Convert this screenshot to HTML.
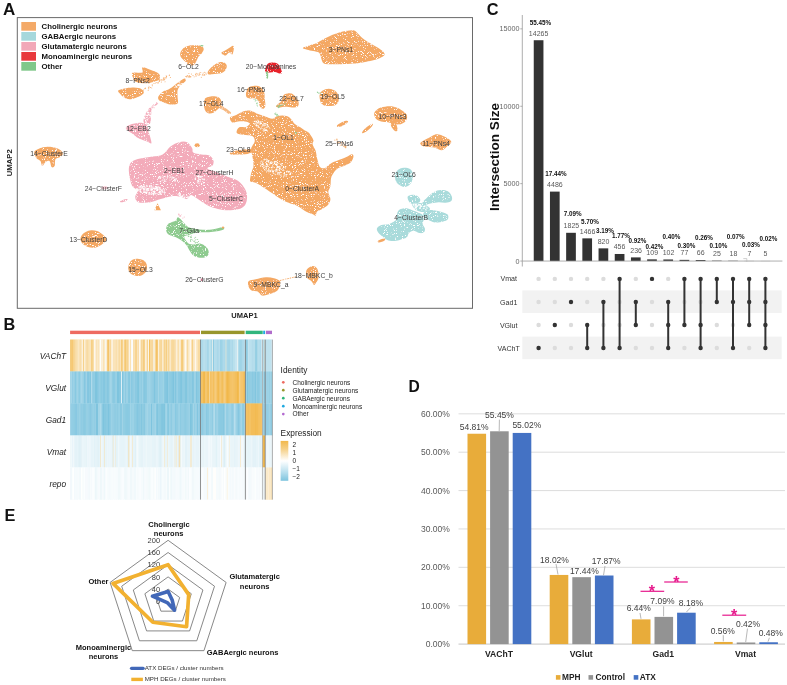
<!DOCTYPE html>
<html><head><meta charset="utf-8"><style>
html,body{margin:0;padding:0;background:#fff;}
body{width:787px;height:685px;overflow:hidden;}
svg{display:block;font-family:"Liberation Sans", sans-serif;}
</style></head><body>
<svg width="787" height="685" viewBox="0 0 787 685">
<rect width="787" height="685" fill="#fff"/>
<defs><filter id="sp" filterUnits="userSpaceOnUse" x="17" y="17" width="456" height="292"><feTurbulence type="fractalNoise" baseFrequency="0.9" numOctaves="2" seed="5" result="n"/><feColorMatrix in="n" type="matrix" values="0 0 0 0 1  0 0 0 0 1  0 0 0 0 1  8 0 0 0 -4.9" result="w"/><feComposite in="w" in2="SourceGraphic" operator="in" result="wi"/><feMerge><feMergeNode in="SourceGraphic"/><feMergeNode in="wi"/></feMerge></filter></defs>
<rect x="17.3" y="17.6" width="455.2" height="290.7" fill="none" stroke="#6a6a6a" stroke-width="1"/>
<g filter="url(#sp)">
<path d="M180.2,53.4C180.5,51.9 181.9,49.6 183.3,48.3C184.7,47.0 186.4,46.2 188.4,45.7C190.4,45.2 193.3,45.1 195.5,45.2C197.7,45.3 200.3,45.5 201.7,46.2C203.1,46.9 203.7,48.1 203.7,49.3C203.7,50.5 202.5,52.2 201.7,53.4C200.8,54.6 199.4,55.3 198.6,56.5C197.8,57.7 197.2,59.3 196.6,60.5C196.0,61.7 195.7,62.8 195.0,63.6C194.3,64.5 193.6,65.4 192.5,65.6C191.4,65.8 189.6,65.3 188.4,64.6C187.2,63.9 186.5,62.8 185.3,61.6C184.1,60.4 182.0,58.9 181.2,57.5C180.3,56.1 179.8,54.9 180.2,53.4Z" fill="#F4A863" fill-opacity="1"/>
<ellipse cx="201.6" cy="45.8" rx="2" ry="0.8" fill="#8ECB8F"/>
<path d="M221.1,52.9C221.8,52.0 225.2,50.5 227.2,49.3C229.1,48.1 231.7,45.8 232.8,45.7C233.9,45.6 233.9,47.3 233.8,48.8C233.7,50.2 233.1,53.8 232.3,54.4C231.5,55.0 230.3,52.2 229.2,52.4C228.1,52.6 226.7,55.1 225.7,55.4C224.7,55.7 223.9,54.8 223.1,54.4C222.3,54.0 220.4,53.8 221.1,52.9Z" fill="#F4A863" fill-opacity="1"/>
<path d="M207.8,71.8C208.2,70.7 209.7,68.9 210.9,67.7C212.1,66.5 213.4,65.5 214.9,64.6C216.4,63.7 218.6,62.4 220.1,62.1C221.6,61.8 223.0,62.0 224.1,62.6C225.2,63.2 226.4,64.4 226.7,65.6C227.0,66.8 226.5,68.5 225.7,69.7C224.9,70.9 223.5,72.1 222.1,72.8C220.7,73.5 218.7,73.5 217.0,73.8C215.3,74.0 213.3,74.2 211.9,74.3C210.5,74.4 209.0,74.7 208.3,74.3C207.6,73.9 207.4,72.9 207.8,71.8Z" fill="#F4A863" fill-opacity="1"/>
<circle cx="194.1" cy="76.8" r="0.5" fill="#F4A863"/>
<circle cx="186.5" cy="76.0" r="0.5" fill="#F4A863"/>
<circle cx="186.9" cy="76.3" r="0.5" fill="#F4A863"/>
<circle cx="196.0" cy="75.2" r="0.5" fill="#F4A863"/>
<circle cx="195.6" cy="74.5" r="0.5" fill="#F4A863"/>
<circle cx="188.9" cy="73.6" r="0.5" fill="#F4A863"/>
<circle cx="196.1" cy="76.5" r="0.5" fill="#F4A863"/>
<circle cx="187.6" cy="75.6" r="0.5" fill="#F4A863"/>
<circle cx="189.9" cy="76.7" r="0.5" fill="#F4A863"/>
<circle cx="204.6" cy="75.1" r="0.5" fill="#F4A863"/>
<circle cx="199.0" cy="75.4" r="0.5" fill="#F4A863"/>
<circle cx="188.1" cy="76.6" r="0.5" fill="#F4A863"/>
<circle cx="200.0" cy="74.6" r="0.5" fill="#F4A863"/>
<circle cx="197.9" cy="74.7" r="0.5" fill="#F4A863"/>
<circle cx="203.2" cy="72.9" r="0.5" fill="#F4A863"/>
<circle cx="196.2" cy="74.1" r="0.5" fill="#F4A863"/>
<circle cx="201.3" cy="77.2" r="0.5" fill="#F4A863"/>
<circle cx="186.8" cy="77.1" r="0.5" fill="#F4A863"/>
<circle cx="189.0" cy="76.0" r="0.5" fill="#F4A863"/>
<circle cx="200.8" cy="72.6" r="0.5" fill="#F4A863"/>
<circle cx="204.5" cy="75.1" r="0.5" fill="#F4A863"/>
<circle cx="197.9" cy="73.8" r="0.5" fill="#F4A863"/>
<circle cx="205.8" cy="73.1" r="0.5" fill="#F4A863"/>
<circle cx="202.3" cy="74.9" r="0.5" fill="#F4A863"/>
<circle cx="202.5" cy="74.1" r="0.5" fill="#F4A863"/>
<circle cx="190.9" cy="76.7" r="0.5" fill="#F4A863"/>
<circle cx="185.8" cy="76.6" r="0.5" fill="#F4A863"/>
<circle cx="190.5" cy="76.8" r="0.5" fill="#F4A863"/>
<circle cx="188.9" cy="77.2" r="0.5" fill="#F4A863"/>
<circle cx="206.3" cy="74.1" r="0.5" fill="#F4A863"/>
<circle cx="199.7" cy="73.1" r="0.5" fill="#F4A863"/>
<circle cx="204.8" cy="74.7" r="0.5" fill="#F4A863"/>
<circle cx="196.1" cy="73.2" r="0.5" fill="#F4A863"/>
<circle cx="189.7" cy="76.8" r="0.5" fill="#F4A863"/>
<circle cx="189.5" cy="75.8" r="0.5" fill="#F4A863"/>
<circle cx="193.0" cy="75.6" r="0.5" fill="#F4A863"/>
<circle cx="191.4" cy="74.0" r="0.5" fill="#F4A863"/>
<circle cx="199.5" cy="73.9" r="0.5" fill="#F4A863"/>
<circle cx="203.3" cy="75.0" r="0.5" fill="#F4A863"/>
<circle cx="204.7" cy="72.2" r="0.5" fill="#F4A863"/>
<path d="M132.5,72.7C134.0,71.8 140.5,73.4 142.2,72.5C143.9,71.6 141.1,67.8 142.5,67.4C143.9,67.0 148.4,69.2 150.9,70.1C153.4,71.0 156.0,71.8 157.5,72.7C159.0,73.7 159.8,74.6 160.0,75.8C160.2,77.0 159.8,78.9 159.0,79.8C158.2,80.7 156.6,80.9 154.9,81.4C153.2,81.9 151.2,82.7 148.8,82.9C146.4,83.2 143.0,83.2 140.6,82.9C138.2,82.6 135.8,81.8 134.5,80.9C133.2,80.1 133.3,79.2 133.0,77.8C132.7,76.4 131.0,73.6 132.5,72.7Z" fill="#F4A863" fill-opacity="1"/>
<path d="M118.2,90.6C118.9,89.7 121.9,89.0 124.3,88.5C126.7,88.0 130.1,87.6 132.5,87.5C134.9,87.4 136.9,87.6 138.6,88.0C140.3,88.4 141.8,89.2 142.7,90.1C143.5,90.9 144.0,92.2 143.7,93.1C143.3,94.0 142.1,94.8 140.6,95.7C139.1,96.6 136.4,97.6 134.5,98.2C132.6,98.8 131.1,99.3 129.4,99.2C127.7,99.1 125.8,98.6 124.3,97.7C122.8,96.8 121.2,95.3 120.2,94.1C119.2,92.9 117.5,91.5 118.2,90.6Z" fill="#F4A863" fill-opacity="1"/>
<circle cx="152.2" cy="84.7" r="0.5" fill="#F4A863"/>
<circle cx="159.4" cy="81.6" r="0.5" fill="#F4A863"/>
<circle cx="149.0" cy="87.7" r="0.5" fill="#F4A863"/>
<circle cx="145.2" cy="88.4" r="0.5" fill="#F4A863"/>
<circle cx="145.3" cy="88.1" r="0.5" fill="#F4A863"/>
<circle cx="164.2" cy="77.9" r="0.5" fill="#F4A863"/>
<circle cx="148.4" cy="87.2" r="0.5" fill="#F4A863"/>
<circle cx="149.0" cy="83.4" r="0.5" fill="#F4A863"/>
<circle cx="154.0" cy="83.5" r="0.5" fill="#F4A863"/>
<circle cx="144.9" cy="88.8" r="0.5" fill="#F4A863"/>
<circle cx="163.9" cy="79.3" r="0.5" fill="#F4A863"/>
<circle cx="165.9" cy="77.4" r="0.5" fill="#F4A863"/>
<circle cx="158.5" cy="82.8" r="0.5" fill="#F4A863"/>
<circle cx="169.1" cy="75.4" r="0.5" fill="#F4A863"/>
<circle cx="148.9" cy="86.6" r="0.5" fill="#F4A863"/>
<circle cx="159.6" cy="79.2" r="0.5" fill="#F4A863"/>
<circle cx="151.7" cy="87.9" r="0.5" fill="#F4A863"/>
<circle cx="169.4" cy="74.9" r="0.5" fill="#F4A863"/>
<circle cx="163.4" cy="78.0" r="0.5" fill="#F4A863"/>
<circle cx="155.7" cy="83.1" r="0.5" fill="#F4A863"/>
<circle cx="143.5" cy="89.9" r="0.5" fill="#F4A863"/>
<circle cx="162.0" cy="80.2" r="0.5" fill="#F4A863"/>
<circle cx="170.4" cy="77.5" r="0.5" fill="#F4A863"/>
<circle cx="152.3" cy="85.8" r="0.5" fill="#F4A863"/>
<circle cx="148.6" cy="88.8" r="0.5" fill="#F4A863"/>
<circle cx="166.5" cy="76.7" r="0.5" fill="#F4A863"/>
<circle cx="159.5" cy="80.5" r="0.5" fill="#F4A863"/>
<circle cx="161.9" cy="79.6" r="0.5" fill="#F4A863"/>
<circle cx="160.8" cy="80.1" r="0.5" fill="#F4A863"/>
<circle cx="161.3" cy="82.0" r="0.5" fill="#F4A863"/>
<circle cx="166.0" cy="78.3" r="0.5" fill="#F4A863"/>
<circle cx="166.5" cy="76.7" r="0.5" fill="#F4A863"/>
<circle cx="148.2" cy="90.3" r="0.5" fill="#F4A863"/>
<circle cx="165.0" cy="81.7" r="0.5" fill="#F4A863"/>
<circle cx="166.7" cy="76.0" r="0.5" fill="#F4A863"/>
<circle cx="156.9" cy="82.6" r="0.5" fill="#F4A863"/>
<circle cx="166.1" cy="75.8" r="0.5" fill="#F4A863"/>
<circle cx="163.4" cy="79.1" r="0.5" fill="#F4A863"/>
<circle cx="163.9" cy="80.3" r="0.5" fill="#F4A863"/>
<circle cx="150.5" cy="87.6" r="0.5" fill="#F4A863"/>
<circle cx="148.7" cy="86.3" r="0.5" fill="#F4A863"/>
<circle cx="164.7" cy="79.5" r="0.5" fill="#F4A863"/>
<circle cx="159.0" cy="81.1" r="0.5" fill="#F4A863"/>
<circle cx="164.0" cy="78.0" r="0.5" fill="#F4A863"/>
<circle cx="157.8" cy="82.9" r="0.5" fill="#F4A863"/>
<path d="M158.4,96.4C159.0,95.1 160.8,93.1 162.5,91.9C164.2,90.7 166.8,90.3 168.7,89.3C170.6,88.3 172.2,87.0 174.0,85.7C175.8,84.4 177.6,82.8 179.4,81.6C181.2,80.4 183.7,78.7 184.7,78.6C185.7,78.5 186.3,79.7 185.6,80.9C184.9,82.1 181.6,84.2 180.3,85.7C179.0,87.2 178.1,88.3 177.6,90.2C177.1,92.1 177.6,95.1 177.6,97.3C177.6,99.5 178.8,102.3 177.6,103.5C176.4,104.7 172.9,104.6 170.5,104.4C168.1,104.2 165.3,103.0 163.4,102.2C161.5,101.5 159.7,100.9 158.9,99.9C158.1,98.9 157.8,97.7 158.4,96.4Z" fill="#F4A863" fill-opacity="1"/>
<circle cx="179.6" cy="82.1" r="0.59" fill="#fff"/>
<circle cx="180.0" cy="83.9" r="0.53" fill="#fff"/>
<circle cx="178.3" cy="85.1" r="0.71" fill="#fff"/>
<circle cx="174.9" cy="87.5" r="0.50" fill="#fff"/>
<circle cx="176.9" cy="87.3" r="0.60" fill="#fff"/>
<circle cx="179.2" cy="85.6" r="0.76" fill="#fff"/>
<circle cx="177.8" cy="85.7" r="0.60" fill="#fff"/>
<circle cx="178.6" cy="85.6" r="0.58" fill="#fff"/>
<circle cx="178.2" cy="84.7" r="0.78" fill="#fff"/>
<circle cx="180.6" cy="85.2" r="0.78" fill="#fff"/>
<circle cx="176.2" cy="86.6" r="0.78" fill="#fff"/>
<circle cx="179.9" cy="81.7" r="0.45" fill="#fff"/>
<path d="M204.7,98.9C205.4,97.5 206.7,97.3 208.3,96.9C209.9,96.5 212.5,96.1 214.4,96.3C216.3,96.5 218.3,96.9 219.5,97.9C220.7,98.9 221.4,101.0 221.6,102.5C221.8,104.0 221.2,105.4 220.5,106.6C219.8,107.8 218.7,108.6 217.5,109.6C216.3,110.6 214.9,112.1 213.4,112.7C211.9,113.3 209.7,113.6 208.3,113.2C206.9,112.8 205.9,111.9 205.2,110.6C204.5,109.3 204.1,107.5 204.0,105.5C203.9,103.5 204.0,100.3 204.7,98.9Z" fill="#F4A863" fill-opacity="1"/>
<path d="M220.0,105.0C221.1,105.1 224.2,107.2 226.0,108.5C227.8,109.8 230.5,111.6 231.0,112.5C231.5,113.4 230.2,114.3 229.0,114.0C227.8,113.7 225.6,111.5 224.0,110.5C222.4,109.5 220.2,108.9 219.5,108.0C218.8,107.1 218.9,104.9 220.0,105.0Z" fill="#F4A863" fill-opacity="0.8"/>
<path d="M125.8,127.8C126.0,126.8 128.0,125.6 129.5,124.9C131.0,124.2 132.8,123.9 134.6,123.5C136.4,123.1 138.8,122.7 140.4,122.7C142.0,122.7 143.0,123.0 144.1,123.5C145.2,124.0 146.3,124.4 147.0,125.7C147.7,127.0 148.0,129.8 148.5,131.5C149.0,133.2 149.4,134.0 149.9,135.9C150.4,137.8 151.8,142.2 151.4,143.2C151.0,144.2 149.0,142.2 147.7,141.7C146.4,141.2 145.0,140.9 143.4,140.3C141.8,139.7 140.0,139.2 138.2,138.1C136.4,137.0 134.1,134.9 132.4,133.7C130.7,132.5 129.1,131.8 128.0,130.8C126.9,129.8 125.5,128.8 125.8,127.8Z" fill="#F3ABBA" fill-opacity="1"/>
<path d="M143.5,120.0C143.7,118.1 145.0,115.0 146.0,113.0C147.0,111.0 148.6,108.7 149.5,108.0C150.4,107.3 151.2,107.7 151.5,109.0C151.8,110.3 151.2,113.6 151.0,116.0C150.8,118.4 151.0,122.1 150.0,123.5C149.0,124.9 146.1,124.8 145.0,124.2C143.9,123.6 143.3,121.9 143.5,120.0Z" fill="#F3ABBA" fill-opacity="1"/>
<circle cx="149.3" cy="109.7" r="0.50" fill="#fff"/>
<circle cx="144.5" cy="117.7" r="0.71" fill="#fff"/>
<circle cx="148.8" cy="118.7" r="0.46" fill="#fff"/>
<circle cx="147.4" cy="115.6" r="0.80" fill="#fff"/>
<circle cx="151.6" cy="111.7" r="0.57" fill="#fff"/>
<circle cx="148.7" cy="113.7" r="0.48" fill="#fff"/>
<circle cx="145.9" cy="118.9" r="0.41" fill="#fff"/>
<circle cx="148.6" cy="115.2" r="0.41" fill="#fff"/>
<circle cx="146.4" cy="117.5" r="0.60" fill="#fff"/>
<circle cx="146.2" cy="111.9" r="0.42" fill="#fff"/>
<circle cx="150.8" cy="113.2" r="0.45" fill="#fff"/>
<circle cx="145.9" cy="121.8" r="0.73" fill="#fff"/>
<circle cx="147.7" cy="110.5" r="0.77" fill="#fff"/>
<circle cx="147.7" cy="119.0" r="0.44" fill="#fff"/>
<circle cx="144.3" cy="117.9" r="0.57" fill="#fff"/>
<circle cx="147.7" cy="120.6" r="0.43" fill="#fff"/>
<circle cx="150.6" cy="116.0" r="0.54" fill="#fff"/>
<circle cx="146.7" cy="122.3" r="0.51" fill="#fff"/>
<circle cx="145.4" cy="115.7" r="0.50" fill="#fff"/>
<circle cx="147.5" cy="112.8" r="0.70" fill="#fff"/>
<circle cx="146.6" cy="115.6" r="0.47" fill="#fff"/>
<circle cx="149.4" cy="117.2" r="0.48" fill="#fff"/>
<circle cx="146.1" cy="122.3" r="0.44" fill="#fff"/>
<circle cx="150.4" cy="115.6" r="0.60" fill="#fff"/>
<circle cx="150.7" cy="115.1" r="0.60" fill="#fff"/>
<circle cx="145.6" cy="120.5" r="0.68" fill="#fff"/>
<circle cx="149.3" cy="114.9" r="0.54" fill="#fff"/>
<circle cx="144.2" cy="118.7" r="0.50" fill="#fff"/>
<circle cx="150.0" cy="113.1" r="0.50" fill="#fff"/>
<circle cx="146.8" cy="115.0" r="0.46" fill="#fff"/>
<circle cx="148.6" cy="112.5" r="0.78" fill="#fff"/>
<circle cx="151.0" cy="117.5" r="0.50" fill="#fff"/>
<circle cx="147.3" cy="115.4" r="0.60" fill="#fff"/>
<circle cx="146.0" cy="115.5" r="0.40" fill="#fff"/>
<circle cx="148.0" cy="109.6" r="0.56" fill="#fff"/>
<circle cx="147.7" cy="111.8" r="0.63" fill="#fff"/>
<circle cx="147.2" cy="119.7" r="0.66" fill="#fff"/>
<circle cx="156.3" cy="104.2" r="0.5" fill="#F3ABBA"/>
<circle cx="153.1" cy="107.0" r="0.5" fill="#F3ABBA"/>
<circle cx="155.6" cy="104.5" r="0.5" fill="#F3ABBA"/>
<circle cx="157.6" cy="103.3" r="0.5" fill="#F3ABBA"/>
<circle cx="156.0" cy="104.2" r="0.5" fill="#F3ABBA"/>
<circle cx="152.7" cy="105.8" r="0.5" fill="#F3ABBA"/>
<circle cx="156.9" cy="103.2" r="0.5" fill="#F3ABBA"/>
<circle cx="156.6" cy="102.5" r="0.5" fill="#F3ABBA"/>
<circle cx="152.3" cy="107.7" r="0.5" fill="#F3ABBA"/>
<circle cx="154.1" cy="107.8" r="0.5" fill="#F3ABBA"/>
<circle cx="153.7" cy="104.8" r="0.5" fill="#F3ABBA"/>
<circle cx="155.4" cy="104.9" r="0.5" fill="#F3ABBA"/>
<circle cx="156.4" cy="103.3" r="0.5" fill="#F3ABBA"/>
<circle cx="154.1" cy="105.5" r="0.5" fill="#F3ABBA"/>
<circle cx="155.9" cy="104.9" r="0.5" fill="#F3ABBA"/>
<circle cx="152.1" cy="106.9" r="0.5" fill="#F3ABBA"/>
<circle cx="156.8" cy="104.4" r="0.5" fill="#F3ABBA"/>
<circle cx="151.9" cy="106.9" r="0.5" fill="#F3ABBA"/>
<path d="M34.3,151.8C34.8,150.2 37.2,149.2 39.4,148.4C41.6,147.6 44.5,146.8 47.5,146.8C50.5,146.8 55.2,147.4 57.7,148.4C60.2,149.4 62.2,151.5 62.7,152.9C63.2,154.3 61.9,155.9 60.7,156.9C59.5,157.9 56.6,157.5 55.6,159.0C54.6,160.5 55.3,164.8 54.6,166.1C53.9,167.4 52.5,167.9 51.6,167.1C50.8,166.2 50.5,161.8 49.5,161.0C48.5,160.2 46.7,161.2 45.5,162.0C44.3,162.8 43.2,166.3 42.4,166.1C41.5,165.9 41.4,162.4 40.4,161.0C39.4,159.6 37.3,159.4 36.3,157.9C35.3,156.4 33.8,153.4 34.3,151.8Z" fill="#F4A863" fill-opacity="1"/>
<path d="M302.8,47.9C303.2,47.2 307.2,46.3 309.5,45.5C311.8,44.7 314.5,44.1 316.7,43.1C318.9,42.1 320.6,40.7 322.8,39.5C325.0,38.3 327.4,37.0 330.0,35.9C332.6,34.8 335.7,33.6 338.5,32.8C341.3,31.9 344.3,31.2 346.9,30.8C349.5,30.4 352.4,29.9 354.2,30.4C356.0,30.8 356.4,32.2 357.8,33.5C359.2,34.8 360.6,36.7 362.6,38.3C364.6,39.9 367.4,41.6 369.8,43.1C372.2,44.6 374.9,45.9 377.1,47.3C379.3,48.7 381.9,50.3 383.1,51.6C384.3,52.9 384.9,54.1 384.3,55.2C383.7,56.3 381.5,57.3 379.5,58.2C377.5,59.1 375.1,59.9 372.3,60.6C369.5,61.3 365.8,61.9 362.6,62.4C359.4,62.9 356.5,63.3 352.9,63.6C349.3,63.9 345.1,64.1 340.9,64.2C336.7,64.3 330.6,64.5 327.6,64.2C324.6,63.9 323.9,63.5 322.8,62.4C321.7,61.3 321.6,59.2 321.0,57.6C320.4,56.0 320.4,53.9 319.1,52.8C317.8,51.7 315.1,51.5 313.1,51.0C311.1,50.5 308.8,50.2 307.1,49.7C305.4,49.2 302.4,48.6 302.8,47.9Z" fill="#F4A863" fill-opacity="1"/>
<path d="M265.0,70.0C265.1,68.8 265.8,66.7 266.5,65.5C267.2,64.3 267.8,63.5 269.0,63.0C270.2,62.5 272.5,62.3 274.0,62.5C275.5,62.7 277.0,63.2 278.0,64.0C279.0,64.8 279.4,65.9 280.0,67.0C280.6,68.1 281.2,69.5 281.5,70.5C281.8,71.5 282.3,72.5 282.0,73.0C281.7,73.5 280.7,73.7 279.5,73.5C278.3,73.3 276.6,72.2 275.0,72.0C273.4,71.8 271.5,72.4 270.0,72.5C268.5,72.6 266.8,72.9 266.0,72.5C265.2,72.1 264.9,71.2 265.0,70.0Z" fill="#E8222B" fill-opacity="1"/>
<path d="M266.0,72.0C266.2,71.0 267.7,71.0 268.0,72.0C268.3,73.0 268.2,77.0 268.0,78.0C267.8,79.0 266.8,79.0 266.5,78.0C266.2,77.0 265.8,73.0 266.0,72.0Z" fill="#8ECB8F" fill-opacity="1"/>
<path d="M246.0,93.3C246.2,91.8 246.8,89.2 248.0,88.0C249.2,86.8 251.3,86.2 253.3,86.0C255.3,85.8 258.2,85.7 260.0,86.7C261.8,87.7 263.2,90.0 264.0,92.0C264.8,94.0 264.5,96.5 264.7,98.7C264.9,100.9 265.6,103.7 265.4,105.4C265.2,107.1 264.2,108.5 263.3,108.7C262.4,108.9 260.8,108.0 260.0,106.7C259.2,105.4 259.3,102.4 258.5,101.0C257.7,99.6 256.4,98.9 255.0,98.5C253.6,98.1 251.4,98.7 250.0,98.5C248.6,98.3 247.4,98.2 246.7,97.3C246.0,96.4 245.8,94.8 246.0,93.3Z" fill="#F4A863" fill-opacity="1"/>
<circle cx="256.7" cy="103.8" r="0.5" fill="#8ECB8F"/>
<circle cx="255.5" cy="99.9" r="0.5" fill="#8ECB8F"/>
<circle cx="257.0" cy="104.9" r="0.5" fill="#8ECB8F"/>
<circle cx="255.5" cy="99.3" r="0.5" fill="#8ECB8F"/>
<circle cx="256.7" cy="102.9" r="0.5" fill="#8ECB8F"/>
<circle cx="255.2" cy="101.0" r="0.5" fill="#8ECB8F"/>
<circle cx="257.3" cy="103.1" r="0.5" fill="#8ECB8F"/>
<circle cx="257.0" cy="100.2" r="0.5" fill="#8ECB8F"/>
<circle cx="254.0" cy="99.4" r="0.5" fill="#8ECB8F"/>
<circle cx="257.5" cy="105.9" r="0.5" fill="#8ECB8F"/>
<path d="M284.0,94.7C285.6,93.4 288.7,92.9 290.7,93.3C292.7,93.7 294.7,95.7 296.0,97.3C297.3,98.9 298.5,101.1 298.7,102.7C298.9,104.3 298.5,105.9 297.4,106.7C296.3,107.5 294.0,107.4 292.0,107.4C290.0,107.4 287.4,106.7 285.4,106.7C283.4,106.7 281.6,107.4 280.0,107.4C278.4,107.4 276.3,107.3 276.0,106.7C275.7,106.1 277.1,104.9 278.0,104.0C278.9,103.1 280.4,102.8 281.4,101.3C282.4,99.8 282.4,96.0 284.0,94.7Z" fill="#F4A863" fill-opacity="1"/>
<circle cx="279.1" cy="106.0" r="0.55" fill="#8ECB8F"/>
<circle cx="282.2" cy="105.3" r="0.55" fill="#8ECB8F"/>
<circle cx="285.5" cy="104.1" r="0.55" fill="#8ECB8F"/>
<circle cx="281.9" cy="104.3" r="0.55" fill="#8ECB8F"/>
<circle cx="279.5" cy="105.6" r="0.55" fill="#8ECB8F"/>
<circle cx="278.0" cy="106.9" r="0.55" fill="#8ECB8F"/>
<circle cx="280.5" cy="105.6" r="0.55" fill="#8ECB8F"/>
<circle cx="279.2" cy="106.9" r="0.55" fill="#8ECB8F"/>
<circle cx="277.0" cy="105.7" r="0.55" fill="#8ECB8F"/>
<circle cx="279.0" cy="106.0" r="0.55" fill="#8ECB8F"/>
<circle cx="284.0" cy="104.0" r="0.55" fill="#8ECB8F"/>
<circle cx="281.1" cy="105.4" r="0.55" fill="#8ECB8F"/>
<circle cx="279.4" cy="105.8" r="0.55" fill="#8ECB8F"/>
<circle cx="278.5" cy="107.6" r="0.55" fill="#8ECB8F"/>
<path d="M320.0,93.3C320.9,91.5 323.4,90.0 325.4,89.3C327.4,88.6 330.0,88.6 332.0,89.3C334.0,90.0 336.3,91.5 337.4,93.3C338.5,95.1 338.9,98.1 338.7,100.0C338.5,101.9 337.6,103.7 336.0,104.7C334.4,105.7 331.6,106.0 329.4,106.0C327.2,106.0 324.3,105.7 322.7,104.7C321.1,103.7 320.4,101.9 320.0,100.0C319.6,98.1 319.1,95.1 320.0,93.3Z" fill="#F4A863" fill-opacity="1"/>
<circle cx="319.2" cy="92.9" r="0.5" fill="#8ECB8F"/>
<circle cx="318.4" cy="93.0" r="0.5" fill="#8ECB8F"/>
<circle cx="320.4" cy="93.0" r="0.5" fill="#8ECB8F"/>
<circle cx="321.5" cy="93.3" r="0.5" fill="#8ECB8F"/>
<circle cx="322.4" cy="94.1" r="0.5" fill="#8ECB8F"/>
<circle cx="317.3" cy="92.1" r="0.5" fill="#8ECB8F"/>
<circle cx="321.6" cy="93.7" r="0.5" fill="#8ECB8F"/>
<circle cx="317.6" cy="92.5" r="0.5" fill="#8ECB8F"/>
<path d="M374.7,112.0C375.7,110.5 378.1,108.5 380.9,107.6C383.7,106.6 388.3,106.0 391.6,106.3C394.9,106.6 398.0,108.0 400.5,109.4C403.0,110.8 405.8,112.8 406.7,114.7C407.6,116.6 407.1,119.3 405.8,120.9C404.5,122.5 401.4,124.2 398.7,124.5C396.0,124.8 392.5,123.2 389.8,122.7C387.1,122.2 384.8,122.2 382.7,121.8C380.6,121.3 378.7,120.9 377.4,120.0C376.1,119.1 375.1,117.8 374.7,116.5C374.2,115.2 373.7,113.5 374.7,112.0Z" fill="#F4A863" fill-opacity="1"/>
<path d="M392.0,122.0C392.8,121.7 395.1,122.7 396.0,124.0C396.9,125.3 397.7,128.8 397.5,130.0C397.3,131.2 396.1,131.7 395.0,131.0C393.9,130.3 391.5,127.5 391.0,126.0C390.5,124.5 391.2,122.3 392.0,122.0Z" fill="#F4A863" fill-opacity="1"/>
<path d="M421.0,142.3C422.3,141.1 426.5,139.1 429.0,137.8C431.5,136.5 433.6,134.6 436.0,134.3C438.4,134.0 440.7,134.8 443.2,136.0C445.7,137.2 450.6,139.6 451.2,141.4C451.8,143.2 448.3,145.2 446.7,146.7C445.1,148.2 443.5,150.2 441.4,150.3C439.3,150.5 437.0,148.2 434.3,147.6C431.6,147.0 427.6,147.1 425.4,146.7C423.2,146.2 421.7,145.6 421.0,144.9C420.3,144.2 419.7,143.5 421.0,142.3Z" fill="#F4A863" fill-opacity="1"/>
<ellipse cx="342.5" cy="123.8" rx="6.2" ry="1.8" fill="#F4A863" transform="rotate(-25 342.5 123.8)"/>
<ellipse cx="367.5" cy="128.5" rx="7" ry="1.6" fill="#F4A863" transform="rotate(-40 367.5 128.5)"/>
<path d="M396.0,172.0C397.2,170.3 399.7,168.5 402.0,168.0C404.3,167.5 408.2,167.8 410.0,169.0C411.8,170.2 412.8,172.7 413.0,175.0C413.2,177.3 412.3,181.0 411.0,183.0C409.7,185.0 407.2,186.8 405.0,187.0C402.8,187.2 399.7,185.5 398.0,184.0C396.3,182.5 395.3,180.0 395.0,178.0C394.7,176.0 394.8,173.7 396.0,172.0Z" fill="#A9DBDB" fill-opacity="1"/>
<path d="M407.7,196.4C408.4,195.2 411.8,194.7 413.5,194.7C415.2,194.7 416.9,195.5 418.0,196.4C419.1,197.3 420.3,198.7 420.3,199.9C420.3,201.2 419.1,203.2 418.0,203.9C416.9,204.7 414.9,204.7 413.5,204.4C412.1,204.1 410.5,203.5 409.5,202.2C408.5,200.9 407.0,197.7 407.7,196.4Z" fill="#A9DBDB" fill-opacity="1"/>
<path d="M429.5,195.3C430.8,194.2 432.1,192.8 434.0,191.9C435.9,191.0 438.6,190.2 440.9,190.1C443.2,190.0 446.0,190.2 447.8,191.3C449.6,192.4 451.2,194.8 451.8,196.4C452.4,198.0 452.2,199.9 451.2,201.0C450.1,202.1 447.6,202.5 445.5,202.7C443.4,202.9 440.9,202.1 438.6,202.2C436.3,202.3 433.7,202.9 431.8,203.3C429.9,203.7 428.5,204.1 427.2,204.4C425.9,204.7 424.6,205.4 423.8,205.0C423.0,204.6 422.2,203.2 422.6,202.2C423.0,201.1 424.9,199.8 426.0,198.7C427.1,197.5 428.2,196.4 429.5,195.3Z" fill="#A9DBDB" fill-opacity="1"/>
<path d="M423.8,212.4C424.8,211.3 427.4,210.5 429.5,210.2C431.6,209.9 434.0,210.3 436.3,210.7C438.6,211.1 441.3,211.7 443.2,212.4C445.1,213.1 447.0,213.5 447.8,214.7C448.6,215.8 448.6,218.2 447.8,219.3C447.0,220.5 445.1,221.0 443.2,221.6C441.3,222.2 438.2,222.7 436.3,222.7C434.4,222.7 433.3,222.2 431.8,221.6C430.3,221.0 428.5,220.1 427.2,219.3C425.9,218.5 424.4,218.2 423.8,217.0C423.2,215.8 422.9,213.5 423.8,212.4Z" fill="#A9DBDB" fill-opacity="1"/>
<path d="M376.9,228.5C377.4,227.2 379.3,225.8 381.4,225.0C383.5,224.2 386.9,224.8 389.4,223.9C391.9,223.0 395.0,221.2 396.3,219.3C397.6,217.4 396.6,214.1 397.4,212.4C398.2,210.7 399.2,209.7 400.9,209.0C402.6,208.3 405.6,208.1 407.7,208.4C409.8,208.7 411.8,210.0 413.5,210.7C415.2,211.4 416.5,211.7 418.0,212.4C419.5,213.1 421.6,213.5 422.6,214.7C423.6,215.8 423.8,217.8 423.8,219.3C423.8,220.8 422.4,222.4 422.6,223.9C422.8,225.4 424.7,227.1 424.9,228.5C425.1,229.9 424.8,231.8 423.8,232.5C422.9,233.2 420.9,233.3 419.2,233.0C417.5,232.7 415.2,230.7 413.5,230.7C411.8,230.7 410.0,231.8 408.9,233.0C407.8,234.2 408.1,236.4 406.6,237.6C405.1,238.8 402.0,239.3 399.7,239.9C397.4,240.5 395.0,241.0 392.9,241.0C390.8,241.0 388.9,240.7 387.2,239.9C385.5,239.2 384.0,237.7 382.6,236.5C381.2,235.3 379.6,234.3 378.6,233.0C377.7,231.7 376.4,229.8 376.9,228.5Z" fill="#A9DBDB" fill-opacity="1"/>
<path d="M412.0,204.0C412.7,202.8 417.7,202.8 420.0,203.0C422.3,203.2 424.3,204.0 426.0,205.0C427.7,206.0 430.3,207.8 430.0,209.0C429.7,210.2 426.3,211.8 424.0,212.0C421.7,212.2 418.0,211.3 416.0,210.0C414.0,208.7 411.3,205.2 412.0,204.0Z" fill="#A9DBDB" fill-opacity="1"/>
<circle cx="419.8" cy="205.8" r="0.52" fill="#fff"/>
<circle cx="416.0" cy="207.4" r="0.52" fill="#fff"/>
<circle cx="421.0" cy="206.4" r="0.47" fill="#fff"/>
<circle cx="415.0" cy="204.0" r="0.76" fill="#fff"/>
<circle cx="420.3" cy="205.1" r="0.76" fill="#fff"/>
<circle cx="427.9" cy="208.0" r="0.46" fill="#fff"/>
<circle cx="418.0" cy="203.7" r="0.50" fill="#fff"/>
<circle cx="416.1" cy="206.8" r="0.75" fill="#fff"/>
<circle cx="424.0" cy="207.1" r="0.57" fill="#fff"/>
<circle cx="420.5" cy="206.2" r="0.54" fill="#fff"/>
<circle cx="413.4" cy="204.2" r="0.79" fill="#fff"/>
<circle cx="414.1" cy="206.0" r="0.65" fill="#fff"/>
<circle cx="426.1" cy="206.1" r="0.51" fill="#fff"/>
<circle cx="416.2" cy="205.6" r="0.58" fill="#fff"/>
<circle cx="426.3" cy="207.9" r="0.63" fill="#fff"/>
<circle cx="416.5" cy="203.6" r="0.46" fill="#fff"/>
<circle cx="420.1" cy="208.3" r="0.78" fill="#fff"/>
<circle cx="423.3" cy="208.6" r="0.71" fill="#fff"/>
<circle cx="419.3" cy="207.2" r="0.42" fill="#fff"/>
<circle cx="424.8" cy="205.9" r="0.77" fill="#fff"/>
<circle cx="422.5" cy="206.1" r="0.45" fill="#fff"/>
<circle cx="415.9" cy="207.2" r="0.68" fill="#fff"/>
<circle cx="420.3" cy="207.6" r="0.56" fill="#fff"/>
<circle cx="415.5" cy="206.9" r="0.40" fill="#fff"/>
<circle cx="416.9" cy="206.2" r="0.78" fill="#fff"/>
<circle cx="421.8" cy="210.0" r="0.59" fill="#fff"/>
<circle cx="416.1" cy="204.5" r="0.78" fill="#fff"/>
<circle cx="423.5" cy="206.2" r="0.41" fill="#fff"/>
<circle cx="419.8" cy="208.2" r="0.57" fill="#fff"/>
<circle cx="416.0" cy="207.5" r="0.77" fill="#fff"/>
<circle cx="417.5" cy="206.0" r="0.67" fill="#fff"/>
<circle cx="414.9" cy="208.2" r="0.70" fill="#fff"/>
<circle cx="420.4" cy="205.0" r="0.79" fill="#fff"/>
<circle cx="416.6" cy="208.7" r="0.49" fill="#fff"/>
<circle cx="415.3" cy="208.0" r="0.52" fill="#fff"/>
<circle cx="427.1" cy="208.2" r="0.47" fill="#fff"/>
<circle cx="415.7" cy="205.7" r="0.67" fill="#fff"/>
<circle cx="418.7" cy="204.7" r="0.79" fill="#fff"/>
<circle cx="413.2" cy="205.0" r="0.76" fill="#fff"/>
<circle cx="425.8" cy="209.7" r="0.80" fill="#fff"/>
<circle cx="427.0" cy="207.0" r="0.47" fill="#fff"/>
<circle cx="412.4" cy="206.8" r="0.55" fill="#fff"/>
<circle cx="418.2" cy="205.5" r="0.47" fill="#fff"/>
<ellipse cx="381.5" cy="240.5" rx="4" ry="1.3" fill="#F4A863" transform="rotate(-20 381.5 240.5)"/>
<path d="M230.0,117.4C230.6,116.2 233.9,115.9 236.2,114.9C238.5,113.9 241.3,111.9 243.6,111.2C245.9,110.5 247.5,110.2 249.8,110.6C252.1,111.0 254.8,112.8 257.3,113.7C259.8,114.6 262.2,115.4 264.7,116.2C267.2,117.0 270.1,118.7 272.2,118.7C274.3,118.7 275.2,116.7 277.1,116.2C279.0,115.7 281.2,115.3 283.3,115.5C285.4,115.7 287.5,116.0 289.5,117.4C291.5,118.9 293.4,122.6 295.2,124.2C297.0,125.8 298.8,126.3 300.3,127.3C301.8,128.3 303.0,129.5 304.4,130.3C305.8,131.2 307.3,131.4 308.5,132.4C309.7,133.4 310.7,135.1 311.5,136.4C312.3,137.8 313.3,139.3 313.5,140.5C313.7,141.7 312.5,142.5 312.5,143.5C312.5,144.5 313.0,145.4 313.5,146.6C314.0,147.8 315.1,149.2 315.6,150.7C316.1,152.2 316.4,154.4 316.6,155.7C316.9,157.0 316.6,156.6 317.1,158.4C317.7,160.2 318.7,165.2 319.9,166.8C321.1,168.4 322.7,168.4 324.1,168.2C325.5,168.0 326.9,166.3 328.3,165.4C329.7,164.5 330.6,163.5 332.5,162.6C334.4,161.7 337.1,160.7 339.4,159.8C341.7,158.9 344.3,157.9 346.4,157.0C348.5,156.1 350.8,154.2 352.0,154.2C353.2,154.2 353.6,155.6 353.4,157.0C353.2,158.4 352.0,161.2 350.6,162.6C349.2,164.0 347.1,164.5 345.0,165.4C342.9,166.3 339.9,167.0 338.0,168.2C336.1,169.4 335.0,170.8 333.9,172.4C332.8,174.0 331.7,175.7 331.1,178.0C330.5,180.3 330.9,184.0 330.4,186.3C329.9,188.6 328.3,189.8 328.3,191.9C328.3,194.0 330.4,196.8 330.4,198.9C330.4,201.0 329.6,202.9 328.3,204.5C327.0,206.1 324.6,207.5 322.7,208.7C320.8,209.9 318.3,210.3 317.1,211.5C315.9,212.7 316.4,215.2 315.7,215.7C315.0,216.2 314.5,215.0 312.9,214.3C311.3,213.6 308.5,212.9 305.9,211.5C303.3,210.1 300.3,207.3 297.5,205.9C294.7,204.5 291.9,204.3 289.1,203.1C286.3,201.9 283.5,200.5 280.7,198.9C277.9,197.3 275.2,195.2 272.4,193.3C269.6,191.4 266.6,189.3 264.0,187.7C261.4,186.1 258.9,184.4 257.0,183.5C255.1,182.6 254.0,182.6 252.8,182.1C251.6,181.6 250.2,182.3 250.0,180.7C249.8,179.1 250.8,174.8 251.4,172.4C252.0,170.0 253.3,168.3 253.5,166.0C253.7,163.7 253.2,161.1 252.8,158.4C252.4,155.7 251.2,151.8 251.1,149.7C251.0,147.6 251.7,147.4 252.3,146.0C252.9,144.6 254.8,142.7 254.8,141.0C254.8,139.3 254.2,137.0 252.3,136.0C250.4,135.0 246.2,135.3 243.6,134.8C241.0,134.3 237.6,134.1 236.8,132.9C236.0,131.7 237.5,128.5 239.0,127.5C240.5,126.5 244.2,127.7 246.0,127.0C247.8,126.3 250.0,124.5 249.8,123.6C249.6,122.7 247.0,121.8 245.0,121.5C243.0,121.2 240.1,121.3 238.0,121.5C235.9,121.7 233.7,123.1 232.4,122.4C231.1,121.7 229.4,118.7 230.0,117.4Z" fill="#F4A863" fill-opacity="1"/>
<circle cx="268.2" cy="171.8" r="0.45" fill="#fff"/>
<circle cx="269.0" cy="170.3" r="0.73" fill="#fff"/>
<circle cx="274.8" cy="161.7" r="0.59" fill="#fff"/>
<circle cx="269.1" cy="171.6" r="0.48" fill="#fff"/>
<circle cx="268.9" cy="171.3" r="0.41" fill="#fff"/>
<circle cx="270.8" cy="170.8" r="0.71" fill="#fff"/>
<circle cx="266.1" cy="168.2" r="0.76" fill="#fff"/>
<circle cx="270.9" cy="163.3" r="0.78" fill="#fff"/>
<circle cx="279.8" cy="166.5" r="0.69" fill="#fff"/>
<circle cx="270.1" cy="163.1" r="0.40" fill="#fff"/>
<circle cx="281.3" cy="176.1" r="0.65" fill="#fff"/>
<circle cx="266.6" cy="164.6" r="0.78" fill="#fff"/>
<circle cx="290.0" cy="171.9" r="0.50" fill="#fff"/>
<circle cx="272.8" cy="167.1" r="0.77" fill="#fff"/>
<circle cx="263.5" cy="168.0" r="0.70" fill="#fff"/>
<circle cx="284.1" cy="175.1" r="0.64" fill="#fff"/>
<circle cx="270.3" cy="163.8" r="0.54" fill="#fff"/>
<circle cx="264.2" cy="167.6" r="0.50" fill="#fff"/>
<circle cx="277.5" cy="166.5" r="0.79" fill="#fff"/>
<circle cx="269.3" cy="160.2" r="0.44" fill="#fff"/>
<circle cx="274.0" cy="170.5" r="0.58" fill="#fff"/>
<circle cx="266.9" cy="163.9" r="0.65" fill="#fff"/>
<circle cx="279.5" cy="173.1" r="0.74" fill="#fff"/>
<circle cx="281.9" cy="165.3" r="0.74" fill="#fff"/>
<circle cx="268.1" cy="166.4" r="0.55" fill="#fff"/>
<circle cx="283.9" cy="167.1" r="0.50" fill="#fff"/>
<circle cx="268.4" cy="160.8" r="0.75" fill="#fff"/>
<circle cx="278.3" cy="166.8" r="0.56" fill="#fff"/>
<circle cx="290.7" cy="173.8" r="0.49" fill="#fff"/>
<circle cx="284.2" cy="173.5" r="0.80" fill="#fff"/>
<circle cx="262.4" cy="163.1" r="0.73" fill="#fff"/>
<circle cx="264.2" cy="159.8" r="0.79" fill="#fff"/>
<circle cx="275.7" cy="174.2" r="0.55" fill="#fff"/>
<circle cx="286.9" cy="171.6" r="0.50" fill="#fff"/>
<circle cx="262.0" cy="164.6" r="0.65" fill="#fff"/>
<circle cx="266.6" cy="163.1" r="0.46" fill="#fff"/>
<circle cx="266.6" cy="161.6" r="0.64" fill="#fff"/>
<circle cx="281.2" cy="166.1" r="0.40" fill="#fff"/>
<circle cx="268.7" cy="168.2" r="0.47" fill="#fff"/>
<circle cx="270.3" cy="162.2" r="0.72" fill="#fff"/>
<circle cx="278.5" cy="163.2" r="0.44" fill="#fff"/>
<circle cx="271.4" cy="167.4" r="0.66" fill="#fff"/>
<circle cx="281.6" cy="169.2" r="0.51" fill="#fff"/>
<circle cx="266.8" cy="171.3" r="0.52" fill="#fff"/>
<circle cx="277.8" cy="167.0" r="0.57" fill="#fff"/>
<circle cx="272.0" cy="162.7" r="0.69" fill="#fff"/>
<circle cx="288.2" cy="171.7" r="0.73" fill="#fff"/>
<circle cx="270.3" cy="171.6" r="0.58" fill="#fff"/>
<circle cx="276.0" cy="170.3" r="0.76" fill="#fff"/>
<circle cx="261.3" cy="164.7" r="0.55" fill="#fff"/>
<circle cx="276.7" cy="163.7" r="0.51" fill="#fff"/>
<circle cx="273.8" cy="173.4" r="0.44" fill="#fff"/>
<circle cx="273.3" cy="171.6" r="0.79" fill="#fff"/>
<circle cx="267.0" cy="159.9" r="0.78" fill="#fff"/>
<circle cx="290.3" cy="173.3" r="0.42" fill="#fff"/>
<circle cx="289.1" cy="171.6" r="0.76" fill="#fff"/>
<circle cx="277.4" cy="173.4" r="0.46" fill="#fff"/>
<circle cx="285.4" cy="167.9" r="0.56" fill="#fff"/>
<circle cx="284.6" cy="176.0" r="0.47" fill="#fff"/>
<circle cx="266.4" cy="163.5" r="0.61" fill="#fff"/>
<circle cx="273.0" cy="162.0" r="0.50" fill="#fff"/>
<circle cx="280.4" cy="175.5" r="0.42" fill="#fff"/>
<circle cx="275.8" cy="171.9" r="0.42" fill="#fff"/>
<circle cx="278.0" cy="169.8" r="0.65" fill="#fff"/>
<circle cx="269.2" cy="164.8" r="0.63" fill="#fff"/>
<circle cx="271.9" cy="169.1" r="0.58" fill="#fff"/>
<circle cx="275.1" cy="161.5" r="0.65" fill="#fff"/>
<circle cx="275.8" cy="164.6" r="0.71" fill="#fff"/>
<circle cx="284.1" cy="170.7" r="0.47" fill="#fff"/>
<circle cx="275.9" cy="162.9" r="0.45" fill="#fff"/>
<circle cx="274.6" cy="162.2" r="0.58" fill="#fff"/>
<circle cx="277.4" cy="162.5" r="0.65" fill="#fff"/>
<circle cx="260.6" cy="166.0" r="0.71" fill="#fff"/>
<circle cx="277.3" cy="162.7" r="0.60" fill="#fff"/>
<circle cx="269.1" cy="172.1" r="0.45" fill="#fff"/>
<circle cx="281.0" cy="174.5" r="0.48" fill="#fff"/>
<circle cx="290.4" cy="173.5" r="0.78" fill="#fff"/>
<circle cx="261.8" cy="161.1" r="0.70" fill="#fff"/>
<circle cx="266.4" cy="169.2" r="0.46" fill="#fff"/>
<circle cx="273.2" cy="173.2" r="0.48" fill="#fff"/>
<circle cx="267.4" cy="165.3" r="0.53" fill="#fff"/>
<circle cx="279.0" cy="174.9" r="0.47" fill="#fff"/>
<circle cx="285.8" cy="166.6" r="0.61" fill="#fff"/>
<circle cx="280.0" cy="167.9" r="0.75" fill="#fff"/>
<circle cx="276.4" cy="169.6" r="0.75" fill="#fff"/>
<circle cx="279.6" cy="168.2" r="0.72" fill="#fff"/>
<circle cx="278.1" cy="167.2" r="0.71" fill="#fff"/>
<circle cx="274.6" cy="163.4" r="0.70" fill="#fff"/>
<circle cx="266.5" cy="166.8" r="0.79" fill="#fff"/>
<circle cx="277.0" cy="171.0" r="0.53" fill="#fff"/>
<circle cx="263.3" cy="165.3" r="0.57" fill="#fff"/>
<circle cx="273.6" cy="173.0" r="0.45" fill="#fff"/>
<circle cx="265.6" cy="166.7" r="0.41" fill="#fff"/>
<circle cx="263.1" cy="161.7" r="0.49" fill="#fff"/>
<circle cx="277.3" cy="170.1" r="0.48" fill="#fff"/>
<circle cx="279.1" cy="169.1" r="0.45" fill="#fff"/>
<circle cx="277.8" cy="174.1" r="0.71" fill="#fff"/>
<circle cx="272.9" cy="164.0" r="0.40" fill="#fff"/>
<circle cx="279.4" cy="170.4" r="0.54" fill="#fff"/>
<circle cx="279.9" cy="169.0" r="0.77" fill="#fff"/>
<circle cx="283.6" cy="167.6" r="0.76" fill="#fff"/>
<circle cx="260.3" cy="163.1" r="0.56" fill="#fff"/>
<circle cx="274.7" cy="174.0" r="0.46" fill="#fff"/>
<circle cx="264.9" cy="165.8" r="0.60" fill="#fff"/>
<circle cx="278.1" cy="173.5" r="0.47" fill="#fff"/>
<circle cx="269.8" cy="163.3" r="0.42" fill="#fff"/>
<circle cx="286.2" cy="176.0" r="0.69" fill="#fff"/>
<circle cx="283.0" cy="170.4" r="0.70" fill="#fff"/>
<circle cx="274.7" cy="164.1" r="0.44" fill="#fff"/>
<circle cx="268.6" cy="169.1" r="0.68" fill="#fff"/>
<circle cx="285.1" cy="174.6" r="0.51" fill="#fff"/>
<circle cx="277.0" cy="167.8" r="0.72" fill="#fff"/>
<circle cx="276.8" cy="165.4" r="0.66" fill="#fff"/>
<circle cx="268.5" cy="162.0" r="0.70" fill="#fff"/>
<circle cx="267.8" cy="170.6" r="0.53" fill="#fff"/>
<circle cx="264.9" cy="169.9" r="0.65" fill="#fff"/>
<circle cx="280.4" cy="172.3" r="0.79" fill="#fff"/>
<circle cx="272.5" cy="171.8" r="0.68" fill="#fff"/>
<circle cx="286.7" cy="171.4" r="0.69" fill="#fff"/>
<circle cx="278.1" cy="166.5" r="0.48" fill="#fff"/>
<circle cx="280.8" cy="164.3" r="0.76" fill="#fff"/>
<circle cx="261.2" cy="121.8" r="0.41" fill="#fff"/>
<circle cx="254.0" cy="123.4" r="0.65" fill="#fff"/>
<circle cx="264.0" cy="129.6" r="0.43" fill="#fff"/>
<circle cx="264.0" cy="125.7" r="0.73" fill="#fff"/>
<circle cx="257.2" cy="120.2" r="0.44" fill="#fff"/>
<circle cx="266.3" cy="129.9" r="0.73" fill="#fff"/>
<circle cx="265.0" cy="125.5" r="0.44" fill="#fff"/>
<circle cx="254.6" cy="124.4" r="0.48" fill="#fff"/>
<circle cx="259.5" cy="123.8" r="0.41" fill="#fff"/>
<circle cx="259.2" cy="122.1" r="0.69" fill="#fff"/>
<circle cx="260.7" cy="123.4" r="0.79" fill="#fff"/>
<circle cx="260.5" cy="128.8" r="0.65" fill="#fff"/>
<circle cx="255.1" cy="121.1" r="0.57" fill="#fff"/>
<circle cx="266.9" cy="127.3" r="0.68" fill="#fff"/>
<circle cx="263.9" cy="124.1" r="0.74" fill="#fff"/>
<circle cx="256.2" cy="125.4" r="0.79" fill="#fff"/>
<circle cx="254.3" cy="121.5" r="0.60" fill="#fff"/>
<circle cx="268.0" cy="126.2" r="0.60" fill="#fff"/>
<circle cx="258.1" cy="127.2" r="0.50" fill="#fff"/>
<circle cx="269.9" cy="128.3" r="0.49" fill="#fff"/>
<circle cx="265.1" cy="127.8" r="0.44" fill="#fff"/>
<circle cx="266.0" cy="124.0" r="0.72" fill="#fff"/>
<circle cx="263.8" cy="130.0" r="0.65" fill="#fff"/>
<circle cx="260.2" cy="123.9" r="0.56" fill="#fff"/>
<circle cx="258.5" cy="121.5" r="0.76" fill="#fff"/>
<circle cx="262.6" cy="125.1" r="0.75" fill="#fff"/>
<circle cx="258.0" cy="123.3" r="0.61" fill="#fff"/>
<circle cx="264.8" cy="130.3" r="0.66" fill="#fff"/>
<circle cx="260.4" cy="123.3" r="0.46" fill="#fff"/>
<circle cx="266.6" cy="130.4" r="0.70" fill="#fff"/>
<circle cx="257.1" cy="122.5" r="0.71" fill="#fff"/>
<circle cx="264.9" cy="123.8" r="0.58" fill="#fff"/>
<circle cx="269.2" cy="127.4" r="0.48" fill="#fff"/>
<circle cx="258.0" cy="125.8" r="0.74" fill="#fff"/>
<circle cx="258.2" cy="120.2" r="0.50" fill="#fff"/>
<circle cx="259.2" cy="124.6" r="0.46" fill="#fff"/>
<circle cx="260.7" cy="122.0" r="0.79" fill="#fff"/>
<circle cx="267.4" cy="125.0" r="0.78" fill="#fff"/>
<circle cx="256.3" cy="121.5" r="0.79" fill="#fff"/>
<circle cx="265.5" cy="130.5" r="0.57" fill="#fff"/>
<circle cx="256.6" cy="124.3" r="0.44" fill="#fff"/>
<circle cx="257.9" cy="122.5" r="0.41" fill="#fff"/>
<circle cx="259.1" cy="127.4" r="0.68" fill="#fff"/>
<circle cx="261.4" cy="127.0" r="0.59" fill="#fff"/>
<circle cx="255.9" cy="123.6" r="0.56" fill="#fff"/>
<circle cx="263.9" cy="131.3" r="0.57" fill="#fff"/>
<circle cx="262.0" cy="128.6" r="0.57" fill="#fff"/>
<circle cx="256.8" cy="125.3" r="0.75" fill="#fff"/>
<circle cx="265.4" cy="130.0" r="0.74" fill="#fff"/>
<circle cx="264.2" cy="128.7" r="0.58" fill="#fff"/>
<circle cx="274.6" cy="113.7" r="0.5" fill="#8ECB8F"/>
<circle cx="275.8" cy="113.0" r="0.5" fill="#8ECB8F"/>
<circle cx="276.8" cy="115.7" r="0.5" fill="#8ECB8F"/>
<circle cx="275.1" cy="113.8" r="0.5" fill="#8ECB8F"/>
<circle cx="277.5" cy="114.8" r="0.5" fill="#8ECB8F"/>
<circle cx="277.1" cy="114.2" r="0.5" fill="#8ECB8F"/>
<circle cx="276.2" cy="114.4" r="0.5" fill="#8ECB8F"/>
<circle cx="277.0" cy="115.8" r="0.5" fill="#8ECB8F"/>
<circle cx="278.3" cy="115.8" r="0.5" fill="#8ECB8F"/>
<circle cx="275.2" cy="114.4" r="0.5" fill="#8ECB8F"/>
<circle cx="295.8" cy="132.2" r="0.5" fill="#8ECB8F"/>
<circle cx="295.4" cy="133.8" r="0.5" fill="#8ECB8F"/>
<circle cx="294.8" cy="131.9" r="0.5" fill="#8ECB8F"/>
<circle cx="299.1" cy="134.7" r="0.5" fill="#8ECB8F"/>
<circle cx="296.2" cy="132.9" r="0.5" fill="#8ECB8F"/>
<circle cx="296.6" cy="132.9" r="0.5" fill="#8ECB8F"/>
<circle cx="295.9" cy="132.3" r="0.5" fill="#8ECB8F"/>
<circle cx="295.5" cy="133.5" r="0.5" fill="#8ECB8F"/>
<path d="M230.0,152.8C230.6,152.2 231.6,151.5 234.9,150.9C238.2,150.3 246.8,149.0 249.8,149.1C252.8,149.2 253.4,150.7 253.0,151.5C252.6,152.3 249.9,153.5 247.3,154.0C244.7,154.5 240.1,154.5 237.4,154.6C234.7,154.7 232.4,154.9 231.2,154.6C230.0,154.3 229.4,153.4 230.0,152.8Z" fill="#F4A863" fill-opacity="1"/>
<circle cx="345.4" cy="146.5" r="0.55" fill="#F4A863"/>
<circle cx="344.0" cy="146.3" r="0.55" fill="#F4A863"/>
<circle cx="336.9" cy="139.6" r="0.55" fill="#F4A863"/>
<circle cx="341.1" cy="145.1" r="0.55" fill="#F4A863"/>
<circle cx="338.8" cy="142.1" r="0.55" fill="#F4A863"/>
<circle cx="343.6" cy="142.8" r="0.55" fill="#F4A863"/>
<circle cx="340.2" cy="145.3" r="0.55" fill="#F4A863"/>
<circle cx="337.1" cy="140.8" r="0.55" fill="#F4A863"/>
<circle cx="345.1" cy="147.3" r="0.55" fill="#F4A863"/>
<circle cx="337.4" cy="142.9" r="0.55" fill="#F4A863"/>
<circle cx="334.9" cy="140.1" r="0.55" fill="#F4A863"/>
<circle cx="337.5" cy="143.8" r="0.55" fill="#F4A863"/>
<circle cx="339.0" cy="142.2" r="0.55" fill="#F4A863"/>
<circle cx="341.5" cy="142.2" r="0.55" fill="#F4A863"/>
<circle cx="336.9" cy="139.0" r="0.55" fill="#F4A863"/>
<circle cx="345.8" cy="147.5" r="0.55" fill="#F4A863"/>
<circle cx="342.8" cy="144.8" r="0.55" fill="#F4A863"/>
<circle cx="345.9" cy="146.0" r="0.55" fill="#F4A863"/>
<circle cx="336.8" cy="142.3" r="0.55" fill="#F4A863"/>
<circle cx="343.9" cy="146.2" r="0.55" fill="#F4A863"/>
<circle cx="346.0" cy="145.7" r="0.55" fill="#F4A863"/>
<circle cx="344.1" cy="145.0" r="0.55" fill="#F4A863"/>
<circle cx="344.7" cy="143.7" r="0.55" fill="#F4A863"/>
<circle cx="345.7" cy="147.8" r="0.55" fill="#F4A863"/>
<circle cx="341.3" cy="142.9" r="0.55" fill="#F4A863"/>
<path d="M129.1,166.6C129.6,164.6 130.3,162.8 132.2,161.5C134.1,160.2 136.9,159.3 140.3,158.5C143.7,157.7 148.8,157.1 152.5,156.4C156.2,155.7 159.6,156.1 162.7,154.4C165.8,152.7 168.1,148.3 170.8,146.3C173.5,144.3 176.3,142.9 179.0,142.2C181.7,141.5 184.9,141.2 187.1,142.2C189.3,143.2 191.2,146.6 192.2,148.3C193.2,150.0 191.7,151.4 193.2,152.4C194.7,153.4 198.6,153.9 201.3,154.4C204.0,154.9 207.4,154.4 209.4,155.4C211.4,156.4 213.0,158.8 213.5,160.5C214.0,162.2 213.5,164.2 212.5,165.6C211.5,166.9 206.6,167.4 207.4,168.6C208.2,169.8 214.2,171.3 217.6,172.7C221.0,174.1 224.3,175.5 227.7,176.8C231.1,178.2 235.0,178.8 237.9,180.8C240.8,182.8 243.5,186.3 245.0,189.0C246.5,191.7 247.1,194.4 247.1,197.1C247.1,199.8 246.5,203.2 245.0,205.2C243.5,207.2 241.1,208.5 237.9,209.3C234.7,210.2 229.4,210.5 225.7,210.3C222.0,210.1 218.6,209.2 215.5,208.3C212.4,207.5 210.1,206.6 207.4,205.2C204.7,203.8 202.0,201.8 199.3,200.1C196.6,198.4 193.2,195.3 191.2,195.1C189.2,194.9 188.8,198.8 187.1,199.1C185.4,199.4 183.4,197.6 181.0,197.1C178.6,196.6 176.3,195.8 172.9,196.1C169.5,196.4 164.4,198.1 160.7,199.1C157.0,200.1 154.2,201.7 150.5,202.2C146.8,202.7 140.9,203.0 138.3,202.2C135.8,201.3 135.4,199.0 135.2,197.1C135.0,195.2 137.8,192.9 137.3,191.0C136.8,189.1 133.4,187.8 132.2,185.9C131.0,184.0 130.7,181.8 130.2,179.8C129.7,177.8 129.3,175.9 129.1,173.7C128.9,171.5 128.6,168.6 129.1,166.6Z" fill="#F3ABBA" fill-opacity="1"/>
<ellipse cx="197.2" cy="145.2" rx="2.6" ry="2" fill="#F4A863" transform="rotate(0 197.2 145.2)"/>
<circle cx="162.4" cy="191.5" r="0.51" fill="#fff"/>
<circle cx="143.3" cy="186.1" r="0.60" fill="#fff"/>
<circle cx="137.8" cy="188.6" r="0.46" fill="#fff"/>
<circle cx="150.7" cy="190.0" r="0.62" fill="#fff"/>
<circle cx="161.2" cy="190.6" r="0.63" fill="#fff"/>
<circle cx="155.7" cy="193.5" r="0.55" fill="#fff"/>
<circle cx="148.2" cy="193.9" r="0.43" fill="#fff"/>
<circle cx="155.0" cy="191.6" r="0.41" fill="#fff"/>
<circle cx="154.1" cy="191.9" r="0.77" fill="#fff"/>
<circle cx="151.3" cy="189.9" r="0.76" fill="#fff"/>
<circle cx="154.9" cy="188.9" r="0.74" fill="#fff"/>
<circle cx="147.0" cy="189.4" r="0.61" fill="#fff"/>
<circle cx="159.3" cy="188.1" r="0.57" fill="#fff"/>
<circle cx="148.6" cy="190.3" r="0.73" fill="#fff"/>
<circle cx="144.6" cy="192.4" r="0.56" fill="#fff"/>
<circle cx="151.3" cy="188.0" r="0.60" fill="#fff"/>
<circle cx="165.1" cy="192.6" r="0.72" fill="#fff"/>
<circle cx="146.1" cy="187.9" r="0.52" fill="#fff"/>
<circle cx="153.5" cy="191.4" r="0.71" fill="#fff"/>
<circle cx="162.5" cy="191.4" r="0.42" fill="#fff"/>
<circle cx="154.1" cy="191.7" r="0.72" fill="#fff"/>
<circle cx="163.2" cy="192.1" r="0.65" fill="#fff"/>
<circle cx="154.6" cy="192.1" r="0.64" fill="#fff"/>
<circle cx="156.6" cy="187.9" r="0.67" fill="#fff"/>
<circle cx="149.5" cy="192.2" r="0.44" fill="#fff"/>
<circle cx="158.9" cy="194.4" r="0.66" fill="#fff"/>
<circle cx="146.8" cy="192.5" r="0.71" fill="#fff"/>
<circle cx="153.0" cy="188.0" r="0.52" fill="#fff"/>
<circle cx="148.8" cy="188.2" r="0.57" fill="#fff"/>
<circle cx="154.9" cy="194.3" r="0.42" fill="#fff"/>
<circle cx="153.4" cy="186.0" r="0.45" fill="#fff"/>
<circle cx="160.2" cy="191.5" r="0.77" fill="#fff"/>
<circle cx="149.8" cy="185.5" r="0.55" fill="#fff"/>
<circle cx="153.4" cy="194.2" r="0.79" fill="#fff"/>
<circle cx="150.3" cy="189.2" r="0.44" fill="#fff"/>
<circle cx="155.5" cy="187.8" r="0.46" fill="#fff"/>
<circle cx="156.8" cy="187.1" r="0.79" fill="#fff"/>
<circle cx="157.8" cy="188.3" r="0.69" fill="#fff"/>
<circle cx="159.0" cy="192.6" r="0.74" fill="#fff"/>
<circle cx="158.2" cy="186.9" r="0.65" fill="#fff"/>
<circle cx="157.3" cy="190.2" r="0.77" fill="#fff"/>
<circle cx="145.2" cy="191.6" r="0.47" fill="#fff"/>
<circle cx="161.8" cy="190.8" r="0.42" fill="#fff"/>
<circle cx="147.0" cy="190.3" r="0.58" fill="#fff"/>
<circle cx="156.6" cy="187.3" r="0.72" fill="#fff"/>
<circle cx="146.8" cy="190.9" r="0.65" fill="#fff"/>
<circle cx="148.6" cy="188.8" r="0.71" fill="#fff"/>
<circle cx="153.2" cy="188.3" r="0.42" fill="#fff"/>
<circle cx="160.9" cy="189.4" r="0.64" fill="#fff"/>
<circle cx="154.2" cy="188.5" r="0.57" fill="#fff"/>
<circle cx="162.7" cy="189.9" r="0.67" fill="#fff"/>
<circle cx="153.7" cy="193.8" r="0.72" fill="#fff"/>
<circle cx="144.0" cy="188.7" r="0.63" fill="#fff"/>
<circle cx="160.1" cy="194.3" r="0.42" fill="#fff"/>
<circle cx="160.7" cy="193.7" r="0.75" fill="#fff"/>
<circle cx="153.3" cy="188.2" r="0.74" fill="#fff"/>
<circle cx="160.0" cy="192.5" r="0.77" fill="#fff"/>
<circle cx="146.7" cy="185.9" r="0.62" fill="#fff"/>
<circle cx="160.1" cy="188.1" r="0.70" fill="#fff"/>
<circle cx="154.1" cy="191.9" r="0.59" fill="#fff"/>
<circle cx="142.4" cy="187.0" r="0.70" fill="#fff"/>
<circle cx="159.7" cy="190.4" r="0.44" fill="#fff"/>
<circle cx="159.9" cy="193.2" r="0.49" fill="#fff"/>
<circle cx="153.1" cy="193.8" r="0.75" fill="#fff"/>
<circle cx="151.7" cy="189.8" r="0.64" fill="#fff"/>
<circle cx="142.0" cy="186.4" r="0.47" fill="#fff"/>
<circle cx="157.1" cy="189.3" r="0.63" fill="#fff"/>
<circle cx="148.1" cy="189.9" r="0.46" fill="#fff"/>
<circle cx="147.5" cy="186.1" r="0.65" fill="#fff"/>
<circle cx="159.9" cy="187.7" r="0.64" fill="#fff"/>
<circle cx="146.4" cy="189.8" r="0.41" fill="#fff"/>
<circle cx="162.0" cy="190.8" r="0.63" fill="#fff"/>
<circle cx="143.7" cy="191.9" r="0.57" fill="#fff"/>
<circle cx="142.3" cy="186.4" r="0.43" fill="#fff"/>
<circle cx="137.5" cy="189.3" r="0.75" fill="#fff"/>
<circle cx="149.4" cy="193.9" r="0.76" fill="#fff"/>
<circle cx="137.9" cy="189.7" r="0.56" fill="#fff"/>
<circle cx="143.7" cy="189.9" r="0.66" fill="#fff"/>
<circle cx="164.5" cy="192.7" r="0.56" fill="#fff"/>
<circle cx="149.7" cy="186.8" r="0.79" fill="#fff"/>
<circle cx="146.3" cy="193.2" r="0.76" fill="#fff"/>
<circle cx="159.4" cy="192.6" r="0.66" fill="#fff"/>
<circle cx="140.2" cy="191.4" r="0.78" fill="#fff"/>
<circle cx="156.4" cy="188.7" r="0.64" fill="#fff"/>
<circle cx="159.0" cy="187.1" r="0.53" fill="#fff"/>
<circle cx="144.0" cy="186.0" r="0.59" fill="#fff"/>
<circle cx="141.3" cy="186.8" r="0.46" fill="#fff"/>
<circle cx="157.7" cy="187.8" r="0.41" fill="#fff"/>
<circle cx="149.7" cy="186.2" r="0.77" fill="#fff"/>
<circle cx="161.1" cy="192.0" r="0.58" fill="#fff"/>
<circle cx="146.0" cy="192.5" r="0.59" fill="#fff"/>
<circle cx="155.1" cy="187.1" r="0.49" fill="#fff"/>
<circle cx="137.6" cy="190.8" r="0.62" fill="#fff"/>
<circle cx="144.1" cy="188.6" r="0.46" fill="#fff"/>
<circle cx="143.9" cy="192.4" r="0.53" fill="#fff"/>
<circle cx="141.1" cy="189.1" r="0.53" fill="#fff"/>
<circle cx="162.7" cy="192.5" r="0.48" fill="#fff"/>
<circle cx="150.5" cy="188.0" r="0.50" fill="#fff"/>
<circle cx="142.2" cy="188.0" r="0.80" fill="#fff"/>
<circle cx="139.1" cy="187.1" r="0.76" fill="#fff"/>
<circle cx="137.6" cy="190.9" r="0.52" fill="#fff"/>
<circle cx="160.3" cy="189.4" r="0.46" fill="#fff"/>
<circle cx="152.0" cy="187.3" r="0.57" fill="#fff"/>
<circle cx="163.5" cy="188.6" r="0.63" fill="#fff"/>
<circle cx="140.4" cy="186.2" r="0.71" fill="#fff"/>
<circle cx="157.6" cy="187.8" r="0.43" fill="#fff"/>
<circle cx="138.6" cy="189.9" r="0.60" fill="#fff"/>
<circle cx="144.5" cy="186.8" r="0.64" fill="#fff"/>
<circle cx="157.0" cy="193.3" r="0.63" fill="#fff"/>
<circle cx="158.0" cy="189.8" r="0.69" fill="#fff"/>
<circle cx="145.8" cy="192.6" r="0.75" fill="#fff"/>
<circle cx="151.2" cy="185.6" r="0.76" fill="#fff"/>
<circle cx="150.0" cy="193.3" r="0.51" fill="#fff"/>
<circle cx="141.4" cy="192.2" r="0.55" fill="#fff"/>
<circle cx="141.0" cy="188.0" r="0.64" fill="#fff"/>
<circle cx="136.2" cy="188.9" r="0.58" fill="#fff"/>
<circle cx="151.8" cy="186.6" r="0.69" fill="#fff"/>
<circle cx="160.2" cy="194.1" r="0.53" fill="#fff"/>
<circle cx="157.4" cy="189.5" r="0.70" fill="#fff"/>
<circle cx="164.6" cy="191.1" r="0.61" fill="#fff"/>
<circle cx="151.9" cy="190.4" r="0.41" fill="#fff"/>
<circle cx="143.3" cy="192.2" r="0.41" fill="#fff"/>
<circle cx="138.8" cy="190.7" r="0.48" fill="#fff"/>
<circle cx="136.5" cy="189.6" r="0.63" fill="#fff"/>
<circle cx="151.5" cy="191.9" r="0.44" fill="#fff"/>
<circle cx="161.9" cy="192.9" r="0.42" fill="#fff"/>
<circle cx="139.7" cy="189.0" r="0.60" fill="#fff"/>
<circle cx="144.7" cy="186.0" r="0.56" fill="#fff"/>
<circle cx="140.1" cy="189.9" r="0.74" fill="#fff"/>
<circle cx="140.4" cy="189.7" r="0.70" fill="#fff"/>
<circle cx="140.7" cy="192.0" r="0.78" fill="#fff"/>
<circle cx="147.7" cy="189.0" r="0.74" fill="#fff"/>
<circle cx="151.8" cy="189.1" r="0.78" fill="#fff"/>
<circle cx="159.4" cy="189.3" r="0.50" fill="#fff"/>
<circle cx="146.1" cy="189.0" r="0.79" fill="#fff"/>
<circle cx="160.1" cy="193.9" r="0.42" fill="#fff"/>
<circle cx="151.2" cy="194.2" r="0.77" fill="#fff"/>
<circle cx="143.6" cy="188.6" r="0.65" fill="#fff"/>
<circle cx="146.9" cy="189.9" r="0.43" fill="#fff"/>
<circle cx="149.0" cy="189.9" r="0.41" fill="#fff"/>
<circle cx="154.7" cy="193.1" r="0.75" fill="#fff"/>
<circle cx="155.4" cy="188.3" r="0.67" fill="#fff"/>
<circle cx="144.2" cy="189.8" r="0.77" fill="#fff"/>
<circle cx="154.8" cy="188.1" r="0.61" fill="#fff"/>
<circle cx="148.7" cy="193.9" r="0.52" fill="#fff"/>
<circle cx="145.1" cy="190.8" r="0.45" fill="#fff"/>
<circle cx="153.5" cy="194.3" r="0.61" fill="#fff"/>
<circle cx="144.1" cy="189.1" r="0.61" fill="#fff"/>
<circle cx="140.1" cy="187.2" r="0.56" fill="#fff"/>
<circle cx="144.9" cy="187.1" r="0.44" fill="#fff"/>
<circle cx="152.1" cy="193.2" r="0.64" fill="#fff"/>
<circle cx="153.0" cy="191.5" r="0.48" fill="#fff"/>
<circle cx="157.3" cy="190.2" r="0.62" fill="#fff"/>
<circle cx="154.4" cy="190.0" r="0.52" fill="#fff"/>
<circle cx="143.5" cy="186.8" r="0.60" fill="#fff"/>
<circle cx="147.4" cy="190.5" r="0.40" fill="#fff"/>
<circle cx="146.3" cy="192.9" r="0.50" fill="#fff"/>
<circle cx="152.7" cy="190.1" r="0.51" fill="#fff"/>
<circle cx="159.4" cy="187.7" r="0.43" fill="#fff"/>
<circle cx="188.9" cy="198.9" r="0.42" fill="#fff"/>
<circle cx="182.7" cy="196.0" r="0.69" fill="#fff"/>
<circle cx="179.7" cy="193.3" r="0.78" fill="#fff"/>
<circle cx="187.8" cy="196.7" r="0.53" fill="#fff"/>
<circle cx="181.7" cy="197.0" r="0.65" fill="#fff"/>
<circle cx="187.7" cy="200.7" r="0.61" fill="#fff"/>
<circle cx="186.5" cy="199.6" r="0.70" fill="#fff"/>
<circle cx="183.0" cy="198.3" r="0.68" fill="#fff"/>
<circle cx="187.2" cy="199.0" r="0.60" fill="#fff"/>
<circle cx="189.7" cy="200.1" r="0.57" fill="#fff"/>
<circle cx="186.7" cy="200.6" r="0.64" fill="#fff"/>
<circle cx="182.6" cy="196.0" r="0.58" fill="#fff"/>
<circle cx="187.3" cy="197.3" r="0.56" fill="#fff"/>
<circle cx="185.0" cy="196.7" r="0.53" fill="#fff"/>
<circle cx="186.8" cy="200.5" r="0.60" fill="#fff"/>
<circle cx="184.0" cy="195.1" r="0.52" fill="#fff"/>
<circle cx="179.3" cy="195.3" r="0.63" fill="#fff"/>
<circle cx="181.0" cy="197.7" r="0.74" fill="#fff"/>
<circle cx="182.1" cy="198.6" r="0.40" fill="#fff"/>
<circle cx="178.1" cy="194.7" r="0.60" fill="#fff"/>
<circle cx="183.3" cy="199.8" r="0.61" fill="#fff"/>
<circle cx="183.8" cy="198.0" r="0.56" fill="#fff"/>
<circle cx="182.0" cy="196.6" r="0.54" fill="#fff"/>
<circle cx="189.3" cy="200.5" r="0.61" fill="#fff"/>
<circle cx="179.2" cy="194.0" r="0.56" fill="#fff"/>
<circle cx="184.6" cy="197.7" r="0.75" fill="#fff"/>
<circle cx="189.9" cy="199.7" r="0.58" fill="#fff"/>
<circle cx="181.9" cy="196.2" r="0.73" fill="#fff"/>
<circle cx="180.3" cy="194.1" r="0.79" fill="#fff"/>
<circle cx="188.1" cy="199.0" r="0.44" fill="#fff"/>
<circle cx="188.6" cy="200.3" r="0.73" fill="#fff"/>
<circle cx="183.8" cy="194.8" r="0.52" fill="#fff"/>
<circle cx="184.1" cy="197.1" r="0.48" fill="#fff"/>
<circle cx="179.7" cy="195.8" r="0.64" fill="#fff"/>
<circle cx="186.8" cy="195.5" r="0.56" fill="#fff"/>
<circle cx="188.1" cy="197.7" r="0.68" fill="#fff"/>
<circle cx="188.1" cy="199.5" r="0.67" fill="#fff"/>
<circle cx="180.2" cy="195.2" r="0.62" fill="#fff"/>
<circle cx="180.7" cy="196.4" r="0.61" fill="#fff"/>
<circle cx="183.8" cy="194.6" r="0.46" fill="#fff"/>
<circle cx="188.2" cy="196.5" r="0.44" fill="#fff"/>
<circle cx="179.8" cy="195.2" r="0.73" fill="#fff"/>
<circle cx="184.7" cy="199.2" r="0.42" fill="#fff"/>
<circle cx="162.1" cy="180.5" r="0.54" fill="#fff"/>
<circle cx="158.7" cy="177.4" r="0.44" fill="#fff"/>
<circle cx="174.9" cy="179.6" r="0.54" fill="#fff"/>
<circle cx="164.9" cy="178.2" r="0.42" fill="#fff"/>
<circle cx="174.6" cy="179.6" r="0.78" fill="#fff"/>
<circle cx="164.7" cy="179.8" r="0.50" fill="#fff"/>
<circle cx="173.8" cy="177.7" r="0.76" fill="#fff"/>
<circle cx="172.9" cy="177.6" r="0.64" fill="#fff"/>
<circle cx="176.1" cy="179.0" r="0.78" fill="#fff"/>
<circle cx="160.3" cy="178.2" r="0.69" fill="#fff"/>
<circle cx="159.9" cy="177.7" r="0.75" fill="#fff"/>
<circle cx="165.7" cy="181.0" r="0.50" fill="#fff"/>
<circle cx="158.8" cy="178.0" r="0.47" fill="#fff"/>
<circle cx="167.4" cy="176.3" r="0.61" fill="#fff"/>
<circle cx="163.5" cy="178.3" r="0.43" fill="#fff"/>
<circle cx="157.7" cy="181.3" r="0.54" fill="#fff"/>
<circle cx="160.4" cy="176.8" r="0.51" fill="#fff"/>
<circle cx="169.6" cy="177.9" r="0.46" fill="#fff"/>
<circle cx="170.5" cy="176.1" r="0.51" fill="#fff"/>
<circle cx="164.8" cy="181.4" r="0.72" fill="#fff"/>
<circle cx="158.5" cy="178.0" r="0.69" fill="#fff"/>
<circle cx="163.3" cy="182.2" r="0.48" fill="#fff"/>
<circle cx="175.9" cy="179.0" r="0.49" fill="#fff"/>
<circle cx="165.0" cy="176.4" r="0.68" fill="#fff"/>
<circle cx="160.7" cy="181.8" r="0.64" fill="#fff"/>
<circle cx="163.1" cy="177.2" r="0.64" fill="#fff"/>
<circle cx="159.7" cy="181.6" r="0.45" fill="#fff"/>
<circle cx="166.3" cy="179.3" r="0.51" fill="#fff"/>
<circle cx="172.0" cy="178.2" r="0.66" fill="#fff"/>
<circle cx="167.5" cy="177.7" r="0.56" fill="#fff"/>
<circle cx="173.7" cy="177.7" r="0.67" fill="#fff"/>
<circle cx="157.4" cy="179.4" r="0.54" fill="#fff"/>
<circle cx="166.0" cy="177.6" r="0.43" fill="#fff"/>
<circle cx="161.8" cy="177.1" r="0.45" fill="#fff"/>
<circle cx="170.8" cy="177.5" r="0.56" fill="#fff"/>
<circle cx="175.0" cy="180.9" r="0.75" fill="#fff"/>
<circle cx="170.0" cy="180.1" r="0.54" fill="#fff"/>
<circle cx="164.1" cy="180.1" r="0.68" fill="#fff"/>
<circle cx="160.5" cy="181.4" r="0.54" fill="#fff"/>
<circle cx="168.8" cy="176.8" r="0.45" fill="#fff"/>
<circle cx="175.1" cy="180.6" r="0.69" fill="#fff"/>
<circle cx="158.6" cy="176.9" r="0.52" fill="#fff"/>
<circle cx="200.2" cy="176.4" r="0.52" fill="#fff"/>
<circle cx="202.8" cy="179.0" r="0.74" fill="#fff"/>
<circle cx="200.1" cy="181.8" r="0.50" fill="#fff"/>
<circle cx="198.6" cy="180.7" r="0.54" fill="#fff"/>
<circle cx="204.1" cy="180.6" r="0.42" fill="#fff"/>
<circle cx="203.9" cy="183.1" r="0.42" fill="#fff"/>
<circle cx="198.3" cy="175.9" r="0.72" fill="#fff"/>
<circle cx="204.5" cy="179.2" r="0.68" fill="#fff"/>
<circle cx="197.8" cy="180.8" r="0.73" fill="#fff"/>
<circle cx="198.8" cy="176.0" r="0.78" fill="#fff"/>
<circle cx="197.6" cy="182.1" r="0.68" fill="#fff"/>
<circle cx="201.7" cy="183.7" r="0.65" fill="#fff"/>
<circle cx="201.0" cy="177.0" r="0.68" fill="#fff"/>
<circle cx="199.1" cy="179.6" r="0.77" fill="#fff"/>
<circle cx="194.6" cy="179.0" r="0.42" fill="#fff"/>
<circle cx="201.4" cy="183.3" r="0.50" fill="#fff"/>
<circle cx="198.9" cy="183.2" r="0.66" fill="#fff"/>
<circle cx="201.4" cy="178.8" r="0.42" fill="#fff"/>
<circle cx="198.6" cy="178.5" r="0.48" fill="#fff"/>
<circle cx="199.0" cy="176.5" r="0.68" fill="#fff"/>
<circle cx="203.0" cy="179.6" r="0.50" fill="#fff"/>
<circle cx="200.4" cy="179.8" r="0.77" fill="#fff"/>
<circle cx="198.9" cy="177.7" r="0.75" fill="#fff"/>
<circle cx="195.4" cy="177.9" r="0.53" fill="#fff"/>
<circle cx="203.7" cy="182.5" r="0.70" fill="#fff"/>
<circle cx="195.4" cy="178.7" r="0.64" fill="#fff"/>
<circle cx="198.6" cy="181.3" r="0.73" fill="#fff"/>
<circle cx="196.1" cy="176.0" r="0.54" fill="#fff"/>
<circle cx="198.4" cy="176.6" r="0.68" fill="#fff"/>
<circle cx="200.7" cy="177.3" r="0.53" fill="#fff"/>
<path d="M120.0,201.5C120.4,201.0 122.7,199.9 124.0,199.5C125.3,199.1 127.3,198.8 127.6,199.0C127.9,199.2 127.0,200.4 126.0,201.0C125.0,201.6 122.5,202.2 121.5,202.3C120.5,202.4 119.6,202.0 120.0,201.5Z" fill="#F3ABBA" fill-opacity="1"/>
<path d="M157.5,203.2 L160.9,210.3 L154.4,210.3Z" fill="#F4A863"/>
<path d="M101.5,187.5C101.8,187.1 103.5,186.4 104.5,186.3C105.5,186.2 107.2,186.8 107.5,187.2C107.8,187.6 106.8,188.7 106.0,189.0C105.2,189.3 103.2,189.2 102.5,189.0C101.8,188.8 101.2,187.9 101.5,187.5Z" fill="#F3ABBA" fill-opacity="0.7"/>
<path d="M80.5,238.0C80.8,236.3 82.4,234.2 84.0,233.0C85.6,231.8 87.8,230.8 90.0,230.5C92.2,230.2 95.0,230.4 97.0,231.0C99.0,231.6 100.4,232.7 102.0,234.0C103.6,235.3 106.3,237.4 106.5,239.0C106.7,240.6 104.8,242.1 103.0,243.5C101.2,244.9 98.5,246.9 96.0,247.5C93.5,248.1 90.3,247.8 88.0,247.0C85.7,246.2 83.2,244.5 82.0,243.0C80.8,241.5 80.2,239.7 80.5,238.0Z" fill="#F4A863" fill-opacity="1"/>
<path d="M129.0,264.0C129.8,262.2 131.3,260.3 133.0,259.5C134.7,258.7 137.0,258.7 139.0,259.0C141.0,259.3 143.7,260.2 145.0,261.5C146.3,262.8 147.0,265.1 147.0,267.0C147.0,268.9 146.3,271.5 145.0,273.0C143.7,274.5 141.2,275.8 139.0,276.0C136.8,276.2 133.8,275.5 132.0,274.5C130.2,273.5 129.0,271.8 128.5,270.0C128.0,268.2 128.2,265.8 129.0,264.0Z" fill="#F4A863" fill-opacity="1"/>
<path d="M166.2,228.5C166.3,227.0 167.1,225.1 168.0,224.0C168.9,222.9 170.3,222.8 171.6,222.2C172.9,221.6 175.0,221.3 176.0,220.5C177.0,219.7 176.9,217.4 177.8,217.3C178.7,217.2 180.1,218.7 181.4,220.0C182.7,221.3 184.5,223.6 185.8,224.9C187.1,226.2 187.8,226.9 189.4,227.6C191.0,228.3 193.4,228.5 195.6,228.9C197.8,229.3 200.3,229.7 202.7,229.8C205.1,230.0 207.4,230.0 209.8,229.8C212.2,229.6 214.6,229.1 216.9,228.6C219.2,228.1 222.5,227.0 223.6,227.1C224.7,227.2 224.7,228.7 223.6,229.4C222.5,230.1 219.3,230.8 216.9,231.3C214.5,231.8 211.6,232.0 208.9,232.2C206.2,232.3 203.1,232.1 200.9,232.2C198.7,232.3 197.5,232.5 195.6,232.9C193.7,233.3 191.3,234.1 189.4,234.7C187.5,235.3 184.8,235.8 184.0,236.5C183.2,237.2 184.2,237.9 184.9,239.1C185.7,240.3 187.0,242.7 188.5,243.6C190.0,244.5 191.9,244.5 193.8,244.5C195.7,244.5 198.1,243.3 200.0,243.6C201.9,243.9 204.0,245.1 205.4,246.3C206.8,247.5 208.1,249.2 208.5,250.7C208.9,252.2 208.7,254.1 208.0,255.2C207.3,256.3 206.1,257.0 204.5,257.4C202.9,257.8 200.2,257.7 198.3,257.4C196.5,257.1 194.8,256.6 193.4,255.6C192.1,254.6 191.3,253.3 190.2,251.6C189.1,249.9 188.0,247.2 186.7,245.4C185.4,243.6 183.8,242.2 182.2,240.9C180.6,239.6 178.8,238.7 176.9,237.8C175.0,236.9 172.3,236.4 170.7,235.6C169.1,234.8 167.8,234.1 167.1,232.9C166.3,231.7 166.0,230.0 166.2,228.5Z" fill="#8ECB8F" fill-opacity="1"/>
<circle cx="191.0" cy="239.4" r="0.5" fill="#8ECB8F"/>
<circle cx="191.5" cy="235.9" r="0.5" fill="#8ECB8F"/>
<circle cx="197.1" cy="242.2" r="0.5" fill="#8ECB8F"/>
<circle cx="197.1" cy="242.6" r="0.5" fill="#8ECB8F"/>
<circle cx="191.0" cy="239.3" r="0.5" fill="#8ECB8F"/>
<circle cx="195.9" cy="239.5" r="0.5" fill="#8ECB8F"/>
<circle cx="191.3" cy="237.6" r="0.5" fill="#8ECB8F"/>
<circle cx="193.8" cy="241.3" r="0.5" fill="#8ECB8F"/>
<circle cx="190.2" cy="236.6" r="0.5" fill="#8ECB8F"/>
<circle cx="195.8" cy="242.6" r="0.5" fill="#8ECB8F"/>
<circle cx="195.6" cy="237.3" r="0.5" fill="#8ECB8F"/>
<circle cx="188.6" cy="233.6" r="0.5" fill="#8ECB8F"/>
<circle cx="194.5" cy="241.8" r="0.5" fill="#8ECB8F"/>
<circle cx="195.3" cy="242.9" r="0.5" fill="#8ECB8F"/>
<circle cx="190.7" cy="241.5" r="0.5" fill="#8ECB8F"/>
<circle cx="190.7" cy="237.4" r="0.5" fill="#8ECB8F"/>
<circle cx="194.5" cy="237.9" r="0.5" fill="#8ECB8F"/>
<circle cx="198.5" cy="241.6" r="0.5" fill="#8ECB8F"/>
<circle cx="192.7" cy="240.1" r="0.5" fill="#8ECB8F"/>
<circle cx="195.0" cy="240.8" r="0.5" fill="#8ECB8F"/>
<circle cx="184.2" cy="237.7" r="0.5" fill="#8ECB8F"/>
<circle cx="188.6" cy="236.1" r="0.5" fill="#8ECB8F"/>
<circle cx="188.3" cy="236.4" r="0.5" fill="#8ECB8F"/>
<circle cx="197.7" cy="239.6" r="0.5" fill="#8ECB8F"/>
<circle cx="190.6" cy="240.6" r="0.5" fill="#8ECB8F"/>
<ellipse cx="223" cy="227.5" rx="1.2" ry="1" fill="#F4A863" transform="rotate(0 223 227.5)"/>
<circle cx="179.4" cy="215.9" r="0.5" fill="#F3ABBA"/>
<circle cx="178.9" cy="213.9" r="0.5" fill="#F3ABBA"/>
<circle cx="182.8" cy="218.1" r="0.5" fill="#F3ABBA"/>
<circle cx="179.0" cy="214.9" r="0.5" fill="#F3ABBA"/>
<circle cx="178.8" cy="214.3" r="0.5" fill="#F3ABBA"/>
<circle cx="181.5" cy="215.0" r="0.5" fill="#F3ABBA"/>
<circle cx="184.2" cy="217.0" r="0.5" fill="#F3ABBA"/>
<circle cx="180.8" cy="215.8" r="0.5" fill="#F3ABBA"/>
<circle cx="180.5" cy="216.0" r="0.5" fill="#F3ABBA"/>
<circle cx="181.3" cy="215.6" r="0.5" fill="#F3ABBA"/>
<ellipse cx="202" cy="279.5" rx="1.2" ry="1.6" fill="#D86A8A" transform="rotate(0 202 279.5)"/>
<path d="M248.6,281.3C249.8,280.1 252.8,280.0 255.7,279.3C258.6,278.6 262.8,277.5 265.9,277.3C268.9,277.1 271.6,277.6 274.0,278.3C276.4,279.0 279.2,279.8 280.1,281.3C281.0,282.8 279.8,285.7 279.1,287.4C278.4,289.1 277.9,290.3 276.0,291.5C274.1,292.7 270.3,293.8 267.9,294.5C265.5,295.2 263.5,296.0 261.8,295.5C260.1,295.0 259.4,292.3 257.7,291.5C256.0,290.7 253.1,291.4 251.6,290.5C250.1,289.6 249.1,287.9 248.6,286.4C248.1,284.9 247.4,282.5 248.6,281.3Z" fill="#F4A863" fill-opacity="1"/>
<line x1="280" y1="280.5" x2="297" y2="276.5" stroke="#F4A863" stroke-width="1" stroke-dasharray="1.5 1"/>
<path d="M307.2,268.9C308.3,267.6 311.2,265.9 312.9,265.9C314.6,265.9 316.4,267.1 317.4,268.9C318.3,270.7 318.8,274.6 318.6,276.9C318.4,279.2 317.1,281.3 316.3,282.6C315.5,283.9 314.8,285.1 314.0,284.9C313.2,284.7 312.8,282.6 311.7,281.5C310.6,280.4 308.1,279.4 307.2,278.1C306.2,276.8 306.0,275.0 306.0,273.5C306.0,272.0 306.1,270.2 307.2,268.9Z" fill="#F4A863" fill-opacity="1"/>
</g>
<text x="188.5" y="68.8" font-size="6.8" font-weight="normal" font-style="normal" text-anchor="middle" fill="#3f3f3f" >6−OL2</text>
<text x="137.6" y="83.1" font-size="6.8" font-weight="normal" font-style="normal" text-anchor="middle" fill="#3f3f3f" >8−PNs2</text>
<text x="211.3" y="105.8" font-size="6.8" font-weight="normal" font-style="normal" text-anchor="middle" fill="#3f3f3f" >17−OL4</text>
<text x="138.5" y="131.4" font-size="6.8" font-weight="normal" font-style="normal" text-anchor="middle" fill="#3f3f3f" >12−EB2</text>
<text x="49.0" y="155.7" font-size="6.8" font-weight="normal" font-style="normal" text-anchor="middle" fill="#3f3f3f" >14−ClusterE</text>
<text x="103.3" y="190.8" font-size="6.8" font-weight="normal" font-style="normal" text-anchor="middle" fill="#3f3f3f" >24−ClusterF</text>
<text x="174.3" y="173.1" font-size="6.8" font-weight="normal" font-style="normal" text-anchor="middle" fill="#3f3f3f" >2−EB1</text>
<text x="214.5" y="175.1" font-size="6.8" font-weight="normal" font-style="normal" text-anchor="middle" fill="#3f3f3f" >27−ClusterH</text>
<text x="226.2" y="200.5" font-size="6.8" font-weight="normal" font-style="normal" text-anchor="middle" fill="#3f3f3f" >5−ClusterC</text>
<text x="238.4" y="151.7" font-size="6.8" font-weight="normal" font-style="normal" text-anchor="middle" fill="#3f3f3f" >23−OL8</text>
<text x="283.5" y="140.4" font-size="6.8" font-weight="normal" font-style="normal" text-anchor="middle" fill="#3f3f3f" >1−OL1</text>
<text x="302.1" y="190.7" font-size="6.8" font-weight="normal" font-style="normal" text-anchor="middle" fill="#3f3f3f" >0−ClusterA</text>
<text x="339.3" y="146.3" font-size="6.8" font-weight="normal" font-style="normal" text-anchor="middle" fill="#3f3f3f" >25−PNs6</text>
<text x="251.2" y="92.4" font-size="6.8" font-weight="normal" font-style="normal" text-anchor="middle" fill="#3f3f3f" >16−PNs5</text>
<text x="291.5" y="100.9" font-size="6.8" font-weight="normal" font-style="normal" text-anchor="middle" fill="#3f3f3f" >22−OL7</text>
<text x="332.7" y="98.8" font-size="6.8" font-weight="normal" font-style="normal" text-anchor="middle" fill="#3f3f3f" >19−OL5</text>
<text x="271.0" y="68.8" font-size="6.8" font-weight="normal" font-style="normal" text-anchor="middle" fill="#3f3f3f" >20−Monoamines</text>
<text x="340.9" y="51.6" font-size="6.8" font-weight="normal" font-style="normal" text-anchor="middle" fill="#3f3f3f" >3−PNs1</text>
<text x="392.5" y="118.5" font-size="6.8" font-weight="normal" font-style="normal" text-anchor="middle" fill="#3f3f3f" >10−PNs3</text>
<text x="436.0" y="146.4" font-size="6.8" font-weight="normal" font-style="normal" text-anchor="middle" fill="#3f3f3f" >11−PNs4</text>
<text x="403.6" y="176.7" font-size="6.8" font-weight="normal" font-style="normal" text-anchor="middle" fill="#3f3f3f" >21−OL6</text>
<text x="411.2" y="220.3" font-size="6.8" font-weight="normal" font-style="normal" text-anchor="middle" fill="#3f3f3f" >4−ClusterB</text>
<text x="88.4" y="241.6" font-size="6.8" font-weight="normal" font-style="normal" text-anchor="middle" fill="#3f3f3f" >13−ClusterD</text>
<text x="140.5" y="271.9" font-size="6.8" font-weight="normal" font-style="normal" text-anchor="middle" fill="#3f3f3f" >15−OL3</text>
<text x="189.2" y="232.9" font-size="6.8" font-weight="normal" font-style="normal" text-anchor="middle" fill="#3f3f3f" >7−Glia</text>
<text x="204.4" y="281.7" font-size="6.8" font-weight="normal" font-style="normal" text-anchor="middle" fill="#3f3f3f" >26−ClusterG</text>
<text x="271.0" y="287.4" font-size="6.8" font-weight="normal" font-style="normal" text-anchor="middle" fill="#3f3f3f" >9−MBKC_a</text>
<text x="313.5" y="277.7" font-size="6.8" font-weight="normal" font-style="normal" text-anchor="middle" fill="#3f3f3f" >18−MBKC_b</text>
<rect x="21.3" y="22" width="14.7" height="8.7" fill="#F4AA68"/>
<text x="41.5" y="29.2" font-size="7.8" font-weight="bold" font-style="normal" text-anchor="start" fill="#111" >Cholinergic neurons</text>
<rect x="21.3" y="32" width="14.7" height="8.7" fill="#A6D8DC"/>
<text x="41.5" y="39.2" font-size="7.8" font-weight="bold" font-style="normal" text-anchor="start" fill="#111" >GABAergic neurons</text>
<rect x="21.3" y="42" width="14.7" height="8.7" fill="#F2A8B8"/>
<text x="41.5" y="49.2" font-size="7.8" font-weight="bold" font-style="normal" text-anchor="start" fill="#111" >Glutamatergic neurons</text>
<rect x="21.3" y="52" width="14.7" height="8.7" fill="#E8383C"/>
<text x="41.5" y="59.2" font-size="7.8" font-weight="bold" font-style="normal" text-anchor="start" fill="#111" >Monoaminergic neurons</text>
<rect x="21.3" y="62" width="14.7" height="8.7" fill="#80C88A"/>
<text x="41.5" y="69.2" font-size="7.8" font-weight="bold" font-style="normal" text-anchor="start" fill="#111" >Other</text>
<text x="244.5" y="318.2" font-size="7.5" font-weight="bold" font-style="normal" text-anchor="middle" fill="#222" >UMAP1</text>
<text x="0" y="0" font-size="7.7" font-weight="bold" text-anchor="middle" fill="#222" transform="translate(11.7 162.8) rotate(-90)">UMAP2</text>
<text x="2.9" y="14.7" font-size="17" font-weight="bold" font-style="normal" text-anchor="start" fill="#111" >A</text>
<text x="3.4" y="330.4" font-size="16.3" font-weight="bold" font-style="normal" text-anchor="start" fill="#111" >B</text>
<text x="486.8" y="14.6" font-size="16.3" font-weight="bold" font-style="normal" text-anchor="start" fill="#111" >C</text>
<text x="408.6" y="391.5" font-size="15.6" font-weight="bold" font-style="normal" text-anchor="start" fill="#111" >D</text>
<text x="4.4" y="520.8" font-size="16.3" font-weight="bold" font-style="normal" text-anchor="start" fill="#111" >E</text>
<rect x="70.10" y="339.60" width="130.40" height="32.00" fill="#f9e1b2"/>
<rect x="70.10" y="339.60" width="2.00" height="32.00" fill="#f5ca78"/>
<rect x="72.10" y="339.60" width="1.50" height="32.00" fill="#f5c66e"/>
<rect x="73.60" y="339.60" width="2.00" height="32.00" fill="#f7d696"/>
<rect x="75.60" y="339.60" width="2.00" height="32.00" fill="#f9dfad"/>
<rect x="77.60" y="339.60" width="2.00" height="32.00" fill="#fbe8c4"/>
<rect x="79.60" y="339.60" width="2.00" height="32.00" fill="#f9deac"/>
<rect x="81.60" y="339.60" width="1.50" height="32.00" fill="#fcf1dc"/>
<rect x="83.10" y="339.60" width="1.20" height="32.00" fill="#f6d088"/>
<rect x="84.30" y="339.60" width="1.00" height="32.00" fill="#fef7ec"/>
<rect x="85.30" y="339.60" width="1.20" height="32.00" fill="#fae5bd"/>
<rect x="86.50" y="339.60" width="1.00" height="32.00" fill="#f8d89d"/>
<rect x="87.50" y="339.60" width="0.80" height="32.00" fill="#f8d9a0"/>
<rect x="88.30" y="339.60" width="1.50" height="32.00" fill="#f9e1b3"/>
<rect x="89.80" y="339.60" width="1.00" height="32.00" fill="#fcedd2"/>
<rect x="90.80" y="339.60" width="2.00" height="32.00" fill="#f6cf85"/>
<rect x="92.80" y="339.60" width="1.00" height="32.00" fill="#f7d593"/>
<rect x="93.80" y="339.60" width="2.00" height="32.00" fill="#fef7ec"/>
<rect x="95.80" y="339.60" width="0.80" height="32.00" fill="#f9dfaf"/>
<rect x="96.60" y="339.60" width="1.50" height="32.00" fill="#fbe9c6"/>
<rect x="98.10" y="339.60" width="1.50" height="32.00" fill="#fae5bc"/>
<rect x="99.60" y="339.60" width="1.50" height="32.00" fill="#fcfefe"/>
<rect x="101.10" y="339.60" width="2.00" height="32.00" fill="#fcefd6"/>
<rect x="103.10" y="339.60" width="0.60" height="32.00" fill="#f9deab"/>
<rect x="103.70" y="339.60" width="1.50" height="32.00" fill="#fbeac9"/>
<rect x="105.20" y="339.60" width="1.50" height="32.00" fill="#f8fcfd"/>
<rect x="106.70" y="339.60" width="0.60" height="32.00" fill="#fae2b6"/>
<rect x="107.30" y="339.60" width="2.00" height="32.00" fill="#f4c46b"/>
<rect x="109.30" y="339.60" width="0.60" height="32.00" fill="#fae2b7"/>
<rect x="109.90" y="339.60" width="1.20" height="32.00" fill="#f8d89d"/>
<rect x="111.10" y="339.60" width="0.80" height="32.00" fill="#fcf0da"/>
<rect x="111.90" y="339.60" width="0.80" height="32.00" fill="#fffdfa"/>
<rect x="112.70" y="339.60" width="0.80" height="32.00" fill="#fcedd0"/>
<rect x="113.50" y="339.60" width="1.00" height="32.00" fill="#f9e0b0"/>
<rect x="114.50" y="339.60" width="0.80" height="32.00" fill="#fbe7c2"/>
<rect x="115.30" y="339.60" width="0.60" height="32.00" fill="#fae3b8"/>
<rect x="115.90" y="339.60" width="1.50" height="32.00" fill="#f9dfad"/>
<rect x="117.40" y="339.60" width="0.80" height="32.00" fill="#fbeac9"/>
<rect x="118.20" y="339.60" width="0.80" height="32.00" fill="#f9dfad"/>
<rect x="119.00" y="339.60" width="1.20" height="32.00" fill="#f8daa2"/>
<rect x="120.20" y="339.60" width="0.80" height="32.00" fill="#fae5bd"/>
<rect x="121.00" y="339.60" width="1.50" height="32.00" fill="#f6cb7c"/>
<rect x="122.50" y="339.60" width="1.00" height="32.00" fill="#f6ce83"/>
<rect x="123.50" y="339.60" width="0.80" height="32.00" fill="#fef8ec"/>
<rect x="124.30" y="339.60" width="2.00" height="32.00" fill="#f5c872"/>
<rect x="126.30" y="339.60" width="2.00" height="32.00" fill="#f7d390"/>
<rect x="128.30" y="339.60" width="0.80" height="32.00" fill="#f9e0b0"/>
<rect x="129.10" y="339.60" width="1.00" height="32.00" fill="#fdf6e9"/>
<rect x="130.10" y="339.60" width="1.00" height="32.00" fill="#fae3b7"/>
<rect x="131.10" y="339.60" width="2.00" height="32.00" fill="#fbfdfe"/>
<rect x="133.10" y="339.60" width="1.00" height="32.00" fill="#f9dfad"/>
<rect x="134.10" y="339.60" width="0.60" height="32.00" fill="#fbebcb"/>
<rect x="134.70" y="339.60" width="1.50" height="32.00" fill="#f7d493"/>
<rect x="136.20" y="339.60" width="0.60" height="32.00" fill="#f5cb7a"/>
<rect x="136.80" y="339.60" width="0.80" height="32.00" fill="#f8d99d"/>
<rect x="137.60" y="339.60" width="1.00" height="32.00" fill="#fdf1dd"/>
<rect x="138.60" y="339.60" width="0.60" height="32.00" fill="#f6cb7c"/>
<rect x="139.20" y="339.60" width="1.50" height="32.00" fill="#fffefd"/>
<rect x="140.70" y="339.60" width="1.20" height="32.00" fill="#f7d595"/>
<rect x="141.90" y="339.60" width="0.60" height="32.00" fill="#f7d593"/>
<rect x="142.50" y="339.60" width="0.80" height="32.00" fill="#f8dba3"/>
<rect x="143.30" y="339.60" width="1.50" height="32.00" fill="#f4c56d"/>
<rect x="144.80" y="339.60" width="2.00" height="32.00" fill="#fcf0d9"/>
<rect x="146.80" y="339.60" width="1.20" height="32.00" fill="#f7d594"/>
<rect x="148.00" y="339.60" width="1.00" height="32.00" fill="#fdf5e6"/>
<rect x="149.00" y="339.60" width="1.50" height="32.00" fill="#f4c366"/>
<rect x="150.50" y="339.60" width="1.00" height="32.00" fill="#fae1b4"/>
<rect x="151.50" y="339.60" width="1.20" height="32.00" fill="#f7d189"/>
<rect x="152.70" y="339.60" width="0.80" height="32.00" fill="#f9dfaf"/>
<rect x="153.50" y="339.60" width="1.20" height="32.00" fill="#f4fafc"/>
<rect x="154.70" y="339.60" width="0.60" height="32.00" fill="#fae1b4"/>
<rect x="155.30" y="339.60" width="0.60" height="32.00" fill="#f7d390"/>
<rect x="155.90" y="339.60" width="2.00" height="32.00" fill="#f4c367"/>
<rect x="157.90" y="339.60" width="1.50" height="32.00" fill="#fcf1da"/>
<rect x="159.40" y="339.60" width="0.80" height="32.00" fill="#f7d493"/>
<rect x="160.20" y="339.60" width="2.00" height="32.00" fill="#f8d799"/>
<rect x="162.20" y="339.60" width="1.50" height="32.00" fill="#fcefd8"/>
<rect x="163.70" y="339.60" width="1.50" height="32.00" fill="#f7d38f"/>
<rect x="165.20" y="339.60" width="0.80" height="32.00" fill="#f8daa0"/>
<rect x="166.00" y="339.60" width="1.00" height="32.00" fill="#f6ce83"/>
<rect x="167.00" y="339.60" width="0.60" height="32.00" fill="#fcefd8"/>
<rect x="167.60" y="339.60" width="0.80" height="32.00" fill="#f8d99e"/>
<rect x="168.40" y="339.60" width="1.20" height="32.00" fill="#f7d28d"/>
<rect x="169.60" y="339.60" width="1.00" height="32.00" fill="#fcf0da"/>
<rect x="170.60" y="339.60" width="1.00" height="32.00" fill="#fbe9c7"/>
<rect x="171.60" y="339.60" width="1.00" height="32.00" fill="#f5c977"/>
<rect x="172.60" y="339.60" width="1.00" height="32.00" fill="#f9e0b0"/>
<rect x="173.60" y="339.60" width="0.80" height="32.00" fill="#f6cd81"/>
<rect x="174.40" y="339.60" width="1.50" height="32.00" fill="#f9deac"/>
<rect x="175.90" y="339.60" width="0.60" height="32.00" fill="#fdf4e4"/>
<rect x="176.50" y="339.60" width="0.80" height="32.00" fill="#fdf6e8"/>
<rect x="177.30" y="339.60" width="1.00" height="32.00" fill="#fae6bf"/>
<rect x="178.30" y="339.60" width="1.00" height="32.00" fill="#f9dda8"/>
<rect x="179.30" y="339.60" width="1.00" height="32.00" fill="#fdf5e5"/>
<rect x="180.30" y="339.60" width="0.80" height="32.00" fill="#fbeaca"/>
<rect x="181.10" y="339.60" width="2.00" height="32.00" fill="#f5cb7a"/>
<rect x="183.10" y="339.60" width="0.60" height="32.00" fill="#f9dca6"/>
<rect x="183.70" y="339.60" width="0.80" height="32.00" fill="#f9dda9"/>
<rect x="184.50" y="339.60" width="2.00" height="32.00" fill="#fefaf1"/>
<rect x="186.50" y="339.60" width="0.60" height="32.00" fill="#fbeaca"/>
<rect x="187.10" y="339.60" width="0.80" height="32.00" fill="#f7d697"/>
<rect x="187.90" y="339.60" width="0.80" height="32.00" fill="#fbe7c3"/>
<rect x="188.70" y="339.60" width="1.00" height="32.00" fill="#fcefd5"/>
<rect x="189.70" y="339.60" width="2.00" height="32.00" fill="#fef7ec"/>
<rect x="191.70" y="339.60" width="0.80" height="32.00" fill="#f5c670"/>
<rect x="192.50" y="339.60" width="1.00" height="32.00" fill="#f6cd81"/>
<rect x="193.50" y="339.60" width="1.00" height="32.00" fill="#fdf5e6"/>
<rect x="194.50" y="339.60" width="0.60" height="32.00" fill="#fbe8c6"/>
<rect x="195.10" y="339.60" width="1.20" height="32.00" fill="#fefaf3"/>
<rect x="196.30" y="339.60" width="1.50" height="32.00" fill="#fbeac9"/>
<rect x="197.80" y="339.60" width="0.80" height="32.00" fill="#f8d79a"/>
<rect x="198.60" y="339.60" width="1.00" height="32.00" fill="#f8daa1"/>
<rect x="199.60" y="339.60" width="0.90" height="32.00" fill="#f8d79a"/>
<rect x="200.50" y="339.60" width="44.90" height="32.00" fill="#aedaea"/>
<rect x="200.50" y="339.60" width="1.20" height="32.00" fill="#a1d4e7"/>
<rect x="201.70" y="339.60" width="0.80" height="32.00" fill="#b7deed"/>
<rect x="202.50" y="339.60" width="0.80" height="32.00" fill="#aad8e9"/>
<rect x="203.30" y="339.60" width="1.50" height="32.00" fill="#bce0ee"/>
<rect x="204.80" y="339.60" width="1.00" height="32.00" fill="#b8deed"/>
<rect x="205.80" y="339.60" width="1.50" height="32.00" fill="#b3dcec"/>
<rect x="207.30" y="339.60" width="1.50" height="32.00" fill="#a3d5e8"/>
<rect x="208.80" y="339.60" width="2.00" height="32.00" fill="#bde1ee"/>
<rect x="210.80" y="339.60" width="0.60" height="32.00" fill="#b6deec"/>
<rect x="211.40" y="339.60" width="1.00" height="32.00" fill="#a2d5e7"/>
<rect x="212.40" y="339.60" width="0.60" height="32.00" fill="#fef8ed"/>
<rect x="213.00" y="339.60" width="1.20" height="32.00" fill="#8ecbe2"/>
<rect x="214.20" y="339.60" width="1.50" height="32.00" fill="#b9dfed"/>
<rect x="215.70" y="339.60" width="0.80" height="32.00" fill="#afdaea"/>
<rect x="216.50" y="339.60" width="0.60" height="32.00" fill="#b4ddec"/>
<rect x="217.10" y="339.60" width="1.50" height="32.00" fill="#aad8e9"/>
<rect x="218.60" y="339.60" width="1.50" height="32.00" fill="#b6ddec"/>
<rect x="220.10" y="339.60" width="0.60" height="32.00" fill="#97cfe4"/>
<rect x="220.70" y="339.60" width="1.00" height="32.00" fill="#92cde3"/>
<rect x="221.70" y="339.60" width="0.60" height="32.00" fill="#a5d6e8"/>
<rect x="222.30" y="339.60" width="1.00" height="32.00" fill="#a1d4e7"/>
<rect x="223.30" y="339.60" width="1.20" height="32.00" fill="#b0dbeb"/>
<rect x="224.50" y="339.60" width="1.20" height="32.00" fill="#a8d7e9"/>
<rect x="225.70" y="339.60" width="0.80" height="32.00" fill="#fcecd0"/>
<rect x="226.50" y="339.60" width="1.50" height="32.00" fill="#a6d6e8"/>
<rect x="228.00" y="339.60" width="2.00" height="32.00" fill="#a3d5e7"/>
<rect x="230.00" y="339.60" width="1.00" height="32.00" fill="#b0dbeb"/>
<rect x="231.00" y="339.60" width="1.50" height="32.00" fill="#b1dbeb"/>
<rect x="232.50" y="339.60" width="0.60" height="32.00" fill="#a5d6e8"/>
<rect x="233.10" y="339.60" width="2.00" height="32.00" fill="#bae0ed"/>
<rect x="235.10" y="339.60" width="1.50" height="32.00" fill="#c8e6f1"/>
<rect x="236.60" y="339.60" width="0.80" height="32.00" fill="#d4ebf4"/>
<rect x="237.40" y="339.60" width="1.00" height="32.00" fill="#fefcf7"/>
<rect x="238.40" y="339.60" width="1.00" height="32.00" fill="#a3d5e7"/>
<rect x="239.40" y="339.60" width="1.50" height="32.00" fill="#9ed3e6"/>
<rect x="240.90" y="339.60" width="1.50" height="32.00" fill="#a2d4e7"/>
<rect x="242.40" y="339.60" width="1.50" height="32.00" fill="#acd9ea"/>
<rect x="243.90" y="339.60" width="1.50" height="32.00" fill="#bee1ee"/>
<rect x="245.40" y="339.60" width="17.20" height="32.00" fill="#b8dfed"/>
<rect x="245.40" y="339.60" width="2.00" height="32.00" fill="#8fcce2"/>
<rect x="247.40" y="339.60" width="0.80" height="32.00" fill="#94cee4"/>
<rect x="248.20" y="339.60" width="0.60" height="32.00" fill="#d2ebf4"/>
<rect x="248.80" y="339.60" width="1.50" height="32.00" fill="#bce0ee"/>
<rect x="250.30" y="339.60" width="1.50" height="32.00" fill="#bce0ee"/>
<rect x="251.80" y="339.60" width="0.80" height="32.00" fill="#aedaea"/>
<rect x="252.60" y="339.60" width="1.50" height="32.00" fill="#b5ddec"/>
<rect x="254.10" y="339.60" width="1.00" height="32.00" fill="#b5ddec"/>
<rect x="255.10" y="339.60" width="2.00" height="32.00" fill="#95cfe4"/>
<rect x="257.10" y="339.60" width="0.80" height="32.00" fill="#a9d8e9"/>
<rect x="257.90" y="339.60" width="2.00" height="32.00" fill="#b5ddec"/>
<rect x="259.90" y="339.60" width="0.80" height="32.00" fill="#9ad1e5"/>
<rect x="260.70" y="339.60" width="0.80" height="32.00" fill="#c4e4f0"/>
<rect x="261.50" y="339.60" width="1.10" height="32.00" fill="#d6ecf4"/>
<rect x="262.60" y="339.60" width="2.60" height="32.00" fill="#c5e4f0"/>
<rect x="262.60" y="339.60" width="1.20" height="32.00" fill="#afdaeb"/>
<rect x="263.80" y="339.60" width="1.00" height="32.00" fill="#c6e5f0"/>
<rect x="264.80" y="339.60" width="0.40" height="32.00" fill="#f8d99e"/>
<rect x="265.20" y="339.60" width="7.20" height="32.00" fill="#c5e4f0"/>
<rect x="265.20" y="339.60" width="0.60" height="32.00" fill="#b8dfed"/>
<rect x="265.80" y="339.60" width="0.80" height="32.00" fill="#b6ddec"/>
<rect x="266.60" y="339.60" width="1.20" height="32.00" fill="#bee1ee"/>
<rect x="267.80" y="339.60" width="2.00" height="32.00" fill="#bde1ee"/>
<rect x="269.80" y="339.60" width="1.00" height="32.00" fill="#bde1ee"/>
<rect x="270.80" y="339.60" width="0.60" height="32.00" fill="#c4e4f0"/>
<rect x="271.40" y="339.60" width="0.80" height="32.00" fill="#d6ecf5"/>
<rect x="272.20" y="339.60" width="0.20" height="32.00" fill="#cde8f2"/>
<rect x="70.10" y="371.60" width="130.40" height="32.00" fill="#91cde3"/>
<rect x="70.10" y="371.60" width="2.00" height="32.00" fill="#a6d6e8"/>
<rect x="72.10" y="371.60" width="1.20" height="32.00" fill="#95cee4"/>
<rect x="73.30" y="371.60" width="1.00" height="32.00" fill="#a2d4e7"/>
<rect x="74.30" y="371.60" width="0.80" height="32.00" fill="#96cfe4"/>
<rect x="75.10" y="371.60" width="1.20" height="32.00" fill="#88c9e1"/>
<rect x="76.30" y="371.60" width="0.80" height="32.00" fill="#9cd2e6"/>
<rect x="77.10" y="371.60" width="1.20" height="32.00" fill="#a2d4e7"/>
<rect x="78.30" y="371.60" width="0.60" height="32.00" fill="#98d0e5"/>
<rect x="78.90" y="371.60" width="1.00" height="32.00" fill="#8bcae1"/>
<rect x="79.90" y="371.60" width="1.20" height="32.00" fill="#9cd2e6"/>
<rect x="81.10" y="371.60" width="1.00" height="32.00" fill="#a9d8e9"/>
<rect x="82.10" y="371.60" width="0.60" height="32.00" fill="#a2d4e7"/>
<rect x="82.70" y="371.60" width="1.00" height="32.00" fill="#a9d7e9"/>
<rect x="83.70" y="371.60" width="2.00" height="32.00" fill="#85c7e0"/>
<rect x="85.70" y="371.60" width="1.20" height="32.00" fill="#a3d5e7"/>
<rect x="86.90" y="371.60" width="1.00" height="32.00" fill="#85c7e0"/>
<rect x="87.90" y="371.60" width="1.00" height="32.00" fill="#82c6df"/>
<rect x="88.90" y="371.60" width="0.60" height="32.00" fill="#8ac9e1"/>
<rect x="89.50" y="371.60" width="0.60" height="32.00" fill="#8dcbe2"/>
<rect x="90.10" y="371.60" width="1.50" height="32.00" fill="#83c6df"/>
<rect x="91.60" y="371.60" width="0.60" height="32.00" fill="#eaf5fa"/>
<rect x="92.20" y="371.60" width="0.60" height="32.00" fill="#91cde3"/>
<rect x="92.80" y="371.60" width="0.80" height="32.00" fill="#90cce3"/>
<rect x="93.60" y="371.60" width="1.50" height="32.00" fill="#91cde3"/>
<rect x="95.10" y="371.60" width="2.00" height="32.00" fill="#7ec4de"/>
<rect x="97.10" y="371.60" width="1.20" height="32.00" fill="#86c8e0"/>
<rect x="98.30" y="371.60" width="0.60" height="32.00" fill="#8ccae2"/>
<rect x="98.90" y="371.60" width="0.80" height="32.00" fill="#99d0e5"/>
<rect x="99.70" y="371.60" width="1.00" height="32.00" fill="#91cde3"/>
<rect x="100.70" y="371.60" width="0.60" height="32.00" fill="#8fcce2"/>
<rect x="101.30" y="371.60" width="0.60" height="32.00" fill="#84c7df"/>
<rect x="101.90" y="371.60" width="0.60" height="32.00" fill="#9ad1e5"/>
<rect x="102.50" y="371.60" width="0.60" height="32.00" fill="#88c9e1"/>
<rect x="103.10" y="371.60" width="2.00" height="32.00" fill="#84c7e0"/>
<rect x="105.10" y="371.60" width="2.00" height="32.00" fill="#8fcce2"/>
<rect x="107.10" y="371.60" width="1.20" height="32.00" fill="#85c7e0"/>
<rect x="108.30" y="371.60" width="0.80" height="32.00" fill="#88c8e0"/>
<rect x="109.10" y="371.60" width="0.80" height="32.00" fill="#9ad1e5"/>
<rect x="109.90" y="371.60" width="2.00" height="32.00" fill="#a3d5e7"/>
<rect x="111.90" y="371.60" width="1.00" height="32.00" fill="#92cde3"/>
<rect x="112.90" y="371.60" width="2.00" height="32.00" fill="#8acae1"/>
<rect x="114.90" y="371.60" width="0.60" height="32.00" fill="#98d0e5"/>
<rect x="115.50" y="371.60" width="1.50" height="32.00" fill="#97d0e4"/>
<rect x="117.00" y="371.60" width="2.00" height="32.00" fill="#7ec4de"/>
<rect x="119.00" y="371.60" width="2.00" height="32.00" fill="#87c8e0"/>
<rect x="121.00" y="371.60" width="1.00" height="32.00" fill="#def0f7"/>
<rect x="122.00" y="371.60" width="1.00" height="32.00" fill="#7ec4de"/>
<rect x="123.00" y="371.60" width="1.20" height="32.00" fill="#93cee3"/>
<rect x="124.20" y="371.60" width="1.20" height="32.00" fill="#a3d5e8"/>
<rect x="125.40" y="371.60" width="0.60" height="32.00" fill="#85c7e0"/>
<rect x="126.00" y="371.60" width="2.00" height="32.00" fill="#9bd1e5"/>
<rect x="128.00" y="371.60" width="0.60" height="32.00" fill="#86c8e0"/>
<rect x="128.60" y="371.60" width="1.50" height="32.00" fill="#86c8e0"/>
<rect x="130.10" y="371.60" width="1.00" height="32.00" fill="#9ed2e6"/>
<rect x="131.10" y="371.60" width="1.50" height="32.00" fill="#89c9e1"/>
<rect x="132.60" y="371.60" width="1.50" height="32.00" fill="#93cde3"/>
<rect x="134.10" y="371.60" width="1.50" height="32.00" fill="#98d0e5"/>
<rect x="135.60" y="371.60" width="0.80" height="32.00" fill="#7ec4de"/>
<rect x="136.40" y="371.60" width="0.80" height="32.00" fill="#8dcbe2"/>
<rect x="137.20" y="371.60" width="2.00" height="32.00" fill="#7fc5de"/>
<rect x="139.20" y="371.60" width="2.00" height="32.00" fill="#96cfe4"/>
<rect x="141.20" y="371.60" width="0.60" height="32.00" fill="#8ccae2"/>
<rect x="141.80" y="371.60" width="1.20" height="32.00" fill="#9cd2e6"/>
<rect x="143.00" y="371.60" width="0.80" height="32.00" fill="#8ecbe2"/>
<rect x="143.80" y="371.60" width="2.00" height="32.00" fill="#85c7e0"/>
<rect x="145.80" y="371.60" width="1.50" height="32.00" fill="#8bcae1"/>
<rect x="147.30" y="371.60" width="1.00" height="32.00" fill="#a3d5e8"/>
<rect x="148.30" y="371.60" width="2.00" height="32.00" fill="#9fd3e7"/>
<rect x="150.30" y="371.60" width="0.80" height="32.00" fill="#9dd2e6"/>
<rect x="151.10" y="371.60" width="0.80" height="32.00" fill="#98d0e5"/>
<rect x="151.90" y="371.60" width="2.00" height="32.00" fill="#92cde3"/>
<rect x="153.90" y="371.60" width="1.00" height="32.00" fill="#7ec4de"/>
<rect x="154.90" y="371.60" width="1.50" height="32.00" fill="#8ecbe2"/>
<rect x="156.40" y="371.60" width="1.50" height="32.00" fill="#90cce3"/>
<rect x="157.90" y="371.60" width="1.50" height="32.00" fill="#a3d5e7"/>
<rect x="159.40" y="371.60" width="1.00" height="32.00" fill="#91cde3"/>
<rect x="160.40" y="371.60" width="1.50" height="32.00" fill="#9bd1e6"/>
<rect x="161.90" y="371.60" width="0.60" height="32.00" fill="#95cfe4"/>
<rect x="162.50" y="371.60" width="1.50" height="32.00" fill="#9ed3e6"/>
<rect x="164.00" y="371.60" width="0.60" height="32.00" fill="#8fcce2"/>
<rect x="164.60" y="371.60" width="1.00" height="32.00" fill="#85c7e0"/>
<rect x="165.60" y="371.60" width="1.20" height="32.00" fill="#83c6df"/>
<rect x="166.80" y="371.60" width="1.20" height="32.00" fill="#7ec4de"/>
<rect x="168.00" y="371.60" width="0.80" height="32.00" fill="#99d0e5"/>
<rect x="168.80" y="371.60" width="2.00" height="32.00" fill="#8ecbe2"/>
<rect x="170.80" y="371.60" width="0.60" height="32.00" fill="#8ccae1"/>
<rect x="171.40" y="371.60" width="1.20" height="32.00" fill="#87c8e0"/>
<rect x="172.60" y="371.60" width="1.50" height="32.00" fill="#7ec4de"/>
<rect x="174.10" y="371.60" width="0.60" height="32.00" fill="#a1d4e7"/>
<rect x="174.70" y="371.60" width="1.50" height="32.00" fill="#83c6df"/>
<rect x="176.20" y="371.60" width="1.20" height="32.00" fill="#95cee4"/>
<rect x="177.40" y="371.60" width="0.80" height="32.00" fill="#9cd2e6"/>
<rect x="178.20" y="371.60" width="1.50" height="32.00" fill="#89c9e1"/>
<rect x="179.70" y="371.60" width="0.60" height="32.00" fill="#87c8e0"/>
<rect x="180.30" y="371.60" width="0.60" height="32.00" fill="#7fc4de"/>
<rect x="180.90" y="371.60" width="1.00" height="32.00" fill="#7ec4de"/>
<rect x="181.90" y="371.60" width="0.60" height="32.00" fill="#8ac9e1"/>
<rect x="182.50" y="371.60" width="0.60" height="32.00" fill="#8fcce2"/>
<rect x="183.10" y="371.60" width="0.80" height="32.00" fill="#90cce3"/>
<rect x="183.90" y="371.60" width="0.60" height="32.00" fill="#95cfe4"/>
<rect x="184.50" y="371.60" width="0.60" height="32.00" fill="#8ac9e1"/>
<rect x="185.10" y="371.60" width="2.00" height="32.00" fill="#82c6df"/>
<rect x="187.10" y="371.60" width="0.60" height="32.00" fill="#9ad1e5"/>
<rect x="187.70" y="371.60" width="0.80" height="32.00" fill="#8ecbe2"/>
<rect x="188.50" y="371.60" width="0.80" height="32.00" fill="#99d0e5"/>
<rect x="189.30" y="371.60" width="1.00" height="32.00" fill="#8ccae2"/>
<rect x="190.30" y="371.60" width="2.00" height="32.00" fill="#91cde3"/>
<rect x="192.30" y="371.60" width="1.50" height="32.00" fill="#7ec4de"/>
<rect x="193.80" y="371.60" width="1.00" height="32.00" fill="#a2d4e7"/>
<rect x="194.80" y="371.60" width="1.20" height="32.00" fill="#9ad1e5"/>
<rect x="196.00" y="371.60" width="0.80" height="32.00" fill="#7ec4de"/>
<rect x="196.80" y="371.60" width="0.80" height="32.00" fill="#85c7e0"/>
<rect x="197.60" y="371.60" width="1.20" height="32.00" fill="#8ecce2"/>
<rect x="198.80" y="371.60" width="0.80" height="32.00" fill="#82c6df"/>
<rect x="199.60" y="371.60" width="0.90" height="32.00" fill="#a3d5e7"/>
<rect x="200.50" y="371.60" width="44.90" height="32.00" fill="#f4c162"/>
<rect x="200.50" y="371.60" width="0.60" height="32.00" fill="#f4c162"/>
<rect x="201.10" y="371.60" width="1.50" height="32.00" fill="#f4c264"/>
<rect x="202.60" y="371.60" width="0.60" height="32.00" fill="#f4c367"/>
<rect x="203.20" y="371.60" width="2.00" height="32.00" fill="#f2b84b"/>
<rect x="205.20" y="371.60" width="1.50" height="32.00" fill="#f5c873"/>
<rect x="206.70" y="371.60" width="0.80" height="32.00" fill="#f5c770"/>
<rect x="207.50" y="371.60" width="0.60" height="32.00" fill="#f2b94f"/>
<rect x="208.10" y="371.60" width="0.80" height="32.00" fill="#f2b84b"/>
<rect x="208.90" y="371.60" width="1.00" height="32.00" fill="#f9dca6"/>
<rect x="209.90" y="371.60" width="1.50" height="32.00" fill="#f4c163"/>
<rect x="211.40" y="371.60" width="2.00" height="32.00" fill="#f5c66f"/>
<rect x="213.40" y="371.60" width="1.00" height="32.00" fill="#f3bd59"/>
<rect x="214.40" y="371.60" width="2.00" height="32.00" fill="#f6cb7c"/>
<rect x="216.40" y="371.60" width="0.60" height="32.00" fill="#f5c770"/>
<rect x="217.00" y="371.60" width="0.60" height="32.00" fill="#f3c05e"/>
<rect x="217.60" y="371.60" width="2.00" height="32.00" fill="#f2ba50"/>
<rect x="219.60" y="371.60" width="1.20" height="32.00" fill="#f6cd80"/>
<rect x="220.80" y="371.60" width="0.60" height="32.00" fill="#f3bd57"/>
<rect x="221.40" y="371.60" width="1.20" height="32.00" fill="#f4c367"/>
<rect x="222.60" y="371.60" width="0.80" height="32.00" fill="#f2b84b"/>
<rect x="223.40" y="371.60" width="2.00" height="32.00" fill="#f6cc7e"/>
<rect x="225.40" y="371.60" width="1.00" height="32.00" fill="#f5c975"/>
<rect x="226.40" y="371.60" width="2.00" height="32.00" fill="#f2b84b"/>
<rect x="228.40" y="371.60" width="1.20" height="32.00" fill="#f2b94e"/>
<rect x="229.60" y="371.60" width="1.00" height="32.00" fill="#f4c265"/>
<rect x="230.60" y="371.60" width="1.50" height="32.00" fill="#f4c367"/>
<rect x="232.10" y="371.60" width="0.80" height="32.00" fill="#f5c670"/>
<rect x="232.90" y="371.60" width="2.00" height="32.00" fill="#f4c367"/>
<rect x="234.90" y="371.60" width="2.00" height="32.00" fill="#f3bf5e"/>
<rect x="236.90" y="371.60" width="2.00" height="32.00" fill="#f2b84b"/>
<rect x="238.90" y="371.60" width="0.60" height="32.00" fill="#f7d18c"/>
<rect x="239.50" y="371.60" width="0.80" height="32.00" fill="#f7d390"/>
<rect x="240.30" y="371.60" width="1.00" height="32.00" fill="#f5ca78"/>
<rect x="241.30" y="371.60" width="0.80" height="32.00" fill="#f5c772"/>
<rect x="242.10" y="371.60" width="0.80" height="32.00" fill="#f5c772"/>
<rect x="242.90" y="371.60" width="0.60" height="32.00" fill="#f4c46b"/>
<rect x="243.50" y="371.60" width="1.00" height="32.00" fill="#f3bf5d"/>
<rect x="244.50" y="371.60" width="0.80" height="32.00" fill="#f3bc55"/>
<rect x="245.30" y="371.60" width="0.10" height="32.00" fill="#f5c975"/>
<rect x="245.40" y="371.60" width="17.20" height="32.00" fill="#95cee4"/>
<rect x="245.40" y="371.60" width="0.60" height="32.00" fill="#96cfe4"/>
<rect x="246.00" y="371.60" width="1.00" height="32.00" fill="#9cd2e6"/>
<rect x="247.00" y="371.60" width="1.20" height="32.00" fill="#81c6df"/>
<rect x="248.20" y="371.60" width="0.60" height="32.00" fill="#94cee4"/>
<rect x="248.80" y="371.60" width="0.80" height="32.00" fill="#8ecbe2"/>
<rect x="249.60" y="371.60" width="1.50" height="32.00" fill="#92cde3"/>
<rect x="251.10" y="371.60" width="0.60" height="32.00" fill="#97cfe4"/>
<rect x="251.70" y="371.60" width="1.50" height="32.00" fill="#89c9e1"/>
<rect x="253.20" y="371.60" width="2.00" height="32.00" fill="#8ecbe2"/>
<rect x="255.20" y="371.60" width="0.80" height="32.00" fill="#7fc5de"/>
<rect x="256.00" y="371.60" width="0.60" height="32.00" fill="#a1d4e7"/>
<rect x="256.60" y="371.60" width="1.00" height="32.00" fill="#92cde3"/>
<rect x="257.60" y="371.60" width="1.00" height="32.00" fill="#80c5de"/>
<rect x="258.60" y="371.60" width="0.80" height="32.00" fill="#92cde3"/>
<rect x="259.40" y="371.60" width="0.60" height="32.00" fill="#90cce3"/>
<rect x="260.00" y="371.60" width="2.00" height="32.00" fill="#9fd3e6"/>
<rect x="262.00" y="371.60" width="0.60" height="32.00" fill="#8acae1"/>
<rect x="262.60" y="371.60" width="2.60" height="32.00" fill="#98d0e5"/>
<rect x="262.60" y="371.60" width="1.00" height="32.00" fill="#aedaea"/>
<rect x="263.60" y="371.60" width="0.60" height="32.00" fill="#a7d7e8"/>
<rect x="264.20" y="371.60" width="0.80" height="32.00" fill="#88c8e1"/>
<rect x="265.00" y="371.60" width="0.20" height="32.00" fill="#98d0e5"/>
<rect x="265.20" y="371.60" width="7.20" height="32.00" fill="#9ed3e6"/>
<rect x="265.20" y="371.60" width="1.00" height="32.00" fill="#97cfe4"/>
<rect x="266.20" y="371.60" width="1.50" height="32.00" fill="#a0d3e7"/>
<rect x="267.70" y="371.60" width="0.60" height="32.00" fill="#92cde3"/>
<rect x="268.30" y="371.60" width="0.80" height="32.00" fill="#9ed3e6"/>
<rect x="269.10" y="371.60" width="1.00" height="32.00" fill="#97cfe4"/>
<rect x="270.10" y="371.60" width="0.80" height="32.00" fill="#a3d5e8"/>
<rect x="270.90" y="371.60" width="0.80" height="32.00" fill="#9cd2e6"/>
<rect x="271.70" y="371.60" width="0.70" height="32.00" fill="#8ecce2"/>
<rect x="70.10" y="403.60" width="130.40" height="32.00" fill="#91cde3"/>
<rect x="70.10" y="403.60" width="0.60" height="32.00" fill="#b0dbeb"/>
<rect x="70.70" y="403.60" width="2.00" height="32.00" fill="#94cee4"/>
<rect x="72.70" y="403.60" width="2.00" height="32.00" fill="#91cde3"/>
<rect x="74.70" y="403.60" width="1.00" height="32.00" fill="#8ccae2"/>
<rect x="75.70" y="403.60" width="1.20" height="32.00" fill="#85c7e0"/>
<rect x="76.90" y="403.60" width="0.60" height="32.00" fill="#9bd1e5"/>
<rect x="77.50" y="403.60" width="1.50" height="32.00" fill="#93cee3"/>
<rect x="79.00" y="403.60" width="1.50" height="32.00" fill="#9bd1e5"/>
<rect x="80.50" y="403.60" width="0.60" height="32.00" fill="#94cee4"/>
<rect x="81.10" y="403.60" width="0.60" height="32.00" fill="#8dcbe2"/>
<rect x="81.70" y="403.60" width="1.50" height="32.00" fill="#92cde3"/>
<rect x="83.20" y="403.60" width="0.60" height="32.00" fill="#89c9e1"/>
<rect x="83.80" y="403.60" width="1.20" height="32.00" fill="#8acae1"/>
<rect x="85.00" y="403.60" width="1.20" height="32.00" fill="#8dcbe2"/>
<rect x="86.20" y="403.60" width="0.60" height="32.00" fill="#9ad1e5"/>
<rect x="86.80" y="403.60" width="2.00" height="32.00" fill="#96cfe4"/>
<rect x="88.80" y="403.60" width="1.00" height="32.00" fill="#92cde3"/>
<rect x="89.80" y="403.60" width="2.00" height="32.00" fill="#89c9e1"/>
<rect x="91.80" y="403.60" width="0.60" height="32.00" fill="#a8d7e9"/>
<rect x="92.40" y="403.60" width="1.20" height="32.00" fill="#91cde3"/>
<rect x="93.60" y="403.60" width="1.00" height="32.00" fill="#a3d5e8"/>
<rect x="94.60" y="403.60" width="0.80" height="32.00" fill="#86c7e0"/>
<rect x="95.40" y="403.60" width="0.60" height="32.00" fill="#9ed3e6"/>
<rect x="96.00" y="403.60" width="2.00" height="32.00" fill="#7fc4de"/>
<rect x="98.00" y="403.60" width="1.50" height="32.00" fill="#a3d5e7"/>
<rect x="99.50" y="403.60" width="2.00" height="32.00" fill="#aedaea"/>
<rect x="101.50" y="403.60" width="1.00" height="32.00" fill="#a0d3e7"/>
<rect x="102.50" y="403.60" width="2.00" height="32.00" fill="#7ec4de"/>
<rect x="104.50" y="403.60" width="2.00" height="32.00" fill="#86c8e0"/>
<rect x="106.50" y="403.60" width="1.50" height="32.00" fill="#8ac9e1"/>
<rect x="108.00" y="403.60" width="1.50" height="32.00" fill="#7ec4de"/>
<rect x="109.50" y="403.60" width="1.00" height="32.00" fill="#8bcae1"/>
<rect x="110.50" y="403.60" width="0.80" height="32.00" fill="#92cde3"/>
<rect x="111.30" y="403.60" width="1.20" height="32.00" fill="#a2d5e7"/>
<rect x="112.50" y="403.60" width="2.00" height="32.00" fill="#95cee4"/>
<rect x="114.50" y="403.60" width="1.20" height="32.00" fill="#8fcce2"/>
<rect x="115.70" y="403.60" width="2.00" height="32.00" fill="#93cee3"/>
<rect x="117.70" y="403.60" width="0.60" height="32.00" fill="#86c8e0"/>
<rect x="118.30" y="403.60" width="2.00" height="32.00" fill="#97d0e5"/>
<rect x="120.30" y="403.60" width="1.20" height="32.00" fill="#87c8e0"/>
<rect x="121.50" y="403.60" width="0.60" height="32.00" fill="#8ccae2"/>
<rect x="122.10" y="403.60" width="1.20" height="32.00" fill="#a2d4e7"/>
<rect x="123.30" y="403.60" width="1.50" height="32.00" fill="#8fcce2"/>
<rect x="124.80" y="403.60" width="0.60" height="32.00" fill="#98d0e5"/>
<rect x="125.40" y="403.60" width="1.20" height="32.00" fill="#89c9e1"/>
<rect x="126.60" y="403.60" width="1.00" height="32.00" fill="#8acae1"/>
<rect x="127.60" y="403.60" width="1.20" height="32.00" fill="#84c7e0"/>
<rect x="128.80" y="403.60" width="0.80" height="32.00" fill="#9ad1e5"/>
<rect x="129.60" y="403.60" width="0.60" height="32.00" fill="#7ec4de"/>
<rect x="130.20" y="403.60" width="1.00" height="32.00" fill="#a5d6e8"/>
<rect x="131.20" y="403.60" width="1.00" height="32.00" fill="#97d0e4"/>
<rect x="132.20" y="403.60" width="1.20" height="32.00" fill="#9cd2e6"/>
<rect x="133.40" y="403.60" width="1.00" height="32.00" fill="#a0d4e7"/>
<rect x="134.40" y="403.60" width="0.80" height="32.00" fill="#8dcbe2"/>
<rect x="135.20" y="403.60" width="0.80" height="32.00" fill="#90cce3"/>
<rect x="136.00" y="403.60" width="0.60" height="32.00" fill="#92cde3"/>
<rect x="136.60" y="403.60" width="1.20" height="32.00" fill="#80c5df"/>
<rect x="137.80" y="403.60" width="2.00" height="32.00" fill="#8ac9e1"/>
<rect x="139.80" y="403.60" width="1.50" height="32.00" fill="#8fcce2"/>
<rect x="141.30" y="403.60" width="0.80" height="32.00" fill="#7ec4de"/>
<rect x="142.10" y="403.60" width="1.00" height="32.00" fill="#8fcce2"/>
<rect x="143.10" y="403.60" width="1.20" height="32.00" fill="#8dcbe2"/>
<rect x="144.30" y="403.60" width="1.00" height="32.00" fill="#85c7e0"/>
<rect x="145.30" y="403.60" width="1.20" height="32.00" fill="#a0d3e7"/>
<rect x="146.50" y="403.60" width="2.00" height="32.00" fill="#a3d5e7"/>
<rect x="148.50" y="403.60" width="2.00" height="32.00" fill="#98d0e5"/>
<rect x="150.50" y="403.60" width="0.60" height="32.00" fill="#a4d6e8"/>
<rect x="151.10" y="403.60" width="1.20" height="32.00" fill="#7ec4de"/>
<rect x="152.30" y="403.60" width="1.50" height="32.00" fill="#a2d4e7"/>
<rect x="153.80" y="403.60" width="0.60" height="32.00" fill="#84c7e0"/>
<rect x="154.40" y="403.60" width="1.20" height="32.00" fill="#a6d6e8"/>
<rect x="155.60" y="403.60" width="0.80" height="32.00" fill="#aad8e9"/>
<rect x="156.40" y="403.60" width="1.50" height="32.00" fill="#7ec4de"/>
<rect x="157.90" y="403.60" width="1.50" height="32.00" fill="#8fcce2"/>
<rect x="159.40" y="403.60" width="1.00" height="32.00" fill="#8bcae1"/>
<rect x="160.40" y="403.60" width="0.60" height="32.00" fill="#8acae1"/>
<rect x="161.00" y="403.60" width="1.20" height="32.00" fill="#83c7df"/>
<rect x="162.20" y="403.60" width="1.20" height="32.00" fill="#7fc4de"/>
<rect x="163.40" y="403.60" width="2.00" height="32.00" fill="#80c5de"/>
<rect x="165.40" y="403.60" width="1.50" height="32.00" fill="#a7d7e8"/>
<rect x="166.90" y="403.60" width="0.60" height="32.00" fill="#95cee4"/>
<rect x="167.50" y="403.60" width="1.50" height="32.00" fill="#86c8e0"/>
<rect x="169.00" y="403.60" width="0.60" height="32.00" fill="#9cd2e6"/>
<rect x="169.60" y="403.60" width="1.00" height="32.00" fill="#a3d5e8"/>
<rect x="170.60" y="403.60" width="1.50" height="32.00" fill="#8ecbe2"/>
<rect x="172.10" y="403.60" width="2.00" height="32.00" fill="#9dd2e6"/>
<rect x="174.10" y="403.60" width="1.00" height="32.00" fill="#9dd2e6"/>
<rect x="175.10" y="403.60" width="1.20" height="32.00" fill="#88c9e1"/>
<rect x="176.30" y="403.60" width="2.00" height="32.00" fill="#91cce3"/>
<rect x="178.30" y="403.60" width="1.20" height="32.00" fill="#9ed3e6"/>
<rect x="179.50" y="403.60" width="0.80" height="32.00" fill="#a1d4e7"/>
<rect x="180.30" y="403.60" width="1.20" height="32.00" fill="#89c9e1"/>
<rect x="181.50" y="403.60" width="1.00" height="32.00" fill="#9bd1e6"/>
<rect x="182.50" y="403.60" width="2.00" height="32.00" fill="#94cee4"/>
<rect x="184.50" y="403.60" width="2.00" height="32.00" fill="#8dcbe2"/>
<rect x="186.50" y="403.60" width="2.00" height="32.00" fill="#94cee4"/>
<rect x="188.50" y="403.60" width="1.50" height="32.00" fill="#9bd1e5"/>
<rect x="190.00" y="403.60" width="1.20" height="32.00" fill="#7ec4de"/>
<rect x="191.20" y="403.60" width="0.60" height="32.00" fill="#7ec4de"/>
<rect x="191.80" y="403.60" width="1.50" height="32.00" fill="#8dcbe2"/>
<rect x="193.30" y="403.60" width="1.00" height="32.00" fill="#acd9ea"/>
<rect x="194.30" y="403.60" width="0.60" height="32.00" fill="#8ecbe2"/>
<rect x="194.90" y="403.60" width="2.00" height="32.00" fill="#9dd2e6"/>
<rect x="196.90" y="403.60" width="1.00" height="32.00" fill="#7ec4de"/>
<rect x="197.90" y="403.60" width="0.80" height="32.00" fill="#a3d5e8"/>
<rect x="198.70" y="403.60" width="1.20" height="32.00" fill="#8ecbe2"/>
<rect x="199.90" y="403.60" width="0.60" height="32.00" fill="#98d0e5"/>
<rect x="200.50" y="403.60" width="44.90" height="32.00" fill="#95cee4"/>
<rect x="200.50" y="403.60" width="1.00" height="32.00" fill="#8ac9e1"/>
<rect x="201.50" y="403.60" width="0.80" height="32.00" fill="#93cee3"/>
<rect x="202.30" y="403.60" width="1.20" height="32.00" fill="#8ecbe2"/>
<rect x="203.50" y="403.60" width="1.00" height="32.00" fill="#9cd2e6"/>
<rect x="204.50" y="403.60" width="1.20" height="32.00" fill="#9dd2e6"/>
<rect x="205.70" y="403.60" width="0.60" height="32.00" fill="#a0d4e7"/>
<rect x="206.30" y="403.60" width="1.20" height="32.00" fill="#85c7e0"/>
<rect x="207.50" y="403.60" width="2.00" height="32.00" fill="#91cde3"/>
<rect x="209.50" y="403.60" width="0.80" height="32.00" fill="#addaea"/>
<rect x="210.30" y="403.60" width="2.00" height="32.00" fill="#9ad1e5"/>
<rect x="212.30" y="403.60" width="1.00" height="32.00" fill="#8dcbe2"/>
<rect x="213.30" y="403.60" width="2.00" height="32.00" fill="#b2dceb"/>
<rect x="215.30" y="403.60" width="1.00" height="32.00" fill="#8fcce2"/>
<rect x="216.30" y="403.60" width="2.00" height="32.00" fill="#9ed2e6"/>
<rect x="218.30" y="403.60" width="2.00" height="32.00" fill="#8ccae1"/>
<rect x="220.30" y="403.60" width="1.50" height="32.00" fill="#88c9e1"/>
<rect x="221.80" y="403.60" width="0.80" height="32.00" fill="#8bcae1"/>
<rect x="222.60" y="403.60" width="1.00" height="32.00" fill="#85c7e0"/>
<rect x="223.60" y="403.60" width="1.00" height="32.00" fill="#7ec4de"/>
<rect x="224.60" y="403.60" width="1.50" height="32.00" fill="#abd8e9"/>
<rect x="226.10" y="403.60" width="0.60" height="32.00" fill="#9fd3e7"/>
<rect x="226.70" y="403.60" width="0.80" height="32.00" fill="#86c8e0"/>
<rect x="227.50" y="403.60" width="1.50" height="32.00" fill="#9ad1e5"/>
<rect x="229.00" y="403.60" width="0.60" height="32.00" fill="#acd9ea"/>
<rect x="229.60" y="403.60" width="0.80" height="32.00" fill="#9bd1e5"/>
<rect x="230.40" y="403.60" width="1.00" height="32.00" fill="#a4d5e8"/>
<rect x="231.40" y="403.60" width="1.50" height="32.00" fill="#91cde3"/>
<rect x="232.90" y="403.60" width="0.80" height="32.00" fill="#8ecbe2"/>
<rect x="233.70" y="403.60" width="2.00" height="32.00" fill="#b7deed"/>
<rect x="235.70" y="403.60" width="0.80" height="32.00" fill="#a4d5e8"/>
<rect x="236.50" y="403.60" width="0.60" height="32.00" fill="#97d0e4"/>
<rect x="237.10" y="403.60" width="1.00" height="32.00" fill="#92cde3"/>
<rect x="238.10" y="403.60" width="1.50" height="32.00" fill="#84c7df"/>
<rect x="239.60" y="403.60" width="1.20" height="32.00" fill="#98d0e5"/>
<rect x="240.80" y="403.60" width="1.00" height="32.00" fill="#aedaea"/>
<rect x="241.80" y="403.60" width="1.00" height="32.00" fill="#8fcce2"/>
<rect x="242.80" y="403.60" width="1.50" height="32.00" fill="#8ccbe2"/>
<rect x="244.30" y="403.60" width="1.10" height="32.00" fill="#afdaea"/>
<rect x="245.40" y="403.60" width="17.20" height="32.00" fill="#f3bf5d"/>
<rect x="245.40" y="403.60" width="0.80" height="32.00" fill="#f4c264"/>
<rect x="246.20" y="403.60" width="1.00" height="32.00" fill="#f4c264"/>
<rect x="247.20" y="403.60" width="0.80" height="32.00" fill="#f4c163"/>
<rect x="248.00" y="403.60" width="1.00" height="32.00" fill="#f3bf5d"/>
<rect x="249.00" y="403.60" width="1.50" height="32.00" fill="#f4c264"/>
<rect x="250.50" y="403.60" width="0.60" height="32.00" fill="#f4c368"/>
<rect x="251.10" y="403.60" width="2.00" height="32.00" fill="#f3bd59"/>
<rect x="253.10" y="403.60" width="2.00" height="32.00" fill="#f3bd58"/>
<rect x="255.10" y="403.60" width="1.50" height="32.00" fill="#f2ba50"/>
<rect x="256.60" y="403.60" width="2.00" height="32.00" fill="#f3bc55"/>
<rect x="258.60" y="403.60" width="0.60" height="32.00" fill="#f4c46a"/>
<rect x="259.20" y="403.60" width="2.00" height="32.00" fill="#f4c162"/>
<rect x="261.20" y="403.60" width="0.60" height="32.00" fill="#f5ca79"/>
<rect x="261.80" y="403.60" width="0.80" height="32.00" fill="#f3bf5c"/>
<rect x="262.60" y="403.60" width="2.60" height="32.00" fill="#98d0e5"/>
<rect x="262.60" y="403.60" width="2.00" height="32.00" fill="#9ad1e5"/>
<rect x="264.60" y="403.60" width="0.60" height="32.00" fill="#98d0e5"/>
<rect x="265.20" y="403.60" width="7.20" height="32.00" fill="#9ed3e6"/>
<rect x="265.20" y="403.60" width="1.50" height="32.00" fill="#8ecbe2"/>
<rect x="266.70" y="403.60" width="1.00" height="32.00" fill="#93cde3"/>
<rect x="267.70" y="403.60" width="1.00" height="32.00" fill="#92cde3"/>
<rect x="268.70" y="403.60" width="1.00" height="32.00" fill="#9dd2e6"/>
<rect x="269.70" y="403.60" width="0.80" height="32.00" fill="#a2d4e7"/>
<rect x="270.50" y="403.60" width="1.90" height="32.00" fill="#8dcbe2"/>
<rect x="70.10" y="435.60" width="130.40" height="32.00" fill="#e8f5f9"/>
<rect x="70.10" y="435.60" width="2.00" height="32.00" fill="#f1f9fb"/>
<rect x="72.10" y="435.60" width="0.60" height="32.00" fill="#e3f2f8"/>
<rect x="72.70" y="435.60" width="1.20" height="32.00" fill="#f1f9fb"/>
<rect x="73.90" y="435.60" width="0.60" height="32.00" fill="#f0f8fb"/>
<rect x="74.50" y="435.60" width="0.80" height="32.00" fill="#e4f2f8"/>
<rect x="75.30" y="435.60" width="1.50" height="32.00" fill="#e3f2f8"/>
<rect x="76.80" y="435.60" width="1.00" height="32.00" fill="#e6f4f9"/>
<rect x="77.80" y="435.60" width="0.80" height="32.00" fill="#e5f3f8"/>
<rect x="78.60" y="435.60" width="1.20" height="32.00" fill="#dceff6"/>
<rect x="79.80" y="435.60" width="2.00" height="32.00" fill="#e1f1f7"/>
<rect x="81.80" y="435.60" width="0.80" height="32.00" fill="#eff8fb"/>
<rect x="82.60" y="435.60" width="0.60" height="32.00" fill="#eaf5fa"/>
<rect x="83.20" y="435.60" width="0.60" height="32.00" fill="#eff8fb"/>
<rect x="83.80" y="435.60" width="0.60" height="32.00" fill="#e7f4f9"/>
<rect x="84.40" y="435.60" width="1.50" height="32.00" fill="#e9f5f9"/>
<rect x="85.90" y="435.60" width="1.00" height="32.00" fill="#e5f3f8"/>
<rect x="86.90" y="435.60" width="2.00" height="32.00" fill="#eef7fb"/>
<rect x="88.90" y="435.60" width="0.60" height="32.00" fill="#e9f5f9"/>
<rect x="89.50" y="435.60" width="0.60" height="32.00" fill="#f4fafc"/>
<rect x="90.10" y="435.60" width="0.80" height="32.00" fill="#eef7fb"/>
<rect x="90.90" y="435.60" width="2.00" height="32.00" fill="#e7f4f9"/>
<rect x="92.90" y="435.60" width="1.20" height="32.00" fill="#e9f5f9"/>
<rect x="94.10" y="435.60" width="1.20" height="32.00" fill="#e2f2f8"/>
<rect x="95.30" y="435.60" width="2.00" height="32.00" fill="#e5f3f8"/>
<rect x="97.30" y="435.60" width="2.00" height="32.00" fill="#e1f1f7"/>
<rect x="99.30" y="435.60" width="1.20" height="32.00" fill="#e6f4f9"/>
<rect x="100.50" y="435.60" width="0.60" height="32.00" fill="#f9deaa"/>
<rect x="101.10" y="435.60" width="0.60" height="32.00" fill="#f8fcfd"/>
<rect x="101.70" y="435.60" width="2.00" height="32.00" fill="#ecf6fa"/>
<rect x="103.70" y="435.60" width="0.60" height="32.00" fill="#e2f2f8"/>
<rect x="104.30" y="435.60" width="0.60" height="32.00" fill="#f9e1b3"/>
<rect x="104.90" y="435.60" width="0.80" height="32.00" fill="#e9f5f9"/>
<rect x="105.70" y="435.60" width="1.50" height="32.00" fill="#e7f4f9"/>
<rect x="107.20" y="435.60" width="1.00" height="32.00" fill="#eef7fb"/>
<rect x="108.20" y="435.60" width="0.60" height="32.00" fill="#eaf5fa"/>
<rect x="108.80" y="435.60" width="2.00" height="32.00" fill="#ebf6fa"/>
<rect x="110.80" y="435.60" width="1.50" height="32.00" fill="#eaf5fa"/>
<rect x="112.30" y="435.60" width="0.60" height="32.00" fill="#dceff6"/>
<rect x="112.90" y="435.60" width="0.60" height="32.00" fill="#f7d594"/>
<rect x="113.50" y="435.60" width="1.50" height="32.00" fill="#eaf5fa"/>
<rect x="115.00" y="435.60" width="0.60" height="32.00" fill="#fae6c0"/>
<rect x="115.60" y="435.60" width="2.00" height="32.00" fill="#e4f3f8"/>
<rect x="117.60" y="435.60" width="0.60" height="32.00" fill="#e7f4f9"/>
<rect x="118.20" y="435.60" width="0.80" height="32.00" fill="#f2f9fc"/>
<rect x="119.00" y="435.60" width="1.20" height="32.00" fill="#eaf5fa"/>
<rect x="120.20" y="435.60" width="2.00" height="32.00" fill="#e6f4f9"/>
<rect x="122.20" y="435.60" width="0.60" height="32.00" fill="#e6f3f8"/>
<rect x="122.80" y="435.60" width="0.60" height="32.00" fill="#e4f3f8"/>
<rect x="123.40" y="435.60" width="2.00" height="32.00" fill="#e7f4f9"/>
<rect x="125.40" y="435.60" width="0.60" height="32.00" fill="#ecf6fa"/>
<rect x="126.00" y="435.60" width="1.00" height="32.00" fill="#ebf6fa"/>
<rect x="127.00" y="435.60" width="1.50" height="32.00" fill="#e4f3f8"/>
<rect x="128.50" y="435.60" width="1.00" height="32.00" fill="#f8d799"/>
<rect x="129.50" y="435.60" width="0.80" height="32.00" fill="#eef7fb"/>
<rect x="130.30" y="435.60" width="1.20" height="32.00" fill="#f4fafc"/>
<rect x="131.50" y="435.60" width="0.80" height="32.00" fill="#e7f4f9"/>
<rect x="132.30" y="435.60" width="0.60" height="32.00" fill="#fae2b5"/>
<rect x="132.90" y="435.60" width="2.00" height="32.00" fill="#e7f4f9"/>
<rect x="134.90" y="435.60" width="1.20" height="32.00" fill="#e1f1f7"/>
<rect x="136.10" y="435.60" width="0.60" height="32.00" fill="#eef7fb"/>
<rect x="136.70" y="435.60" width="2.00" height="32.00" fill="#f4fafc"/>
<rect x="138.70" y="435.60" width="1.00" height="32.00" fill="#e9f5f9"/>
<rect x="139.70" y="435.60" width="0.80" height="32.00" fill="#e7f4f9"/>
<rect x="140.50" y="435.60" width="2.00" height="32.00" fill="#e5f3f8"/>
<rect x="142.50" y="435.60" width="1.00" height="32.00" fill="#e4f2f8"/>
<rect x="143.50" y="435.60" width="0.80" height="32.00" fill="#eff8fb"/>
<rect x="144.30" y="435.60" width="1.50" height="32.00" fill="#e9f5f9"/>
<rect x="145.80" y="435.60" width="1.00" height="32.00" fill="#f1f9fb"/>
<rect x="146.80" y="435.60" width="1.00" height="32.00" fill="#e9f5f9"/>
<rect x="147.80" y="435.60" width="1.50" height="32.00" fill="#e9f5f9"/>
<rect x="149.30" y="435.60" width="1.20" height="32.00" fill="#eaf5fa"/>
<rect x="150.50" y="435.60" width="1.00" height="32.00" fill="#ebf6fa"/>
<rect x="151.50" y="435.60" width="0.80" height="32.00" fill="#e9f5f9"/>
<rect x="152.30" y="435.60" width="2.00" height="32.00" fill="#e6f4f9"/>
<rect x="154.30" y="435.60" width="1.50" height="32.00" fill="#e5f3f8"/>
<rect x="155.80" y="435.60" width="2.00" height="32.00" fill="#ebf6fa"/>
<rect x="157.80" y="435.60" width="0.60" height="32.00" fill="#eaf6fa"/>
<rect x="158.40" y="435.60" width="1.20" height="32.00" fill="#e5f3f8"/>
<rect x="159.60" y="435.60" width="1.20" height="32.00" fill="#d9eef5"/>
<rect x="160.80" y="435.60" width="0.80" height="32.00" fill="#e5f3f8"/>
<rect x="161.60" y="435.60" width="0.80" height="32.00" fill="#e0f1f7"/>
<rect x="162.40" y="435.60" width="0.60" height="32.00" fill="#f1f9fb"/>
<rect x="163.00" y="435.60" width="1.50" height="32.00" fill="#eef7fb"/>
<rect x="164.50" y="435.60" width="0.60" height="32.00" fill="#fae3b8"/>
<rect x="165.10" y="435.60" width="2.00" height="32.00" fill="#e7f4f9"/>
<rect x="167.10" y="435.60" width="0.60" height="32.00" fill="#fae2b4"/>
<rect x="167.70" y="435.60" width="2.00" height="32.00" fill="#ebf6fa"/>
<rect x="169.70" y="435.60" width="1.50" height="32.00" fill="#e7f4f9"/>
<rect x="171.20" y="435.60" width="0.80" height="32.00" fill="#e5f3f8"/>
<rect x="172.00" y="435.60" width="1.00" height="32.00" fill="#e7f4f9"/>
<rect x="173.00" y="435.60" width="1.20" height="32.00" fill="#edf7fb"/>
<rect x="174.20" y="435.60" width="0.60" height="32.00" fill="#ecf6fa"/>
<rect x="174.80" y="435.60" width="0.60" height="32.00" fill="#f9dda8"/>
<rect x="175.40" y="435.60" width="1.00" height="32.00" fill="#e5f3f8"/>
<rect x="176.40" y="435.60" width="0.60" height="32.00" fill="#fbe9c7"/>
<rect x="177.00" y="435.60" width="0.80" height="32.00" fill="#eaf5fa"/>
<rect x="177.80" y="435.60" width="1.00" height="32.00" fill="#e1f1f7"/>
<rect x="178.80" y="435.60" width="0.80" height="32.00" fill="#f9ddaa"/>
<rect x="179.60" y="435.60" width="0.80" height="32.00" fill="#f8daa1"/>
<rect x="180.40" y="435.60" width="0.60" height="32.00" fill="#e7f4f9"/>
<rect x="181.00" y="435.60" width="1.00" height="32.00" fill="#f4fafc"/>
<rect x="182.00" y="435.60" width="2.00" height="32.00" fill="#ebf6fa"/>
<rect x="184.00" y="435.60" width="1.00" height="32.00" fill="#edf7fa"/>
<rect x="185.00" y="435.60" width="1.50" height="32.00" fill="#e3f2f8"/>
<rect x="186.50" y="435.60" width="0.80" height="32.00" fill="#dff1f7"/>
<rect x="187.30" y="435.60" width="1.20" height="32.00" fill="#eaf5fa"/>
<rect x="188.50" y="435.60" width="0.80" height="32.00" fill="#e8f4f9"/>
<rect x="189.30" y="435.60" width="1.00" height="32.00" fill="#e9f5f9"/>
<rect x="190.30" y="435.60" width="0.60" height="32.00" fill="#fae6c0"/>
<rect x="190.90" y="435.60" width="0.80" height="32.00" fill="#fae2b6"/>
<rect x="191.70" y="435.60" width="1.50" height="32.00" fill="#e9f5f9"/>
<rect x="193.20" y="435.60" width="0.60" height="32.00" fill="#e4f2f8"/>
<rect x="193.80" y="435.60" width="0.80" height="32.00" fill="#ecf6fa"/>
<rect x="194.60" y="435.60" width="0.60" height="32.00" fill="#eaf5fa"/>
<rect x="195.20" y="435.60" width="1.20" height="32.00" fill="#eaf5fa"/>
<rect x="196.40" y="435.60" width="1.00" height="32.00" fill="#e7f4f9"/>
<rect x="197.40" y="435.60" width="2.00" height="32.00" fill="#e8f4f9"/>
<rect x="199.40" y="435.60" width="1.10" height="32.00" fill="#f1f9fc"/>
<rect x="200.50" y="435.60" width="44.90" height="32.00" fill="#ecf6fa"/>
<rect x="200.50" y="435.60" width="0.60" height="32.00" fill="#e2f2f8"/>
<rect x="201.10" y="435.60" width="1.20" height="32.00" fill="#e8f4f9"/>
<rect x="202.30" y="435.60" width="1.00" height="32.00" fill="#ebf6fa"/>
<rect x="203.30" y="435.60" width="0.60" height="32.00" fill="#e6f4f9"/>
<rect x="203.90" y="435.60" width="2.00" height="32.00" fill="#ecf7fa"/>
<rect x="205.90" y="435.60" width="1.20" height="32.00" fill="#eaf5fa"/>
<rect x="207.10" y="435.60" width="1.00" height="32.00" fill="#eaf5fa"/>
<rect x="208.10" y="435.60" width="2.00" height="32.00" fill="#f2f9fc"/>
<rect x="210.10" y="435.60" width="0.60" height="32.00" fill="#ebf6fa"/>
<rect x="210.70" y="435.60" width="1.50" height="32.00" fill="#f2f9fc"/>
<rect x="212.20" y="435.60" width="0.60" height="32.00" fill="#e7f4f9"/>
<rect x="212.80" y="435.60" width="0.80" height="32.00" fill="#edf7fa"/>
<rect x="213.60" y="435.60" width="1.00" height="32.00" fill="#e4f3f8"/>
<rect x="214.60" y="435.60" width="1.00" height="32.00" fill="#ebf6fa"/>
<rect x="215.60" y="435.60" width="2.00" height="32.00" fill="#e1f2f7"/>
<rect x="217.60" y="435.60" width="0.80" height="32.00" fill="#f1f9fc"/>
<rect x="218.40" y="435.60" width="1.20" height="32.00" fill="#ecf6fa"/>
<rect x="219.60" y="435.60" width="0.60" height="32.00" fill="#e9f5f9"/>
<rect x="220.20" y="435.60" width="1.00" height="32.00" fill="#f9fcfe"/>
<rect x="221.20" y="435.60" width="0.60" height="32.00" fill="#fae4ba"/>
<rect x="221.80" y="435.60" width="0.60" height="32.00" fill="#e8f4f9"/>
<rect x="222.40" y="435.60" width="1.00" height="32.00" fill="#f0f8fb"/>
<rect x="223.40" y="435.60" width="2.00" height="32.00" fill="#dceff6"/>
<rect x="225.40" y="435.60" width="0.80" height="32.00" fill="#ecf7fa"/>
<rect x="226.20" y="435.60" width="1.20" height="32.00" fill="#f2f9fc"/>
<rect x="227.40" y="435.60" width="0.80" height="32.00" fill="#ffffff"/>
<rect x="228.20" y="435.60" width="1.00" height="32.00" fill="#eff8fb"/>
<rect x="229.20" y="435.60" width="0.60" height="32.00" fill="#fbe9c8"/>
<rect x="229.80" y="435.60" width="0.80" height="32.00" fill="#eef7fb"/>
<rect x="230.60" y="435.60" width="1.00" height="32.00" fill="#e7f4f9"/>
<rect x="231.60" y="435.60" width="1.20" height="32.00" fill="#e8f4f9"/>
<rect x="232.80" y="435.60" width="0.80" height="32.00" fill="#e8f4f9"/>
<rect x="233.60" y="435.60" width="0.80" height="32.00" fill="#eaf5fa"/>
<rect x="234.40" y="435.60" width="0.80" height="32.00" fill="#e2f2f8"/>
<rect x="235.20" y="435.60" width="0.80" height="32.00" fill="#e6f4f9"/>
<rect x="236.00" y="435.60" width="0.60" height="32.00" fill="#e7f4f9"/>
<rect x="236.60" y="435.60" width="1.50" height="32.00" fill="#e9f5f9"/>
<rect x="238.10" y="435.60" width="0.80" height="32.00" fill="#f0f8fb"/>
<rect x="238.90" y="435.60" width="1.20" height="32.00" fill="#ebf6fa"/>
<rect x="240.10" y="435.60" width="0.80" height="32.00" fill="#fbe8c4"/>
<rect x="240.90" y="435.60" width="0.60" height="32.00" fill="#e8f5f9"/>
<rect x="241.50" y="435.60" width="1.20" height="32.00" fill="#f9fcfd"/>
<rect x="242.70" y="435.60" width="1.20" height="32.00" fill="#f1f9fb"/>
<rect x="243.90" y="435.60" width="1.50" height="32.00" fill="#e4f3f8"/>
<rect x="245.40" y="435.60" width="17.20" height="32.00" fill="#e5f3f8"/>
<rect x="245.40" y="435.60" width="1.20" height="32.00" fill="#e5f3f8"/>
<rect x="246.60" y="435.60" width="1.00" height="32.00" fill="#edf7fa"/>
<rect x="247.60" y="435.60" width="1.50" height="32.00" fill="#e6f4f9"/>
<rect x="249.10" y="435.60" width="1.50" height="32.00" fill="#e7f4f9"/>
<rect x="250.60" y="435.60" width="2.00" height="32.00" fill="#ecf6fa"/>
<rect x="252.60" y="435.60" width="1.50" height="32.00" fill="#e3f2f8"/>
<rect x="254.10" y="435.60" width="0.60" height="32.00" fill="#e5f3f8"/>
<rect x="254.70" y="435.60" width="0.80" height="32.00" fill="#e4f2f8"/>
<rect x="255.50" y="435.60" width="0.60" height="32.00" fill="#e1f1f7"/>
<rect x="256.10" y="435.60" width="2.00" height="32.00" fill="#e7f4f9"/>
<rect x="258.10" y="435.60" width="1.20" height="32.00" fill="#eef7fb"/>
<rect x="259.30" y="435.60" width="1.20" height="32.00" fill="#e3f2f8"/>
<rect x="260.50" y="435.60" width="0.80" height="32.00" fill="#e0f1f7"/>
<rect x="261.30" y="435.60" width="1.30" height="32.00" fill="#e4f3f8"/>
<rect x="262.60" y="435.60" width="2.60" height="32.00" fill="#f2b84b"/>
<rect x="262.60" y="435.60" width="2.00" height="32.00" fill="#f2b84b"/>
<rect x="264.60" y="435.60" width="0.60" height="32.00" fill="#f2b84b"/>
<rect x="265.20" y="435.60" width="7.20" height="32.00" fill="#ecf6fa"/>
<rect x="265.20" y="435.60" width="1.00" height="32.00" fill="#eef7fb"/>
<rect x="266.20" y="435.60" width="0.80" height="32.00" fill="#eef7fb"/>
<rect x="267.00" y="435.60" width="1.00" height="32.00" fill="#f0f8fb"/>
<rect x="268.00" y="435.60" width="1.20" height="32.00" fill="#f0f8fb"/>
<rect x="269.20" y="435.60" width="1.50" height="32.00" fill="#eaf5fa"/>
<rect x="270.70" y="435.60" width="1.50" height="32.00" fill="#edf7fa"/>
<rect x="272.20" y="435.60" width="0.20" height="32.00" fill="#f2f9fc"/>
<rect x="70.10" y="467.60" width="130.40" height="32.00" fill="#f5fbfd"/>
<rect x="70.10" y="467.60" width="1.00" height="32.00" fill="#f3f9fc"/>
<rect x="71.10" y="467.60" width="1.20" height="32.00" fill="#f2f9fc"/>
<rect x="72.30" y="467.60" width="2.00" height="32.00" fill="#feffff"/>
<rect x="74.30" y="467.60" width="0.80" height="32.00" fill="#f3fafc"/>
<rect x="75.10" y="467.60" width="1.00" height="32.00" fill="#f7fbfd"/>
<rect x="76.10" y="467.60" width="2.00" height="32.00" fill="#f6fbfd"/>
<rect x="78.10" y="467.60" width="0.80" height="32.00" fill="#f9fcfd"/>
<rect x="78.90" y="467.60" width="1.00" height="32.00" fill="#f3fafc"/>
<rect x="79.90" y="467.60" width="1.20" height="32.00" fill="#f3f9fc"/>
<rect x="81.10" y="467.60" width="1.50" height="32.00" fill="#fffffe"/>
<rect x="82.60" y="467.60" width="1.20" height="32.00" fill="#f8fcfd"/>
<rect x="83.80" y="467.60" width="1.00" height="32.00" fill="#feffff"/>
<rect x="84.80" y="467.60" width="0.60" height="32.00" fill="#f7fbfd"/>
<rect x="85.40" y="467.60" width="0.60" height="32.00" fill="#f7fbfd"/>
<rect x="86.00" y="467.60" width="0.80" height="32.00" fill="#f8fcfd"/>
<rect x="86.80" y="467.60" width="0.60" height="32.00" fill="#f7fbfd"/>
<rect x="87.40" y="467.60" width="1.20" height="32.00" fill="#f6fbfd"/>
<rect x="88.60" y="467.60" width="1.50" height="32.00" fill="#f3f9fc"/>
<rect x="90.10" y="467.60" width="1.00" height="32.00" fill="#f9fcfd"/>
<rect x="91.10" y="467.60" width="0.60" height="32.00" fill="#f5fafc"/>
<rect x="91.70" y="467.60" width="0.60" height="32.00" fill="#f9fcfe"/>
<rect x="92.30" y="467.60" width="1.00" height="32.00" fill="#fcfefe"/>
<rect x="93.30" y="467.60" width="1.50" height="32.00" fill="#fdfefe"/>
<rect x="94.80" y="467.60" width="0.80" height="32.00" fill="#e9f5f9"/>
<rect x="95.60" y="467.60" width="0.80" height="32.00" fill="#ecf6fa"/>
<rect x="96.40" y="467.60" width="1.20" height="32.00" fill="#eff8fb"/>
<rect x="97.60" y="467.60" width="0.60" height="32.00" fill="#fbfdfe"/>
<rect x="98.20" y="467.60" width="0.60" height="32.00" fill="#f8fcfd"/>
<rect x="98.80" y="467.60" width="1.20" height="32.00" fill="#f7fbfd"/>
<rect x="100.00" y="467.60" width="0.80" height="32.00" fill="#eef7fb"/>
<rect x="100.80" y="467.60" width="1.20" height="32.00" fill="#eff8fb"/>
<rect x="102.00" y="467.60" width="0.80" height="32.00" fill="#f9fcfd"/>
<rect x="102.80" y="467.60" width="1.20" height="32.00" fill="#f4fafc"/>
<rect x="104.00" y="467.60" width="1.00" height="32.00" fill="#eff8fb"/>
<rect x="105.00" y="467.60" width="0.60" height="32.00" fill="#f5fbfd"/>
<rect x="105.60" y="467.60" width="2.00" height="32.00" fill="#fbfdfe"/>
<rect x="107.60" y="467.60" width="2.00" height="32.00" fill="#f6fbfd"/>
<rect x="109.60" y="467.60" width="1.50" height="32.00" fill="#f6fbfd"/>
<rect x="111.10" y="467.60" width="2.00" height="32.00" fill="#f8fcfd"/>
<rect x="113.10" y="467.60" width="0.80" height="32.00" fill="#f7fcfd"/>
<rect x="113.90" y="467.60" width="2.00" height="32.00" fill="#f8fcfd"/>
<rect x="115.90" y="467.60" width="2.00" height="32.00" fill="#f7fbfd"/>
<rect x="117.90" y="467.60" width="2.00" height="32.00" fill="#f1f9fb"/>
<rect x="119.90" y="467.60" width="1.50" height="32.00" fill="#f4fafc"/>
<rect x="121.40" y="467.60" width="0.80" height="32.00" fill="#f9fcfe"/>
<rect x="122.20" y="467.60" width="2.00" height="32.00" fill="#f9fcfe"/>
<rect x="124.20" y="467.60" width="0.60" height="32.00" fill="#f1f9fc"/>
<rect x="124.80" y="467.60" width="2.00" height="32.00" fill="#f0f8fb"/>
<rect x="126.80" y="467.60" width="1.50" height="32.00" fill="#f5fafc"/>
<rect x="128.30" y="467.60" width="0.60" height="32.00" fill="#f7fbfd"/>
<rect x="128.90" y="467.60" width="1.20" height="32.00" fill="#f7fbfd"/>
<rect x="130.10" y="467.60" width="2.00" height="32.00" fill="#f0f8fb"/>
<rect x="132.10" y="467.60" width="2.00" height="32.00" fill="#f5fafc"/>
<rect x="134.10" y="467.60" width="2.00" height="32.00" fill="#f1f9fc"/>
<rect x="136.10" y="467.60" width="1.00" height="32.00" fill="#f9fcfe"/>
<rect x="137.10" y="467.60" width="0.60" height="32.00" fill="#f6fbfd"/>
<rect x="137.70" y="467.60" width="0.80" height="32.00" fill="#f3fafc"/>
<rect x="138.50" y="467.60" width="1.50" height="32.00" fill="#f9fcfe"/>
<rect x="140.00" y="467.60" width="1.00" height="32.00" fill="#fafcfe"/>
<rect x="141.00" y="467.60" width="2.00" height="32.00" fill="#f6fbfd"/>
<rect x="143.00" y="467.60" width="1.20" height="32.00" fill="#f0f8fb"/>
<rect x="144.20" y="467.60" width="2.00" height="32.00" fill="#f7fbfd"/>
<rect x="146.20" y="467.60" width="2.00" height="32.00" fill="#f5fafc"/>
<rect x="148.20" y="467.60" width="0.60" height="32.00" fill="#f4fafc"/>
<rect x="148.80" y="467.60" width="1.50" height="32.00" fill="#f1f9fb"/>
<rect x="150.30" y="467.60" width="0.80" height="32.00" fill="#f6fbfd"/>
<rect x="151.10" y="467.60" width="2.00" height="32.00" fill="#fafdfe"/>
<rect x="153.10" y="467.60" width="0.60" height="32.00" fill="#fafdfe"/>
<rect x="153.70" y="467.60" width="0.60" height="32.00" fill="#f2f9fc"/>
<rect x="154.30" y="467.60" width="2.00" height="32.00" fill="#fdfefe"/>
<rect x="156.30" y="467.60" width="0.80" height="32.00" fill="#f2f9fc"/>
<rect x="157.10" y="467.60" width="1.50" height="32.00" fill="#f9fcfd"/>
<rect x="158.60" y="467.60" width="0.80" height="32.00" fill="#edf7fa"/>
<rect x="159.40" y="467.60" width="0.80" height="32.00" fill="#f5fbfd"/>
<rect x="160.20" y="467.60" width="1.50" height="32.00" fill="#eaf5fa"/>
<rect x="161.70" y="467.60" width="0.80" height="32.00" fill="#fbfdfe"/>
<rect x="162.50" y="467.60" width="2.00" height="32.00" fill="#f6fbfd"/>
<rect x="164.50" y="467.60" width="1.50" height="32.00" fill="#f4fafc"/>
<rect x="166.00" y="467.60" width="1.00" height="32.00" fill="#f8fcfd"/>
<rect x="167.00" y="467.60" width="2.00" height="32.00" fill="#edf7fa"/>
<rect x="169.00" y="467.60" width="1.50" height="32.00" fill="#fafdfe"/>
<rect x="170.50" y="467.60" width="1.00" height="32.00" fill="#edf7fa"/>
<rect x="171.50" y="467.60" width="1.00" height="32.00" fill="#eef7fb"/>
<rect x="172.50" y="467.60" width="1.00" height="32.00" fill="#f7fbfd"/>
<rect x="173.50" y="467.60" width="1.00" height="32.00" fill="#f2f9fc"/>
<rect x="174.50" y="467.60" width="1.20" height="32.00" fill="#f4fafc"/>
<rect x="175.70" y="467.60" width="2.00" height="32.00" fill="#f7fbfd"/>
<rect x="177.70" y="467.60" width="2.00" height="32.00" fill="#f6fbfd"/>
<rect x="179.70" y="467.60" width="2.00" height="32.00" fill="#eff8fb"/>
<rect x="181.70" y="467.60" width="2.00" height="32.00" fill="#f7fbfd"/>
<rect x="183.70" y="467.60" width="1.50" height="32.00" fill="#f8fcfd"/>
<rect x="185.20" y="467.60" width="1.20" height="32.00" fill="#f1f9fb"/>
<rect x="186.40" y="467.60" width="2.00" height="32.00" fill="#f7fbfd"/>
<rect x="188.40" y="467.60" width="0.60" height="32.00" fill="#f0f8fb"/>
<rect x="189.00" y="467.60" width="0.80" height="32.00" fill="#fefeff"/>
<rect x="189.80" y="467.60" width="2.00" height="32.00" fill="#fafdfe"/>
<rect x="191.80" y="467.60" width="1.50" height="32.00" fill="#f1f8fb"/>
<rect x="193.30" y="467.60" width="1.00" height="32.00" fill="#f0f8fb"/>
<rect x="194.30" y="467.60" width="0.80" height="32.00" fill="#f6fbfd"/>
<rect x="195.10" y="467.60" width="1.00" height="32.00" fill="#f5fbfd"/>
<rect x="196.10" y="467.60" width="0.60" height="32.00" fill="#f8fcfd"/>
<rect x="196.70" y="467.60" width="0.60" height="32.00" fill="#f6fbfd"/>
<rect x="197.30" y="467.60" width="2.00" height="32.00" fill="#f7fbfd"/>
<rect x="199.30" y="467.60" width="1.20" height="32.00" fill="#f2f9fc"/>
<rect x="200.50" y="467.60" width="44.90" height="32.00" fill="#f7fbfd"/>
<rect x="200.50" y="467.60" width="1.20" height="32.00" fill="#f5fafc"/>
<rect x="201.70" y="467.60" width="2.00" height="32.00" fill="#fbfdfe"/>
<rect x="203.70" y="467.60" width="1.00" height="32.00" fill="#f4fafc"/>
<rect x="204.70" y="467.60" width="1.00" height="32.00" fill="#f7fbfd"/>
<rect x="205.70" y="467.60" width="1.50" height="32.00" fill="#f4fafc"/>
<rect x="207.20" y="467.60" width="1.00" height="32.00" fill="#fceed3"/>
<rect x="208.20" y="467.60" width="0.80" height="32.00" fill="#f8fcfd"/>
<rect x="209.00" y="467.60" width="2.00" height="32.00" fill="#fbfdfe"/>
<rect x="211.00" y="467.60" width="0.60" height="32.00" fill="#f4fafc"/>
<rect x="211.60" y="467.60" width="1.50" height="32.00" fill="#f3fafc"/>
<rect x="213.10" y="467.60" width="2.00" height="32.00" fill="#fffefc"/>
<rect x="215.10" y="467.60" width="1.00" height="32.00" fill="#fffefb"/>
<rect x="216.10" y="467.60" width="2.00" height="32.00" fill="#f6fbfd"/>
<rect x="218.10" y="467.60" width="0.60" height="32.00" fill="#f9fcfe"/>
<rect x="218.70" y="467.60" width="2.00" height="32.00" fill="#f4fafc"/>
<rect x="220.70" y="467.60" width="1.20" height="32.00" fill="#f9fcfd"/>
<rect x="221.90" y="467.60" width="1.00" height="32.00" fill="#fcfefe"/>
<rect x="222.90" y="467.60" width="1.20" height="32.00" fill="#f7fbfd"/>
<rect x="224.10" y="467.60" width="1.50" height="32.00" fill="#ffffff"/>
<rect x="225.60" y="467.60" width="1.20" height="32.00" fill="#f8fcfd"/>
<rect x="226.80" y="467.60" width="1.00" height="32.00" fill="#fdf3e1"/>
<rect x="227.80" y="467.60" width="1.50" height="32.00" fill="#f9fcfd"/>
<rect x="229.30" y="467.60" width="0.60" height="32.00" fill="#f6fbfd"/>
<rect x="229.90" y="467.60" width="0.80" height="32.00" fill="#eff8fb"/>
<rect x="230.70" y="467.60" width="2.00" height="32.00" fill="#f7fbfd"/>
<rect x="232.70" y="467.60" width="0.80" height="32.00" fill="#eef7fb"/>
<rect x="233.50" y="467.60" width="0.80" height="32.00" fill="#f7fbfd"/>
<rect x="234.30" y="467.60" width="1.20" height="32.00" fill="#f9fcfd"/>
<rect x="235.50" y="467.60" width="1.00" height="32.00" fill="#f3fafc"/>
<rect x="236.50" y="467.60" width="0.80" height="32.00" fill="#f3fafc"/>
<rect x="237.30" y="467.60" width="0.60" height="32.00" fill="#f9fcfe"/>
<rect x="237.90" y="467.60" width="1.00" height="32.00" fill="#f9fcfe"/>
<rect x="238.90" y="467.60" width="1.50" height="32.00" fill="#f6fbfd"/>
<rect x="240.40" y="467.60" width="1.50" height="32.00" fill="#f8fcfd"/>
<rect x="241.90" y="467.60" width="0.80" height="32.00" fill="#f5fafc"/>
<rect x="242.70" y="467.60" width="2.00" height="32.00" fill="#f6fbfd"/>
<rect x="244.70" y="467.60" width="0.70" height="32.00" fill="#f1f9fb"/>
<rect x="245.40" y="467.60" width="17.20" height="32.00" fill="#f7fbfd"/>
<rect x="245.40" y="467.60" width="1.20" height="32.00" fill="#f8fcfd"/>
<rect x="246.60" y="467.60" width="0.60" height="32.00" fill="#f7fbfd"/>
<rect x="247.20" y="467.60" width="1.20" height="32.00" fill="#fdfefe"/>
<rect x="248.40" y="467.60" width="1.50" height="32.00" fill="#f2f9fc"/>
<rect x="249.90" y="467.60" width="2.00" height="32.00" fill="#f4fafc"/>
<rect x="251.90" y="467.60" width="0.80" height="32.00" fill="#f9fcfd"/>
<rect x="252.70" y="467.60" width="2.00" height="32.00" fill="#f8fcfd"/>
<rect x="254.70" y="467.60" width="1.20" height="32.00" fill="#fcfefe"/>
<rect x="255.90" y="467.60" width="2.00" height="32.00" fill="#f7fbfd"/>
<rect x="257.90" y="467.60" width="0.80" height="32.00" fill="#fafdfe"/>
<rect x="258.70" y="467.60" width="1.20" height="32.00" fill="#f5fafc"/>
<rect x="259.90" y="467.60" width="1.00" height="32.00" fill="#fbfdfe"/>
<rect x="260.90" y="467.60" width="0.80" height="32.00" fill="#f4fafc"/>
<rect x="261.70" y="467.60" width="0.80" height="32.00" fill="#f4fafc"/>
<rect x="262.50" y="467.60" width="0.10" height="32.00" fill="#f6fbfd"/>
<rect x="262.60" y="467.60" width="2.60" height="32.00" fill="#f2f9fc"/>
<rect x="262.60" y="467.60" width="1.00" height="32.00" fill="#f1f9fb"/>
<rect x="263.60" y="467.60" width="0.80" height="32.00" fill="#edf7fa"/>
<rect x="264.40" y="467.60" width="0.80" height="32.00" fill="#f5fafc"/>
<rect x="265.20" y="467.60" width="7.20" height="32.00" fill="#fbeac9"/>
<rect x="265.20" y="467.60" width="1.20" height="32.00" fill="#fcefd7"/>
<rect x="266.40" y="467.60" width="1.50" height="32.00" fill="#fbe9c7"/>
<rect x="267.90" y="467.60" width="0.80" height="32.00" fill="#fdf2de"/>
<rect x="268.70" y="467.60" width="1.50" height="32.00" fill="#fbe8c5"/>
<rect x="270.20" y="467.60" width="0.80" height="32.00" fill="#fbe9c7"/>
<rect x="271.00" y="467.60" width="1.20" height="32.00" fill="#fae3b8"/>
<rect x="272.20" y="467.60" width="0.20" height="32.00" fill="#fcefd7"/>
<line x1="200.5" y1="339.6" x2="200.5" y2="499.6" stroke="#777" stroke-width="0.8"/>
<line x1="245.4" y1="339.6" x2="245.4" y2="499.6" stroke="#777" stroke-width="0.8"/>
<line x1="262.6" y1="339.6" x2="262.6" y2="499.6" stroke="#aaa" stroke-width="0.8"/>
<line x1="265.2" y1="339.6" x2="265.2" y2="499.6" stroke="#777" stroke-width="0.8"/>
<line x1="272.4" y1="339.6" x2="272.4" y2="499.6" stroke="#999" stroke-width="0.8"/>
<rect x="70.1" y="330.7" width="129.9" height="3.4" fill="#EE6B61"/>
<rect x="201.0" y="330.7" width="43.6" height="3.4" fill="#98962C"/>
<rect x="245.7" y="330.7" width="17.0" height="3.4" fill="#30B67E"/>
<rect x="263.2" y="330.7" width="1.9" height="3.4" fill="#1FA9E0"/>
<rect x="265.9" y="330.7" width="6.1" height="3.4" fill="#B06CCB"/>
<text x="66.1" y="358.6" font-size="8.3" font-weight="normal" font-style="italic" text-anchor="end" fill="#222" >VAChT</text>
<text x="66.1" y="390.6" font-size="8.3" font-weight="normal" font-style="italic" text-anchor="end" fill="#222" >VGlut</text>
<text x="66.1" y="422.6" font-size="8.3" font-weight="normal" font-style="italic" text-anchor="end" fill="#222" >Gad1</text>
<text x="66.1" y="454.6" font-size="8.3" font-weight="normal" font-style="italic" text-anchor="end" fill="#222" >Vmat</text>
<text x="66.1" y="486.6" font-size="8.3" font-weight="normal" font-style="italic" text-anchor="end" fill="#222" >repo</text>
<text x="280.6" y="372.9" font-size="8.3" font-weight="normal" font-style="normal" text-anchor="start" fill="#222" >Identity</text>
<circle cx="283.3" cy="382.3" r="1.35" fill="#EE6B61"/>
<text x="292.5" y="384.6" font-size="6.5" font-weight="normal" font-style="normal" text-anchor="start" fill="#222" >Cholinergic neurons</text>
<circle cx="283.3" cy="390.2" r="1.35" fill="#98962C"/>
<text x="292.5" y="392.6" font-size="6.5" font-weight="normal" font-style="normal" text-anchor="start" fill="#222" >Glutamatergic neurons</text>
<circle cx="283.3" cy="398.2" r="1.35" fill="#2DB47A"/>
<text x="292.5" y="400.5" font-size="6.5" font-weight="normal" font-style="normal" text-anchor="start" fill="#222" >GABAergic neurons</text>
<circle cx="283.3" cy="406.2" r="1.35" fill="#1FA9E0"/>
<text x="292.5" y="408.5" font-size="6.5" font-weight="normal" font-style="normal" text-anchor="start" fill="#222" >Monoaminergic neurons</text>
<circle cx="283.3" cy="414.1" r="1.35" fill="#B36BD0"/>
<text x="292.5" y="416.4" font-size="6.5" font-weight="normal" font-style="normal" text-anchor="start" fill="#222" >Other</text>
<text x="280.6" y="436.0" font-size="8.3" font-weight="normal" font-style="normal" text-anchor="start" fill="#222" >Expression</text>
<defs><linearGradient id="cb" x1="0" y1="0" x2="0" y2="1"><stop offset="0" stop-color="#F2B84B"/><stop offset="0.2" stop-color="#F5CF85"/><stop offset="0.5" stop-color="#FFFFFF"/><stop offset="0.8" stop-color="#B4DDED"/><stop offset="1" stop-color="#7EC4DE"/></linearGradient></defs>
<rect x="280.6" y="440.9" width="7.7" height="39.9" fill="url(#cb)"/>
<text x="292.5" y="446.6" font-size="6.5" font-weight="normal" font-style="normal" text-anchor="start" fill="#222" >2</text>
<text x="292.5" y="455.0" font-size="6.5" font-weight="normal" font-style="normal" text-anchor="start" fill="#222" >1</text>
<text x="292.5" y="463.4" font-size="6.5" font-weight="normal" font-style="normal" text-anchor="start" fill="#222" >0</text>
<text x="292.5" y="471.3" font-size="6.5" font-weight="normal" font-style="normal" text-anchor="start" fill="#222" >−1</text>
<text x="292.5" y="479.4" font-size="6.5" font-weight="normal" font-style="normal" text-anchor="start" fill="#222" >−2</text>
<rect x="533.75" y="40.23" width="9.7" height="220.82" fill="#333"/>
<text x="540.4" y="25.0" font-size="6.3" font-weight="bold" font-style="normal" text-anchor="middle" fill="#111" >55.45%</text>
<text x="538.6" y="35.6" font-size="7" font-weight="normal" font-style="normal" text-anchor="middle" fill="#595959" >14265</text>
<rect x="549.95" y="191.61" width="9.7" height="69.44" fill="#333"/>
<text x="556.0" y="175.5" font-size="6.3" font-weight="bold" font-style="normal" text-anchor="middle" fill="#111" >17.44%</text>
<text x="554.9" y="186.9" font-size="7" font-weight="normal" font-style="normal" text-anchor="middle" fill="#595959" >4486</text>
<rect x="566.15" y="232.80" width="9.7" height="28.25" fill="#333"/>
<text x="572.7" y="216.1" font-size="6.3" font-weight="bold" font-style="normal" text-anchor="middle" fill="#111" >7.09%</text>
<text x="571.4" y="228.0" font-size="7" font-weight="normal" font-style="normal" text-anchor="middle" fill="#595959" >1825</text>
<rect x="582.35" y="238.36" width="9.7" height="22.69" fill="#333"/>
<text x="589.9" y="224.1" font-size="6.3" font-weight="bold" font-style="normal" text-anchor="middle" fill="#111" >5.70%</text>
<text x="587.6" y="233.7" font-size="7" font-weight="normal" font-style="normal" text-anchor="middle" fill="#595959" >1466</text>
<rect x="598.55" y="248.36" width="9.7" height="12.69" fill="#333"/>
<text x="605.0" y="232.5" font-size="6.3" font-weight="bold" font-style="normal" text-anchor="middle" fill="#111" >3.19%</text>
<text x="603.5" y="243.5" font-size="7" font-weight="normal" font-style="normal" text-anchor="middle" fill="#595959" >820</text>
<rect x="614.75" y="253.99" width="9.7" height="7.06" fill="#333"/>
<text x="621.0" y="238.3" font-size="6.3" font-weight="bold" font-style="normal" text-anchor="middle" fill="#111" >1.77%</text>
<text x="619.5" y="249.3" font-size="7" font-weight="normal" font-style="normal" text-anchor="middle" fill="#595959" >456</text>
<rect x="630.95" y="257.40" width="9.7" height="3.65" fill="#333"/>
<text x="637.5" y="243.0" font-size="6.3" font-weight="bold" font-style="normal" text-anchor="middle" fill="#111" >0.92%</text>
<text x="636.1" y="252.7" font-size="7" font-weight="normal" font-style="normal" text-anchor="middle" fill="#595959" >236</text>
<rect x="647.15" y="259.36" width="9.7" height="1.69" fill="#333"/>
<text x="654.4" y="248.5" font-size="6.3" font-weight="bold" font-style="normal" text-anchor="middle" fill="#111" >0.42%</text>
<text x="652.2" y="254.8" font-size="7" font-weight="normal" font-style="normal" text-anchor="middle" fill="#595959" >109</text>
<rect x="663.35" y="259.47" width="9.7" height="1.58" fill="#333"/>
<text x="671.4" y="239.0" font-size="6.3" font-weight="bold" font-style="normal" text-anchor="middle" fill="#111" >0.40%</text>
<text x="668.5" y="254.9" font-size="7" font-weight="normal" font-style="normal" text-anchor="middle" fill="#595959" >102</text>
<rect x="679.55" y="259.86" width="9.7" height="1.19" fill="#333"/>
<text x="686.5" y="247.8" font-size="6.3" font-weight="bold" font-style="normal" text-anchor="middle" fill="#111" >0.30%</text>
<text x="684.5" y="255.3" font-size="7" font-weight="normal" font-style="normal" text-anchor="middle" fill="#595959" >77</text>
<rect x="695.75" y="260.03" width="9.7" height="1.02" fill="#333"/>
<text x="704.0" y="239.7" font-size="6.3" font-weight="bold" font-style="normal" text-anchor="middle" fill="#111" >0.26%</text>
<text x="700.7" y="255.3" font-size="7" font-weight="normal" font-style="normal" text-anchor="middle" fill="#595959" >66</text>
<rect x="711.95" y="260.66" width="9.7" height="0.39" fill="#333"/>
<text x="718.5" y="247.8" font-size="6.3" font-weight="bold" font-style="normal" text-anchor="middle" fill="#111" >0.10%</text>
<text x="717.0" y="256.0" font-size="7" font-weight="normal" font-style="normal" text-anchor="middle" fill="#595959" >25</text>
<rect x="728.15" y="260.77" width="9.7" height="0.28" fill="#333"/>
<text x="735.8" y="239.3" font-size="6.3" font-weight="bold" font-style="normal" text-anchor="middle" fill="#111" >0.07%</text>
<text x="733.4" y="256.0" font-size="7" font-weight="normal" font-style="normal" text-anchor="middle" fill="#595959" >18</text>
<rect x="744.35" y="260.94" width="9.7" height="0.11" fill="#333"/>
<text x="751.0" y="246.9" font-size="6.3" font-weight="bold" font-style="normal" text-anchor="middle" fill="#111" >0.03%</text>
<text x="749.4" y="256.0" font-size="7" font-weight="normal" font-style="normal" text-anchor="middle" fill="#595959" >7</text>
<rect x="760.55" y="260.97" width="9.7" height="0.08" fill="#333"/>
<text x="768.5" y="240.8" font-size="6.3" font-weight="bold" font-style="normal" text-anchor="middle" fill="#111" >0.02%</text>
<text x="765.4" y="256.0" font-size="7" font-weight="normal" font-style="normal" text-anchor="middle" fill="#595959" >5</text>
<line x1="522.3" y1="15" x2="522.3" y2="266.5" stroke="#999" stroke-width="0.8"/>
<line x1="522.3" y1="261.05" x2="782.4" y2="261.05" stroke="#999" stroke-width="0.8"/>
<line x1="520.3" y1="28.85" x2="522.3" y2="28.85" stroke="#999" stroke-width="0.8"/>
<text x="519.6" y="31.3" font-size="7.2" font-weight="normal" font-style="normal" text-anchor="end" fill="#666" >15000</text>
<line x1="520.3" y1="106.25" x2="522.3" y2="106.25" stroke="#999" stroke-width="0.8"/>
<text x="519.6" y="108.8" font-size="7.2" font-weight="normal" font-style="normal" text-anchor="end" fill="#666" >10000</text>
<line x1="520.3" y1="183.65" x2="522.3" y2="183.65" stroke="#999" stroke-width="0.8"/>
<text x="519.6" y="186.2" font-size="7.2" font-weight="normal" font-style="normal" text-anchor="end" fill="#666" >5000</text>
<line x1="520.3" y1="261.05" x2="522.3" y2="261.05" stroke="#999" stroke-width="0.8"/>
<text x="519.6" y="263.6" font-size="7.2" font-weight="normal" font-style="normal" text-anchor="end" fill="#666" >0</text>
<text x="0" y="0" font-size="13.6" font-weight="bold" text-anchor="middle" fill="#111" transform="translate(498.8 157) rotate(-90)">Intersection Size</text>
<path d="M743.3,258.6 H746.8 V262" fill="none" stroke="#bbb" stroke-width="0.7"/>
<rect x="522.3" y="290.4" width="259.4" height="22.6" fill="#F2F2F2"/>
<rect x="522.3" y="336.6" width="259.4" height="22.6" fill="#F2F2F2"/>
<text x="508.7" y="281.4" font-size="7.05" font-weight="normal" font-style="normal" text-anchor="middle" fill="#333" >Vmat</text>
<text x="508.7" y="304.5" font-size="7.05" font-weight="normal" font-style="normal" text-anchor="middle" fill="#333" >Gad1</text>
<text x="508.7" y="327.5" font-size="7.05" font-weight="normal" font-style="normal" text-anchor="middle" fill="#333" >VGlut</text>
<text x="508.7" y="350.5" font-size="7.05" font-weight="normal" font-style="normal" text-anchor="middle" fill="#333" >VAChT</text>
<circle cx="538.60" cy="278.9" r="2.2" fill="#DCDCDC"/>
<circle cx="538.60" cy="302.0" r="2.2" fill="#DCDCDC"/>
<circle cx="538.60" cy="325.0" r="2.2" fill="#DCDCDC"/>
<circle cx="538.60" cy="348.0" r="2.2" fill="#333"/>
<circle cx="554.80" cy="278.9" r="2.2" fill="#DCDCDC"/>
<circle cx="554.80" cy="302.0" r="2.2" fill="#DCDCDC"/>
<circle cx="554.80" cy="348.0" r="2.2" fill="#DCDCDC"/>
<circle cx="554.80" cy="325.0" r="2.2" fill="#333"/>
<circle cx="571.00" cy="278.9" r="2.2" fill="#DCDCDC"/>
<circle cx="571.00" cy="325.0" r="2.2" fill="#DCDCDC"/>
<circle cx="571.00" cy="348.0" r="2.2" fill="#DCDCDC"/>
<circle cx="571.00" cy="302.0" r="2.2" fill="#333"/>
<circle cx="587.20" cy="278.9" r="2.2" fill="#DCDCDC"/>
<circle cx="587.20" cy="302.0" r="2.2" fill="#DCDCDC"/>
<line x1="587.20" y1="325.0" x2="587.20" y2="348.0" stroke="#333" stroke-width="2.0"/>
<circle cx="587.20" cy="325.0" r="2.2" fill="#333"/>
<circle cx="587.20" cy="348.0" r="2.2" fill="#333"/>
<circle cx="603.40" cy="278.9" r="2.2" fill="#DCDCDC"/>
<circle cx="603.40" cy="325.0" r="2.2" fill="#DCDCDC"/>
<line x1="603.40" y1="302.0" x2="603.40" y2="348.0" stroke="#333" stroke-width="2.0"/>
<circle cx="603.40" cy="302.0" r="2.2" fill="#333"/>
<circle cx="603.40" cy="348.0" r="2.2" fill="#333"/>
<circle cx="619.60" cy="302.0" r="2.2" fill="#DCDCDC"/>
<circle cx="619.60" cy="325.0" r="2.2" fill="#DCDCDC"/>
<line x1="619.60" y1="278.9" x2="619.60" y2="348.0" stroke="#333" stroke-width="2.0"/>
<circle cx="619.60" cy="278.9" r="2.2" fill="#333"/>
<circle cx="619.60" cy="348.0" r="2.2" fill="#333"/>
<circle cx="635.80" cy="278.9" r="2.2" fill="#DCDCDC"/>
<circle cx="635.80" cy="348.0" r="2.2" fill="#DCDCDC"/>
<line x1="635.80" y1="302.0" x2="635.80" y2="325.0" stroke="#333" stroke-width="2.0"/>
<circle cx="635.80" cy="302.0" r="2.2" fill="#333"/>
<circle cx="635.80" cy="325.0" r="2.2" fill="#333"/>
<circle cx="652.00" cy="302.0" r="2.2" fill="#DCDCDC"/>
<circle cx="652.00" cy="325.0" r="2.2" fill="#DCDCDC"/>
<circle cx="652.00" cy="348.0" r="2.2" fill="#DCDCDC"/>
<circle cx="652.00" cy="278.9" r="2.2" fill="#333"/>
<circle cx="668.20" cy="278.9" r="2.2" fill="#DCDCDC"/>
<line x1="668.20" y1="302.0" x2="668.20" y2="348.0" stroke="#333" stroke-width="2.0"/>
<circle cx="668.20" cy="302.0" r="2.2" fill="#333"/>
<circle cx="668.20" cy="325.0" r="2.2" fill="#333"/>
<circle cx="668.20" cy="348.0" r="2.2" fill="#333"/>
<circle cx="684.40" cy="302.0" r="2.2" fill="#DCDCDC"/>
<circle cx="684.40" cy="348.0" r="2.2" fill="#DCDCDC"/>
<line x1="684.40" y1="278.9" x2="684.40" y2="325.0" stroke="#333" stroke-width="2.0"/>
<circle cx="684.40" cy="278.9" r="2.2" fill="#333"/>
<circle cx="684.40" cy="325.0" r="2.2" fill="#333"/>
<circle cx="700.60" cy="302.0" r="2.2" fill="#DCDCDC"/>
<line x1="700.60" y1="278.9" x2="700.60" y2="348.0" stroke="#333" stroke-width="2.0"/>
<circle cx="700.60" cy="278.9" r="2.2" fill="#333"/>
<circle cx="700.60" cy="325.0" r="2.2" fill="#333"/>
<circle cx="700.60" cy="348.0" r="2.2" fill="#333"/>
<circle cx="716.80" cy="325.0" r="2.2" fill="#DCDCDC"/>
<circle cx="716.80" cy="348.0" r="2.2" fill="#DCDCDC"/>
<line x1="716.80" y1="278.9" x2="716.80" y2="302.0" stroke="#333" stroke-width="2.0"/>
<circle cx="716.80" cy="278.9" r="2.2" fill="#333"/>
<circle cx="716.80" cy="302.0" r="2.2" fill="#333"/>
<circle cx="733.00" cy="325.0" r="2.2" fill="#DCDCDC"/>
<line x1="733.00" y1="278.9" x2="733.00" y2="348.0" stroke="#333" stroke-width="2.0"/>
<circle cx="733.00" cy="278.9" r="2.2" fill="#333"/>
<circle cx="733.00" cy="302.0" r="2.2" fill="#333"/>
<circle cx="733.00" cy="348.0" r="2.2" fill="#333"/>
<circle cx="749.20" cy="348.0" r="2.2" fill="#DCDCDC"/>
<line x1="749.20" y1="278.9" x2="749.20" y2="325.0" stroke="#333" stroke-width="2.0"/>
<circle cx="749.20" cy="278.9" r="2.2" fill="#333"/>
<circle cx="749.20" cy="302.0" r="2.2" fill="#333"/>
<circle cx="749.20" cy="325.0" r="2.2" fill="#333"/>
<line x1="765.40" y1="278.9" x2="765.40" y2="348.0" stroke="#333" stroke-width="2.0"/>
<circle cx="765.40" cy="278.9" r="2.2" fill="#333"/>
<circle cx="765.40" cy="302.0" r="2.2" fill="#333"/>
<circle cx="765.40" cy="325.0" r="2.2" fill="#333"/>
<circle cx="765.40" cy="348.0" r="2.2" fill="#333"/>
<line x1="458.5" y1="644.10" x2="785" y2="644.10" stroke="#BFBFBF" stroke-width="0.9"/>
<text x="449.9" y="647.1" font-size="8.5" font-weight="normal" font-style="normal" text-anchor="end" fill="#595959" >0.00%</text>
<line x1="458.5" y1="605.72" x2="785" y2="605.72" stroke="#D9D9D9" stroke-width="0.9"/>
<text x="449.9" y="608.7" font-size="8.5" font-weight="normal" font-style="normal" text-anchor="end" fill="#595959" >10.00%</text>
<line x1="458.5" y1="567.34" x2="785" y2="567.34" stroke="#D9D9D9" stroke-width="0.9"/>
<text x="449.9" y="570.3" font-size="8.5" font-weight="normal" font-style="normal" text-anchor="end" fill="#595959" >20.00%</text>
<line x1="458.5" y1="528.96" x2="785" y2="528.96" stroke="#D9D9D9" stroke-width="0.9"/>
<text x="449.9" y="532.0" font-size="8.5" font-weight="normal" font-style="normal" text-anchor="end" fill="#595959" >30.00%</text>
<line x1="458.5" y1="490.58" x2="785" y2="490.58" stroke="#D9D9D9" stroke-width="0.9"/>
<text x="449.9" y="493.6" font-size="8.5" font-weight="normal" font-style="normal" text-anchor="end" fill="#595959" >40.00%</text>
<line x1="458.5" y1="452.20" x2="785" y2="452.20" stroke="#D9D9D9" stroke-width="0.9"/>
<text x="449.9" y="455.2" font-size="8.5" font-weight="normal" font-style="normal" text-anchor="end" fill="#595959" >50.00%</text>
<line x1="458.5" y1="413.82" x2="785" y2="413.82" stroke="#D9D9D9" stroke-width="0.9"/>
<text x="449.9" y="416.8" font-size="8.5" font-weight="normal" font-style="normal" text-anchor="end" fill="#595959" >60.00%</text>
<rect x="467.50" y="433.74" width="18.6" height="210.36" fill="#E8AC3A"/>
<rect x="490.10" y="431.28" width="18.6" height="212.82" fill="#939393"/>
<rect x="512.70" y="432.93" width="18.6" height="211.17" fill="#4472C4"/>
<text x="498.9" y="657.0" font-size="8.6" font-weight="bold" font-style="normal" text-anchor="middle" fill="#222" >VAChT</text>
<rect x="549.70" y="574.94" width="18.6" height="69.16" fill="#E8AC3A"/>
<rect x="572.30" y="577.17" width="18.6" height="66.93" fill="#939393"/>
<rect x="594.90" y="575.51" width="18.6" height="68.59" fill="#4472C4"/>
<text x="581.1" y="657.0" font-size="8.6" font-weight="bold" font-style="normal" text-anchor="middle" fill="#222" >VGlut</text>
<rect x="631.90" y="619.38" width="18.6" height="24.72" fill="#E8AC3A"/>
<rect x="654.50" y="616.89" width="18.6" height="27.21" fill="#939393"/>
<rect x="677.10" y="612.71" width="18.6" height="31.39" fill="#4472C4"/>
<text x="663.3" y="657.0" font-size="8.6" font-weight="bold" font-style="normal" text-anchor="middle" fill="#222" >Gad1</text>
<rect x="714.10" y="641.95" width="18.6" height="2.15" fill="#E8AC3A"/>
<rect x="736.70" y="642.49" width="18.6" height="1.61" fill="#939393"/>
<rect x="759.30" y="642.26" width="18.6" height="1.84" fill="#4472C4"/>
<text x="745.5" y="657.0" font-size="8.6" font-weight="bold" font-style="normal" text-anchor="middle" fill="#222" >Vmat</text>
<text x="474.2" y="430.4" font-size="8.5" font-weight="normal" font-style="normal" text-anchor="middle" fill="#404040" >54.81%</text>
<text x="499.5" y="417.7" font-size="8.5" font-weight="normal" font-style="normal" text-anchor="middle" fill="#404040" >55.45%</text>
<line x1="499.4" y1="419.6" x2="499.2" y2="431" stroke="#A6A6A6" stroke-width="0.8"/>
<text x="526.8" y="428.4" font-size="8.5" font-weight="normal" font-style="normal" text-anchor="middle" fill="#404040" >55.02%</text>
<text x="554.5" y="562.8" font-size="8.5" font-weight="normal" font-style="normal" text-anchor="middle" fill="#404040" >18.02%</text>
<line x1="556" y1="564" x2="558" y2="574.5" stroke="#A6A6A6" stroke-width="0.8"/>
<text x="584.3" y="573.6" font-size="8.5" font-weight="normal" font-style="normal" text-anchor="middle" fill="#404040" >17.44%</text>
<text x="606.2" y="564.3" font-size="8.5" font-weight="normal" font-style="normal" text-anchor="middle" fill="#404040" >17.87%</text>
<line x1="605" y1="566" x2="603.5" y2="575.3" stroke="#A6A6A6" stroke-width="0.8"/>
<text x="638.7" y="610.6" font-size="8.5" font-weight="normal" font-style="normal" text-anchor="middle" fill="#404040" >6.44%</text>
<line x1="640" y1="613" x2="641" y2="618.8" stroke="#A6A6A6" stroke-width="0.8"/>
<text x="662.4" y="604.0" font-size="8.5" font-weight="normal" font-style="normal" text-anchor="middle" fill="#404040" >7.09%</text>
<line x1="663.6" y1="606.3" x2="663.6" y2="616.3" stroke="#A6A6A6" stroke-width="0.8"/>
<text x="690.9" y="605.9" font-size="8.5" font-weight="normal" font-style="normal" text-anchor="middle" fill="#404040" >8.18%</text>
<line x1="690.5" y1="607.6" x2="686.5" y2="612" stroke="#A6A6A6" stroke-width="0.8"/>
<text x="722.7" y="633.5" font-size="8.5" font-weight="normal" font-style="normal" text-anchor="middle" fill="#404040" >0.56%</text>
<line x1="723.3" y1="635.2" x2="723.3" y2="641.4" stroke="#A6A6A6" stroke-width="0.8"/>
<text x="748.0" y="626.9" font-size="8.5" font-weight="normal" font-style="normal" text-anchor="middle" fill="#404040" >0.42%</text>
<line x1="747.5" y1="628.6" x2="745.7" y2="642" stroke="#A6A6A6" stroke-width="0.8"/>
<text x="770.7" y="635.6" font-size="8.5" font-weight="normal" font-style="normal" text-anchor="middle" fill="#404040" >0.48%</text>
<line x1="769.4" y1="637.8" x2="768" y2="641.6" stroke="#A6A6A6" stroke-width="0.8"/>
<line x1="640.5" y1="591.3" x2="664.2" y2="591.3" stroke="#E6198C" stroke-width="1.2"/>
<text x="651.8" y="596.5" font-size="16" font-weight="bold" font-style="normal" text-anchor="middle" fill="#E6198C" >*</text>
<line x1="664.2" y1="582.0" x2="687.8" y2="582.0" stroke="#E6198C" stroke-width="1.2"/>
<text x="676.3" y="587.6" font-size="16" font-weight="bold" font-style="normal" text-anchor="middle" fill="#E6198C" >*</text>
<line x1="722.3" y1="615.2" x2="746.2" y2="615.2" stroke="#E6198C" stroke-width="1.2"/>
<text x="734.2" y="621.0" font-size="16" font-weight="bold" font-style="normal" text-anchor="middle" fill="#E6198C" >*</text>
<rect x="555.9" y="675.1" width="4.6" height="4.6" fill="#E8AC3A"/>
<text x="562.0" y="680.3" font-size="8.3" font-weight="bold" font-style="normal" text-anchor="start" fill="#222" >MPH</text>
<rect x="588.5" y="675.1" width="4.6" height="4.6" fill="#939393"/>
<text x="595.5" y="680.3" font-size="8.3" font-weight="bold" font-style="normal" text-anchor="start" fill="#222" >Control</text>
<rect x="633.7" y="675.1" width="4.6" height="4.6" fill="#4472C4"/>
<text x="639.8" y="680.3" font-size="8.3" font-weight="bold" font-style="normal" text-anchor="start" fill="#222" >ATX</text>
<path d="M168.10,589.10 L179.70,597.53 L175.27,611.17 L160.93,611.17 L156.50,597.53Z" fill="none" stroke="#7a7a7a" stroke-width="0.9"/>
<path d="M168.10,576.90 L191.31,593.76 L182.44,621.04 L153.76,621.04 L144.89,593.76Z" fill="none" stroke="#7a7a7a" stroke-width="0.9"/>
<path d="M168.10,564.70 L202.91,589.99 L189.61,630.91 L146.59,630.91 L133.29,589.99Z" fill="none" stroke="#7a7a7a" stroke-width="0.9"/>
<path d="M168.10,552.50 L214.51,586.22 L196.78,640.78 L139.42,640.78 L121.69,586.22Z" fill="none" stroke="#7a7a7a" stroke-width="0.9"/>
<path d="M168.10,540.30 L226.11,582.45 L203.95,650.65 L132.25,650.65 L110.09,582.45Z" fill="none" stroke="#7a7a7a" stroke-width="0.9"/>
<text x="160.1" y="604.0" font-size="7.5" font-weight="normal" font-style="normal" text-anchor="end" fill="#404040" >0</text>
<text x="160.1" y="591.8" font-size="7.5" font-weight="normal" font-style="normal" text-anchor="end" fill="#404040" >40</text>
<text x="160.1" y="579.6" font-size="7.5" font-weight="normal" font-style="normal" text-anchor="end" fill="#404040" >80</text>
<text x="160.1" y="567.4" font-size="7.5" font-weight="normal" font-style="normal" text-anchor="end" fill="#404040" >120</text>
<text x="160.1" y="555.2" font-size="7.5" font-weight="normal" font-style="normal" text-anchor="end" fill="#404040" >160</text>
<text x="160.1" y="543.0" font-size="7.5" font-weight="normal" font-style="normal" text-anchor="end" fill="#404040" >200</text>
<path d="M168.10,564.70 L188.70,594.61 L186.57,626.72 L152.86,622.27 L112.99,583.39Z" fill="none" stroke="#F2B130" stroke-width="3.7" stroke-linejoin="round"/>
<path d="M168.10,591.54 L172.16,599.98 L174.55,610.18 L167.20,602.53 L152.44,596.21Z" fill="none" stroke="#4268B8" stroke-width="3.6" stroke-linejoin="round"/>
<text x="169.0" y="527.2" font-size="7.5" font-weight="bold" font-style="normal" text-anchor="middle" fill="#111" >Cholinergic</text>
<text x="168.6" y="536.0" font-size="7.5" font-weight="bold" font-style="normal" text-anchor="middle" fill="#111" >neurons</text>
<text x="254.6" y="579.3" font-size="7.5" font-weight="bold" font-style="normal" text-anchor="middle" fill="#111" >Glutamatergic</text>
<text x="254.6" y="588.9" font-size="7.5" font-weight="bold" font-style="normal" text-anchor="middle" fill="#111" >neurons</text>
<text x="242.6" y="654.5" font-size="7.5" font-weight="bold" font-style="normal" text-anchor="middle" fill="#111" >GABAergic neurons</text>
<text x="103.5" y="650.1" font-size="7.5" font-weight="bold" font-style="normal" text-anchor="middle" fill="#111" >Monoaminergic</text>
<text x="103.5" y="659.3" font-size="7.5" font-weight="bold" font-style="normal" text-anchor="middle" fill="#111" >neurons</text>
<text x="98.5" y="583.7" font-size="7.5" font-weight="bold" font-style="normal" text-anchor="middle" fill="#111" >Other</text>
<line x1="131.5" y1="668.3" x2="143.2" y2="668.3" stroke="#4268B8" stroke-width="3.2" stroke-linecap="round"/>
<line x1="131.3" y1="679.4" x2="142.9" y2="679.4" stroke="#F2B130" stroke-width="3.4"/>
<text x="144.7" y="670.2" font-size="6.2" font-weight="normal" font-style="normal" text-anchor="start" fill="#333" >ATX DEGs / cluster numbers</text>
<text x="144.7" y="681.3" font-size="6.2" font-weight="normal" font-style="normal" text-anchor="start" fill="#333" >MPH DEGs / cluster numbers</text>
</svg></body></html>
